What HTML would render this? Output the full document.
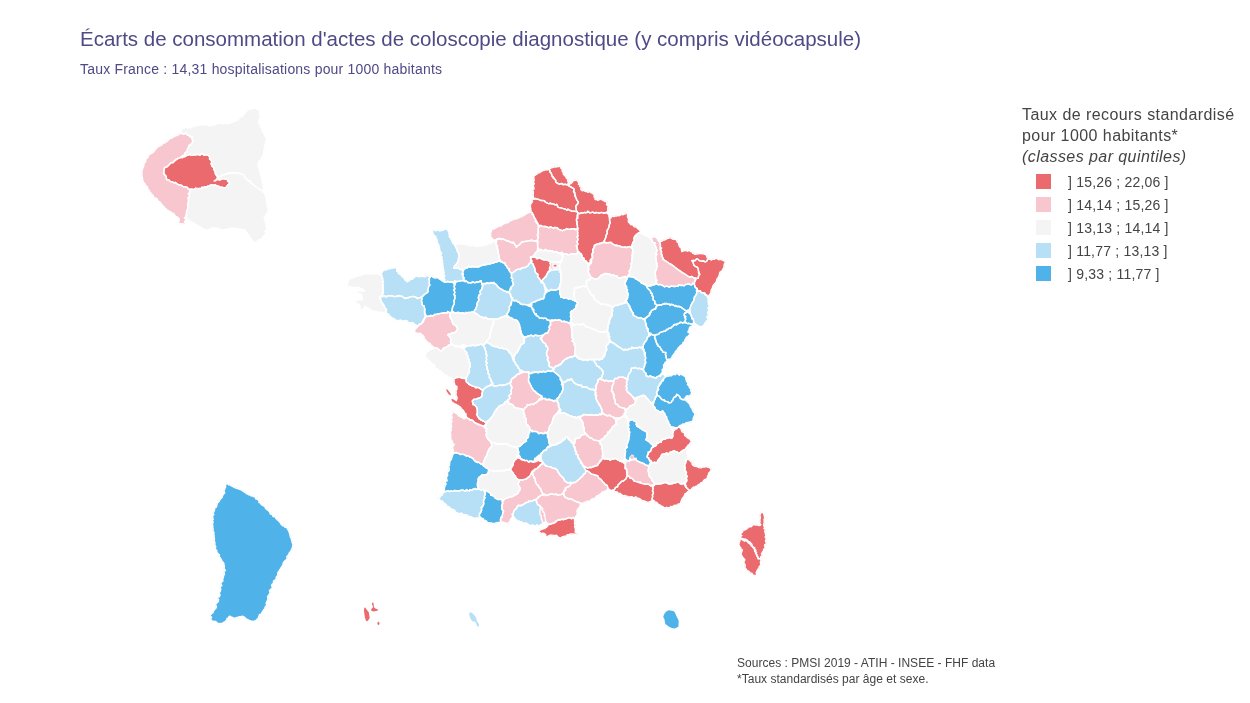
<!DOCTYPE html>
<html lang="fr">
<head>
<meta charset="utf-8">
<title>Écarts de consommation d'actes de coloscopie diagnostique</title>
<style>
html,body{margin:0;padding:0;background:#fff;}
body{width:1250px;height:703px;position:relative;overflow:hidden;font-family:"Liberation Sans",Arial,sans-serif;}
.t{position:absolute;white-space:nowrap;will-change:transform;}
#title{left:79.6px;top:29.4px;font-size:20.5px;line-height:1;color:#4f4986;}
#sub{left:79.5px;top:61.7px;font-size:14px;letter-spacing:0.2px;line-height:1;color:#4f4986;}
#lt{left:1022px;top:103.9px;font-size:16px;letter-spacing:0.43px;line-height:21px;color:#444;}
#lt i{font-style:italic;}
.li{position:absolute;left:1036px;width:15px;height:15px;}
.ll{position:absolute;will-change:transform;left:1068px;font-size:14px;letter-spacing:0.2px;line-height:1;color:#444;white-space:nowrap;}
#src{left:737px;top:655.3px;font-size:12px;letter-spacing:0.02px;line-height:16.4px;color:#444;}
svg{position:absolute;left:0;top:0;}
</style>
</head>
<body>
<svg width="1250" height="703" viewBox="0 0 1250 703">
<g stroke-width="0.6" stroke-linejoin="round">
<polygon fill="#f4f4f4" stroke="#f4f4f4" points="549.9,259.8 562.7,257.7 563.2,271.3 558.9,270.5 547.8,272.2 549.1,262.8"/>
<polygon fill="#ea6a6d" stroke="#ea6a6d" points="534.4,175.8 536.0,174.6 536.5,174.4 537.9,173.1 539.5,172.9 540.5,171.7 541.6,171.5 542.9,170.5 544.2,170.4 545.6,169.9 546.2,169.7 548.4,169.7 548.8,168.2 548.8,168.2 550.1,170.7 550.0,172.3 550.9,172.8 551.9,174.9 552.0,176.5 553.1,176.7 554.3,178.4 555.3,179.9 555.7,181.9 556.9,183.0 558.3,183.5 559.0,184.4 561.3,183.4 561.9,184.2 564.0,184.6 565.4,184.3 567.1,184.7 567.7,184.4 568.5,185.7 570.7,186.9 572.0,187.7 573.8,188.6 574.2,189.5 573.5,191.8 574.8,192.3 574.4,193.1 575.5,195.3 574.7,195.9 575.8,197.3 576.5,199.3 576.8,199.9 578.4,202.1 577.9,203.5 576.3,205.5 575.7,206.1 576.2,208.9 576.2,209.1 576.2,210.4 577.3,211.7 574.9,211.4 574.0,211.2 572.2,211.4 570.8,210.6 569.6,210.3 567.9,209.1 566.9,210.3 565.1,209.0 562.5,208.4 561.2,207.8 560.4,207.8 558.2,207.4 557.4,205.9 556.7,204.3 555.3,204.8 554.8,204.7 552.5,203.7 551.2,203.7 550.4,203.2 548.6,203.6 547.8,203.3 545.3,202.0 544.6,201.0 544.2,200.6 541.8,200.4 541.2,200.6 539.5,199.9 537.9,199.2 537.1,199.3 535.1,198.3 534.4,199.4 532.6,198.6 533.5,197.1 533.1,196.0 533.3,193.1 533.3,191.9 532.7,189.8 534.1,189.0 533.8,187.2 533.3,185.8 533.7,184.2 534.4,183.8 533.1,181.2 534.3,180.7 533.9,179.1 534.0,178.3 533.9,176.0"/>
<polygon fill="#ea6a6d" stroke="#ea6a6d" points="548.8,168.2 550.4,168.3 552.5,167.1 552.9,167.6 554.9,166.6 556.0,167.2 557.7,166.3 558.9,166.7 561.4,165.5 560.6,167.9 561.8,168.6 562.2,170.7 562.4,171.8 563.2,172.4 563.5,174.6 564.8,175.4 565.4,176.5 566.3,177.6 566.4,178.3 568.2,179.4 567.5,181.0 569.2,182.2 567.9,183.0 569.3,184.6 568.6,185.7 569.6,184.1 570.9,183.7 572.0,182.5 572.6,181.8 573.4,180.5 576.0,180.3 575.8,179.8 578.1,179.8 577.3,180.9 579.0,182.8 578.3,184.2 580.3,185.1 579.6,186.3 581.5,187.7 580.7,189.2 582.1,190.7 582.5,190.4 584.1,190.6 585.0,191.3 586.5,191.5 587.9,192.3 588.8,192.0 589.5,191.4 591.1,192.8 592.9,193.2 593.3,194.3 594.4,194.8 594.0,196.9 595.1,197.6 595.0,199.6 597.0,199.4 597.6,200.4 600.1,199.3 600.3,199.2 602.1,199.9 603.6,200.5 604.8,201.6 606.9,201.4 606.8,203.4 606.4,204.4 608.5,206.8 607.7,207.7 607.8,209.4 608.1,209.7 607.2,211.8 606.5,212.4 605.9,212.7 603.6,213.3 602.8,212.6 600.9,212.5 599.6,213.2 598.3,212.9 596.3,212.4 595.6,213.0 593.8,212.7 592.8,212.1 591.2,212.6 589.8,212.9 587.8,211.3 588.0,212.2 585.1,212.7 584.7,212.4 582.4,213.2 581.2,212.7 579.8,213.7 577.8,213.0 577.3,211.7 576.2,210.4 576.2,209.1 576.2,208.9 575.7,206.1 576.3,205.5 577.9,203.5 578.4,202.1 576.8,199.9 576.5,199.3 575.8,197.3 574.7,195.9 575.5,195.3 574.4,193.1 574.8,192.3 573.5,191.8 574.2,189.5 573.8,188.6 572.0,187.7 570.7,186.9 568.5,185.7 567.7,184.4 566.9,184.8 564.8,184.2 563.2,184.8 562.4,183.4 560.0,184.0 558.7,183.8 557.1,183.1 555.7,182.0 556.0,180.5 554.7,179.2 552.9,177.9 553.3,177.1 551.6,175.2 551.5,173.7 550.9,172.5 549.9,171.9 549.9,170.7"/>
<polygon fill="#ea6a6d" stroke="#ea6a6d" points="577.8,213.0 579.8,213.7 581.2,212.7 582.4,213.2 584.7,212.4 585.1,212.7 588.0,212.2 587.8,211.3 589.8,212.9 591.2,212.6 592.8,212.1 593.8,212.7 595.6,213.0 596.3,212.4 598.3,212.9 599.6,213.2 600.9,212.5 602.8,212.6 603.6,213.3 605.9,212.7 606.5,212.4 607.8,213.6 609.3,215.2 609.2,217.0 611.0,217.7 609.5,218.4 609.6,220.5 610.2,223.0 609.5,224.2 609.2,225.5 608.9,227.0 608.2,229.0 607.0,230.6 607.1,231.4 607.4,233.2 605.8,235.8 606.1,237.0 605.5,238.0 604.9,239.7 604.2,240.9 603.4,242.6 601.7,242.6 599.7,243.9 599.7,243.3 597.0,244.2 596.7,244.4 594.9,245.2 594.6,245.5 594.5,247.7 593.9,247.8 592.6,249.9 593.0,250.9 592.9,253.3 591.7,254.2 592.4,256.0 592.8,258.0 591.4,258.4 590.1,260.1 590.1,261.2 590.7,262.9 587.6,264.3 587.4,263.4 586.4,261.3 584.2,260.1 583.9,258.6 584.1,258.4 582.0,257.3 582.0,255.7 581.2,253.8 579.2,253.0 579.5,252.4 578.0,251.2 577.0,249.0 577.2,248.3 577.1,246.7 576.2,245.7 577.9,244.5 577.4,242.3 577.0,242.0 577.8,239.9 577.9,238.7 577.1,236.7 577.9,236.4 577.5,233.9 577.8,232.8 577.4,231.1 577.6,230.5 577.9,228.2 577.3,227.0 577.4,226.6 577.4,224.9 576.7,223.8 577.3,221.7 576.5,221.1 576.6,219.1 577.8,218.0 576.9,217.7 577.7,215.4 578.0,215.4"/>
<polygon fill="#ea6a6d" stroke="#ea6a6d" points="532.6,198.6 534.4,199.4 535.1,198.3 537.1,199.3 537.9,199.2 539.5,199.9 541.2,200.6 541.8,200.4 544.2,200.6 544.6,201.0 545.3,202.0 547.8,203.3 548.6,203.6 550.4,203.2 551.2,203.7 552.5,203.7 554.8,204.7 555.3,204.8 556.7,204.3 557.4,205.9 558.2,207.4 560.4,207.8 561.2,207.8 562.5,208.4 565.1,209.0 566.9,210.3 567.9,209.1 569.6,210.3 570.8,210.6 572.2,211.4 574.0,211.2 574.9,211.4 577.3,211.7 577.7,213.4 577.0,215.9 577.8,216.5 578.0,217.8 576.5,219.1 576.5,221.1 577.3,221.7 576.7,223.8 577.4,224.9 577.4,226.6 577.3,227.0 577.9,228.2 575.3,229.6 574.6,228.7 572.2,228.7 571.2,229.0 569.5,229.4 567.8,229.2 566.8,228.5 565.1,229.7 563.9,229.8 562.6,230.8 560.5,229.8 559.3,229.6 558.1,228.7 557.0,227.6 554.4,227.4 553.9,228.1 551.5,227.3 550.0,227.0 549.1,227.8 546.2,226.6 545.6,226.5 544.2,226.5 541.5,226.4 541.1,225.4 539.4,225.6 537.9,224.2 537.7,223.0 536.3,222.8 536.5,221.1 535.3,218.8 534.2,217.7 534.0,216.8 533.4,214.3 532.0,214.2 532.4,212.7 530.8,212.1 531.1,210.4 530.6,209.1 530.9,208.3 530.1,206.7 530.6,206.2 530.3,204.0 530.9,203.8 532.5,201.6 532.3,201.2 531.7,199.3 532.6,198.6"/>
<polygon fill="#f7c6ce" stroke="#f7c6ce" points="539.4,225.6 541.1,225.4 541.5,226.4 544.2,226.5 545.6,226.5 546.2,226.6 549.1,227.8 550.0,227.0 551.5,227.3 553.9,228.1 554.4,227.4 557.0,227.6 558.1,228.7 559.3,229.6 560.5,229.8 562.6,230.8 563.9,229.8 565.1,229.7 566.8,228.5 567.8,229.2 569.5,229.4 571.2,229.0 572.2,228.7 574.6,228.7 575.3,229.6 577.9,228.2 577.6,230.5 577.4,231.1 577.8,232.8 577.5,233.9 577.9,236.4 577.1,236.7 577.9,238.7 577.8,239.9 577.0,242.0 577.4,242.3 577.9,244.5 576.2,245.7 577.1,246.7 577.2,248.3 577.7,249.4 577.4,251.8 577.3,252.3 576.6,253.9 574.7,253.8 573.6,253.8 572.3,253.6 570.4,254.1 569.6,254.6 567.3,254.5 566.6,253.6 564.8,254.3 562.5,253.1 561.8,252.3 560.2,252.8 557.9,253.0 557.3,251.7 555.5,251.8 553.3,252.1 552.6,251.0 550.5,251.0 548.9,250.5 548.5,251.1 547.2,250.9 545.4,249.4 544.1,250.6 543.1,250.6 541.5,249.9 541.0,249.3 539.5,250.8 538.8,248.2 538.1,247.7 537.6,247.1 537.7,244.9 537.3,243.3 537.6,243.3 537.9,241.1 537.4,241.0 537.7,239.3 538.0,237.8 538.5,237.0 537.2,235.1 538.6,233.6 538.1,232.1 538.2,231.5 538.2,229.1 538.4,228.2 539.1,227.0"/>
<polygon fill="#ea6a6d" stroke="#ea6a6d" points="606.5,212.4 607.8,213.5 609.2,215.2 609.2,216.6 610.8,217.6 611.8,216.3 612.2,216.4 614.5,216.5 614.4,215.8 616.8,216.1 617.4,215.4 618.9,215.9 620.3,215.1 621.6,214.2 622.8,214.8 624.8,213.9 625.8,213.7 626.4,210.9 626.8,209.1 627.1,208.5 627.5,209.3 626.6,211.5 627.3,212.5 627.5,215.1 627.5,216.0 627.5,217.0 628.2,218.0 628.4,219.3 628.4,221.9 628.7,222.5 629.8,223.2 630.5,224.5 632.7,224.9 633.3,225.7 634.5,226.9 636.2,227.1 637.2,228.1 638.1,229.1 639.6,230.0 639.6,230.6 641.1,232.6 639.0,232.9 637.9,233.5 637.0,233.9 636.1,236.5 634.8,236.5 633.7,238.4 634.1,239.0 634.5,240.6 633.5,241.6 632.9,242.9 632.3,244.7 632.0,245.5 631.9,247.9 629.6,246.4 628.1,246.9 626.8,247.5 624.9,247.0 624.2,247.5 621.7,246.9 621.8,247.2 620.2,246.1 618.2,245.8 617.0,245.2 615.5,245.6 614.7,244.6 613.5,244.6 611.8,243.3 611.0,242.3 608.4,242.6 607.7,242.6 605.7,242.7 604.2,242.3 603.4,242.6 604.2,240.9 604.9,239.7 605.5,238.0 606.1,237.0 605.8,235.8 607.4,233.2 607.1,231.4 607.0,230.6 608.2,229.0 608.9,227.0 609.2,225.5 609.5,224.2 610.2,223.0 609.6,220.5 609.5,218.4 611.0,217.7 609.2,217.0 609.3,215.2 607.8,213.6"/>
<polygon fill="#f7c6ce" stroke="#f7c6ce" points="490.6,236.7 490.5,235.4 491.0,234.2 490.0,233.0 491.5,231.5 491.3,230.2 490.7,228.9 493.2,229.4 493.9,228.4 494.6,228.6 496.6,227.3 497.4,227.0 498.5,226.3 499.5,225.9 501.1,226.0 501.9,224.9 502.5,224.8 504.8,223.2 505.2,223.5 506.0,222.5 508.3,222.7 508.8,221.7 510.0,221.1 511.6,220.4 512.8,219.7 513.9,219.2 516.8,218.8 517.5,217.7 518.8,218.0 520.9,216.6 521.6,216.9 522.0,215.7 523.7,215.8 525.0,214.4 525.9,214.2 526.9,213.4 527.6,212.7 529.6,212.5 529.7,211.7 530.8,212.1 532.3,212.6 532.5,214.4 533.4,215.7 534.2,217.3 534.4,217.9 535.5,218.7 535.2,221.2 537.0,221.6 536.3,222.4 538.1,223.8 538.0,225.9 539.0,226.9 538.2,228.0 538.2,229.3 538.4,231.3 538.0,232.0 538.4,233.5 537.5,235.4 538.4,236.7 538.0,237.8 537.3,239.3 537.5,240.9 535.8,241.2 535.7,240.7 533.9,241.1 532.8,240.9 531.2,239.8 531.0,240.6 528.4,240.8 527.1,241.2 525.4,241.4 524.4,241.4 522.0,241.9 521.0,243.0 520.4,243.5 519.2,244.9 517.6,245.8 516.3,247.4 516.1,245.7 515.0,245.1 514.8,244.3 513.2,242.0 512.3,243.1 510.9,242.2 509.2,241.7 508.4,240.6 506.1,240.7 505.3,239.6 504.4,239.7 502.4,238.8 502.0,239.5 499.2,238.5 498.8,239.2 496.9,239.2 496.0,239.9 495.8,240.1 493.3,239.6 492.4,238.9 491.5,237.7"/>
<polygon fill="#f7c6ce" stroke="#f7c6ce" points="496.9,238.8 498.6,239.2 499.2,238.2 502.1,239.5 502.4,238.8 504.4,239.7 505.3,239.6 506.1,240.7 508.4,240.6 509.2,241.7 510.9,242.2 512.3,243.1 513.2,242.0 514.8,244.3 515.0,245.1 516.1,245.7 516.3,247.4 517.6,245.8 519.2,244.9 520.4,243.5 521.0,243.0 521.8,241.9 524.5,241.7 525.4,241.4 527.0,241.3 528.4,240.8 531.0,240.6 531.2,239.8 532.8,240.9 533.9,241.1 535.7,240.7 535.8,241.2 537.5,240.9 537.9,242.8 537.4,243.3 537.7,244.9 537.6,247.2 537.5,247.8 537.5,249.4 537.2,250.8 536.3,252.0 535.8,252.4 534.8,253.6 534.0,255.7 533.8,255.8 532.0,256.7 530.5,257.4 530.7,259.2 530.7,260.4 530.7,262.4 529.6,263.3 528.6,264.6 527.9,266.0 527.4,266.1 525.4,267.3 524.5,267.6 524.0,267.4 521.8,268.2 521.6,268.1 520.3,269.5 519.0,269.1 517.6,269.4 516.0,270.2 513.5,272.1 513.1,272.6 511.5,273.1 510.5,272.3 509.3,270.7 507.8,268.4 507.4,267.5 507.0,266.2 505.3,264.9 505.1,263.0 503.2,262.9 501.8,261.7 501.0,261.2 500.0,260.7 499.1,258.6 499.5,257.3 498.5,254.8 498.6,253.9 497.8,252.1 498.1,251.9 497.7,250.6 497.6,248.0 496.7,247.3 497.6,245.8 496.1,244.9 496.3,243.6 496.7,241.0"/>
<polygon fill="#f4f4f4" stroke="#f4f4f4" points="454.8,244.7 455.0,244.7 456.9,244.1 457.8,243.4 459.3,244.1 461.0,243.5 461.1,243.6 462.8,244.0 464.7,244.6 465.5,244.0 467.6,244.4 468.5,245.7 470.2,245.2 471.0,246.0 472.3,245.4 474.9,246.2 475.2,246.0 477.4,246.2 477.9,245.8 479.2,246.1 480.7,245.6 482.3,246.1 483.8,244.9 486.1,245.2 487.4,243.9 487.8,244.2 490.3,243.1 491.1,243.5 491.6,242.4 493.7,241.8 495.8,240.1 495.1,241.0 496.3,243.6 496.1,244.8 497.6,246.0 497.1,247.9 497.1,248.7 498.4,250.7 497.8,251.4 498.6,253.9 499.0,255.3 498.6,256.5 499.4,257.5 499.0,258.6 500.6,260.2 499.3,261.4 498.4,260.9 496.6,262.2 495.6,261.9 493.3,263.1 492.7,262.9 489.7,264.0 488.6,263.7 487.3,264.5 485.9,264.4 484.6,265.2 483.1,264.5 481.9,265.6 480.3,265.9 479.1,266.8 477.6,267.0 476.2,266.5 474.9,267.1 473.0,266.5 471.9,266.8 470.5,267.3 469.1,266.5 468.4,266.5 467.4,267.9 465.4,268.3 463.7,269.9 463.0,270.5 461.5,269.5 460.6,269.6 458.8,268.5 457.6,268.1 455.7,267.9 453.6,268.4 454.6,265.8 455.7,265.0 456.8,263.4 457.8,261.9 458.3,260.6 458.4,258.9 458.9,256.8 459.1,256.7 459.1,254.4 458.3,253.0 458.6,253.4 457.3,251.1 457.0,249.3 456.4,248.6 455.7,246.8 455.0,245.6"/>
<polygon fill="#b7e0f6" stroke="#b7e0f6" points="431.8,229.0 433.1,229.5 435.3,229.4 434.9,230.7 436.8,230.5 437.9,229.6 439.7,231.0 439.7,231.0 442.1,230.0 442.7,230.5 444.2,229.5 445.8,228.7 446.7,229.3 448.3,230.4 448.2,231.5 449.5,232.6 448.8,234.1 450.0,235.3 449.0,236.5 450.5,238.1 450.8,239.0 451.8,240.6 452.3,242.1 453.1,243.7 454.8,244.7 454.8,244.7 455.0,245.6 455.7,246.8 456.4,248.6 457.0,249.3 457.3,251.1 458.6,253.4 458.3,253.0 459.1,254.4 459.1,256.7 458.9,256.8 458.4,258.9 458.3,260.6 457.8,261.9 456.8,263.4 455.7,265.0 454.6,265.8 453.6,268.4 455.7,267.9 457.6,268.1 458.8,268.5 460.6,269.6 461.5,269.5 463.0,270.5 463.0,271.5 462.5,272.3 463.4,274.2 461.9,274.0 463.2,276.3 463.1,277.9 464.1,277.6 463.7,279.5 463.1,280.1 461.4,280.6 459.7,281.3 458.2,281.3 456.8,281.5 454.7,280.8 454.2,282.0 451.1,282.0 450.9,282.0 448.8,282.1 447.8,281.2 446.1,282.3 444.4,282.3 444.4,282.3 444.6,280.7 445.0,279.4 443.5,277.5 445.0,276.1 443.8,275.3 444.1,273.2 443.9,271.9 443.4,269.5 443.6,269.1 443.0,267.7 443.2,266.2 442.5,265.0 443.0,263.1 441.8,262.8 442.6,260.4 441.6,259.4 442.1,257.0 440.5,255.7 441.7,253.5 440.8,252.2 440.6,251.5 439.4,250.1 439.8,248.3 438.7,247.8 439.6,246.8 438.1,244.6 438.6,244.0 436.8,243.4 437.5,241.1 436.3,240.3 437.0,239.8 435.9,237.7 435.8,236.7 434.3,235.3 433.5,235.0 432.8,233.1 432.6,231.6 432.4,230.7"/>
<polygon fill="#4fb2e8" stroke="#4fb2e8" points="463.0,270.5 463.7,269.9 465.4,268.3 467.4,267.9 468.4,266.5 469.1,266.5 470.5,267.3 471.9,266.8 473.0,266.5 474.9,267.1 476.2,266.5 477.6,267.0 479.1,266.8 480.3,265.9 481.9,265.6 483.1,264.5 484.6,265.2 485.9,264.4 487.3,264.5 488.6,263.7 489.7,264.0 492.7,262.9 493.3,263.1 495.6,261.9 496.6,262.2 498.4,260.9 499.3,261.4 501.2,262.2 502.2,261.8 503.1,262.9 505.1,263.0 505.2,264.8 507.0,266.4 507.1,267.5 507.5,268.1 509.6,268.9 509.1,270.7 510.6,272.6 511.5,273.1 511.4,274.9 511.7,275.9 511.2,277.6 512.7,278.9 512.2,280.9 513.1,282.5 512.7,282.8 513.6,284.2 512.5,286.0 511.6,286.6 511.3,287.6 511.0,289.0 510.3,289.2 509.3,291.8 508.2,291.8 506.8,291.5 504.7,291.4 503.0,290.4 501.9,289.2 500.7,288.9 499.4,288.1 497.4,286.4 496.8,284.9 495.7,284.0 494.0,283.6 494.1,282.4 491.9,283.1 491.1,282.5 488.9,283.5 486.9,282.9 486.0,283.7 485.1,283.4 483.6,283.5 482.0,284.9 481.6,282.5 481.1,280.7 479.6,281.6 477.4,282.2 475.7,282.5 474.4,282.7 472.3,281.8 471.3,282.8 469.4,282.9 467.9,282.7 467.9,282.1 465.4,280.7 465.3,280.5 463.7,279.5 464.1,277.6 463.1,277.9 463.2,276.3 461.9,274.0 463.4,274.2 462.5,272.3 463.0,271.5"/>
<polygon fill="#ea6a6d" stroke="#ea6a6d" points="530.4,257.2 532.9,257.1 532.7,257.0 534.9,257.3 535.6,257.3 537.0,258.8 539.4,257.7 540.9,258.6 542.3,259.0 542.8,259.6 544.1,259.9 546.5,259.8 546.9,260.2 548.9,260.1 549.3,261.4 550.7,261.6 550.6,261.8 549.8,263.1 550.7,265.0 550.4,265.9 549.7,267.1 549.4,268.9 550.5,270.2 549.5,271.1 548.0,271.8 547.5,273.0 547.0,273.9 546.7,274.3 546.0,276.9 545.2,276.8 544.0,278.5 542.8,279.3 541.8,281.4 541.1,282.5 541.0,281.5 540.0,279.5 539.1,278.3 537.6,276.8 538.0,274.3 536.4,273.4 535.6,272.3 534.7,269.8 534.9,268.6 534.1,266.9 533.3,265.2 533.4,264.5 531.5,262.3 532.1,260.9 530.8,259.9 531.2,258.9"/>
<polygon fill="#f4f4f4" stroke="#f4f4f4" points="536.3,252.1 538.0,250.7 539.6,250.7 540.5,249.4 542.7,250.3 543.9,250.8 545.6,249.4 546.4,250.4 548.2,251.3 548.4,250.5 550.6,250.8 551.2,251.0 553.0,251.2 553.4,252.2 555.4,251.9 556.0,251.3 558.0,252.6 558.5,252.8 559.5,253.6 560.7,254.2 561.8,255.4 562.8,255.7 562.7,257.1 562.3,258.9 561.7,261.3 560.9,261.8 559.5,262.5 557.8,261.7 556.5,261.8 555.1,261.8 553.3,262.0 552.0,262.4 550.7,261.7 548.6,260.8 546.9,260.2 546.5,259.8 544.1,259.9 542.8,259.6 542.3,259.0 540.9,258.6 539.4,257.7 537.0,258.8 535.6,257.3 534.9,257.3 532.7,257.0 532.9,257.1 530.4,257.2 532.0,256.7 533.8,255.8 534.0,255.8 534.8,253.5 535.8,252.4"/>
<polygon fill="#b7e0f6" stroke="#b7e0f6" points="549.3,270.3 550.1,271.2 551.7,270.0 553.4,270.1 554.3,270.0 556.5,269.0 556.9,270.0 559.4,269.8 559.6,269.0 559.6,268.9 560.7,270.9 559.8,272.1 561.1,273.0 560.6,275.4 560.7,276.2 560.9,277.7 560.8,278.2 560.7,280.4 561.0,281.1 560.7,282.2 560.3,284.2 559.9,284.6 560.2,286.5 559.4,287.1 558.4,288.5 557.5,289.6 555.8,290.0 554.8,290.0 553.0,290.1 551.7,289.3 549.9,290.7 548.5,290.8 546.8,289.2 546.1,288.3 545.9,287.9 544.0,286.0 544.8,284.6 543.0,283.6 543.4,282.6 541.8,281.4 542.8,279.3 544.0,278.5 545.2,276.8 546.0,276.9 546.7,274.3 547.3,274.7 547.8,272.1 548.7,272.3"/>
<polygon fill="#f7c6ce" stroke="#f7c6ce" points="594.9,245.3 596.5,244.2 596.7,244.4 599.7,243.3 600.3,243.6 602.7,242.4 604.1,242.7 605.6,242.1 606.4,242.9 608.2,242.6 608.4,242.4 611.3,242.6 612.0,243.2 613.5,244.6 614.6,244.6 615.4,245.5 616.8,245.2 617.8,245.8 619.8,245.7 620.4,246.9 622.2,246.9 623.3,247.3 625.1,247.0 626.7,247.6 628.1,246.9 629.7,246.6 630.9,247.3 631.9,248.2 632.5,249.1 632.9,250.7 632.4,252.2 633.0,253.4 632.2,254.3 632.1,256.2 632.5,257.3 631.8,258.1 631.8,260.3 631.7,261.1 632.0,262.5 630.8,263.8 631.7,265.7 631.4,266.0 630.5,268.5 630.6,268.5 629.8,270.9 629.0,271.1 629.8,273.1 629.5,273.8 628.1,275.4 627.6,276.3 627.6,277.4 624.9,276.5 624.8,276.7 622.6,277.5 621.6,277.4 620.4,278.3 618.4,277.8 617.4,277.3 617.0,275.9 614.3,275.5 613.1,274.6 612.2,275.3 610.3,274.9 609.8,273.9 607.4,274.0 606.9,273.4 605.5,274.0 604.2,273.4 602.9,274.8 601.6,274.7 600.5,276.0 599.3,277.1 598.6,278.3 597.5,278.6 595.7,279.1 595.4,279.4 593.3,278.4 593.2,278.3 590.7,278.0 590.8,277.1 589.9,275.2 588.6,274.4 588.8,273.1 587.9,271.1 588.5,270.6 588.8,268.7 587.9,266.6 588.9,266.2 590.0,263.5 591.0,263.6 591.6,261.5 591.6,260.4 591.7,258.4 592.4,258.0 591.9,255.6 592.4,255.7 592.3,253.1 593.2,252.2 593.0,250.8 593.0,249.6 593.7,247.8 594.4,245.3"/>
<polygon fill="#f4f4f4" stroke="#f4f4f4" points="634.6,236.3 636.1,234.8 637.3,233.9 638.8,232.7 639.7,232.7 640.9,232.8 642.7,234.1 642.7,234.2 644.9,235.3 645.0,235.5 647.0,236.1 647.8,236.5 648.7,236.8 648.7,236.8 650.2,238.3 650.5,238.5 651.8,239.6 652.2,241.5 652.8,242.3 655.2,243.0 654.3,244.2 655.5,246.4 656.3,248.1 656.5,249.0 657.2,250.9 656.7,251.0 655.5,253.6 657.0,254.1 656.2,255.7 655.5,256.7 656.4,258.9 656.3,259.7 656.1,261.1 657.0,263.4 656.2,263.7 657.1,265.1 657.0,266.4 656.4,269.2 656.3,270.2 655.4,271.1 655.1,273.1 655.4,274.6 655.6,277.0 655.7,277.6 655.6,279.0 657.1,280.2 655.7,281.5 657.3,284.1 655.4,284.0 654.3,285.0 653.3,284.5 651.0,285.2 650.9,285.9 648.7,286.1 647.8,286.0 645.7,285.2 644.1,284.2 643.5,283.9 641.4,283.2 640.3,281.7 640.1,281.1 638.0,280.4 638.0,279.4 636.0,279.2 635.7,277.9 634.2,277.8 632.8,276.8 631.7,276.5 630.0,276.8 628.2,275.2 629.5,273.9 629.6,273.0 629.0,271.1 629.8,270.9 630.6,268.5 630.5,268.5 631.4,266.0 631.7,265.7 630.8,263.8 632.0,262.5 631.7,261.1 631.8,260.3 631.8,258.1 632.5,257.3 632.1,256.2 632.2,254.3 633.0,253.4 632.4,252.2 632.9,250.7 632.5,249.1 631.9,248.2 630.9,247.3 631.9,244.9 632.4,244.5 632.7,242.7 633.5,241.6 634.3,240.8 634.3,238.7 634.1,238.8"/>
<polygon fill="#f7c6ce" stroke="#f7c6ce" points="648.7,236.8 650.1,238.3 650.7,238.2 652.9,237.1 654.0,237.1 654.3,236.3 656.4,238.0 657.8,238.6 657.6,239.6 658.9,241.3 659.9,241.6 660.1,242.8 660.4,244.8 660.4,246.2 660.1,248.1 661.5,247.9 660.3,249.7 661.5,251.5 661.5,252.7 661.3,254.4 662.0,254.9 662.2,256.7 663.4,258.6 662.9,259.5 663.9,259.7 665.2,260.9 665.9,261.0 667.3,262.3 668.2,262.4 669.2,263.6 670.7,264.0 671.1,264.4 673.2,265.8 673.8,266.2 675.0,267.3 676.8,268.5 676.8,268.8 678.9,270.1 679.1,270.5 680.1,270.9 681.7,272.1 681.5,272.3 683.8,273.3 686.3,275.0 687.8,276.1 688.7,276.7 689.9,277.1 691.9,276.4 693.7,278.0 695.2,277.9 695.2,278.7 695.0,281.3 694.4,282.1 694.4,283.6 692.7,283.2 691.9,284.8 689.7,284.5 689.3,284.0 686.6,284.4 685.6,284.5 683.8,285.9 682.1,285.1 681.3,285.5 678.9,284.8 678.4,286.0 675.6,286.4 674.8,286.5 672.3,286.3 671.1,285.9 669.3,287.2 667.7,286.4 666.3,286.1 664.4,286.8 662.9,285.7 661.6,285.0 660.0,284.4 658.7,284.9 657.3,284.1 655.7,281.5 657.1,280.2 655.6,279.0 655.7,277.6 655.6,277.0 655.4,274.6 655.1,273.1 655.4,271.1 656.3,270.2 656.4,269.2 657.0,266.4 657.1,265.1 656.2,263.7 657.0,263.4 656.1,261.1 656.3,259.7 656.4,258.9 655.5,256.7 656.2,255.7 657.0,254.1 655.5,253.6 656.7,251.0 657.2,250.9 656.5,249.0 656.3,248.1 655.5,246.4 654.3,244.2 655.2,243.0 652.8,242.3 652.2,241.5 651.8,239.6 650.5,238.5 650.2,238.3"/>
<polygon fill="#ea6a6d" stroke="#ea6a6d" points="659.6,241.4 662.2,241.3 662.6,240.4 664.3,240.0 665.8,239.3 666.5,238.9 668.1,238.3 669.6,237.9 671.1,237.9 672.4,239.0 674.6,239.4 676.6,239.8 676.9,240.8 677.2,242.1 678.6,243.0 678.7,244.5 679.7,246.9 681.0,247.6 681.3,248.9 681.8,251.5 684.4,250.7 684.7,250.5 687.1,250.7 687.6,251.2 689.0,250.4 690.2,251.1 692.6,252.5 692.7,253.2 693.7,253.4 695.0,254.3 696.3,254.0 698.8,253.8 699.6,253.6 702.2,253.6 702.1,253.9 703.8,253.9 705.4,254.7 706.4,254.4 706.6,255.9 707.3,257.9 708.2,258.2 708.1,258.9 708.1,258.9 707.2,260.1 706.5,261.3 705.1,261.8 703.5,260.9 701.4,261.1 699.3,260.6 698.2,259.4 696.6,259.0 694.9,260.7 693.5,260.4 691.8,260.8 692.9,261.2 693.2,262.6 693.8,265.1 694.6,265.8 695.4,266.3 697.5,267.4 697.3,267.5 698.3,268.6 698.4,270.7 699.0,272.5 698.5,272.7 699.8,274.2 698.7,275.4 698.4,276.6 698.4,278.1 697.0,278.2 695.2,277.9 693.7,278.0 691.9,276.4 689.9,277.1 688.7,276.7 687.8,276.1 686.3,275.0 683.8,273.3 681.5,272.3 681.7,272.1 680.1,270.9 679.1,270.5 678.9,270.1 676.8,268.8 676.8,268.5 675.0,267.3 673.8,266.2 673.2,265.8 671.1,264.4 670.7,264.0 669.2,263.6 668.2,262.4 667.3,262.3 665.9,261.0 665.2,260.9 663.9,259.7 662.9,259.5 663.4,258.6 662.2,256.7 662.0,254.9 661.3,254.4 661.5,252.7 661.5,251.4 660.3,249.8 661.6,248.1 660.1,248.3 660.4,246.2 660.5,244.6 659.8,243.0"/>
<polygon fill="#ea6a6d" stroke="#ea6a6d" points="691.8,260.8 693.5,260.4 694.9,260.7 696.6,259.0 698.2,259.4 699.3,260.6 701.4,261.1 703.5,260.9 705.1,261.8 706.5,261.3 707.2,260.1 708.1,258.9 710.1,259.2 711.5,260.1 712.2,259.0 714.4,259.3 713.9,259.0 716.2,258.3 717.3,258.5 718.6,259.7 719.0,259.4 721.2,259.6 722.2,259.8 723.6,260.9 724.6,260.9 725.5,262.2 724.5,263.7 724.1,264.9 724.0,266.8 723.5,268.7 722.8,268.9 722.3,270.6 721.3,271.3 719.9,272.4 719.5,273.7 719.5,274.3 718.5,277.0 717.7,278.1 717.0,278.9 716.3,281.7 715.4,283.1 714.3,284.1 713.1,285.5 712.2,288.4 711.6,289.1 711.2,290.0 710.7,293.0 709.9,294.1 708.8,295.4 707.6,296.9 707.0,296.2 706.6,294.7 704.8,294.6 704.9,293.2 702.9,292.8 700.9,292.2 700.2,290.6 698.8,291.0 697.1,289.4 696.6,288.0 695.4,287.6 695.1,286.7 694.4,284.5 694.4,283.6 694.5,281.4 695.4,281.2 695.7,279.5 696.8,278.7 698.4,278.1 698.4,276.6 698.7,275.4 699.8,274.2 698.5,272.7 699.0,272.5 698.4,270.7 698.3,268.6 697.3,267.5 697.5,267.4 695.4,266.3 694.6,265.8 693.8,265.1 693.2,262.6 692.9,261.2"/>
<polygon fill="#b7e0f6" stroke="#b7e0f6" points="698.8,291.0 700.3,290.6 701.0,292.3 702.7,293.1 705.0,293.2 705.2,294.8 706.6,295.3 707.2,296.2 707.6,296.9 707.6,296.9 708.1,298.9 708.7,299.9 707.7,301.1 709.2,303.3 708.3,303.3 708.7,304.9 709.5,306.2 707.7,308.0 708.4,308.5 708.9,310.6 707.8,311.9 707.6,312.7 708.4,314.6 708.0,316.0 706.7,317.1 708.2,318.4 707.4,320.6 706.7,320.8 705.5,322.4 704.3,324.4 703.3,325.4 702.5,326.2 702.2,326.4 700.9,326.8 699.9,326.4 697.6,325.8 697.5,325.4 696.0,324.2 694.5,324.9 693.5,323.3 693.9,322.3 693.3,319.7 692.9,318.6 692.1,318.8 691.5,316.5 690.9,314.5 690.2,314.0 690.3,312.6 690.0,310.9 689.7,310.2 690.1,307.6 690.3,307.2 690.9,305.7 692.0,302.9 692.9,302.0 693.6,300.8 694.1,299.0 694.5,296.5 695.2,296.5 696.3,294.0 696.5,294.2 697.0,291.6"/>
<polygon fill="#4fb2e8" stroke="#4fb2e8" points="647.0,287.3 647.5,287.1 649.2,285.2 651.1,286.1 651.1,285.2 653.3,284.6 654.2,284.7 655.3,284.0 657.3,284.1 658.7,284.9 660.0,284.4 661.6,285.0 662.9,285.7 664.4,286.8 666.3,286.1 667.7,286.4 669.3,287.2 671.1,285.9 672.3,286.3 674.8,286.5 675.6,286.4 678.4,286.0 678.9,284.8 681.3,285.5 682.1,285.1 683.8,285.9 685.6,284.5 686.6,284.4 689.3,284.0 689.7,284.5 691.9,284.8 692.7,283.2 694.4,283.6 694.4,284.5 695.1,286.7 695.4,287.6 697.4,288.7 696.3,290.7 697.0,291.6 696.5,294.2 696.3,294.0 695.2,296.5 694.5,296.5 694.1,299.0 693.6,300.8 692.9,302.0 692.0,302.9 690.9,305.7 690.3,307.2 690.1,307.6 689.7,310.2 688.2,309.7 686.7,311.1 686.5,311.2 684.4,309.6 682.6,308.5 682.2,308.1 680.8,307.0 680.3,307.1 679.0,306.3 677.1,306.6 676.4,306.2 674.7,306.1 674.0,305.3 671.6,304.4 670.0,305.4 669.6,304.3 667.9,304.1 666.4,303.3 664.9,304.3 663.1,303.8 661.7,305.0 660.2,304.6 657.9,305.3 656.9,305.1 655.7,304.1 654.7,303.7 654.9,301.2 653.3,300.0 653.0,299.0 653.3,296.6 651.9,295.6 652.4,293.7 650.6,292.9 650.7,291.5 650.2,290.7 648.4,289.0 647.9,288.7"/>
<polygon fill="#4fb2e8" stroke="#4fb2e8" points="630.4,276.3 632.0,277.1 633.0,276.8 634.2,277.8 635.7,277.9 636.0,279.2 638.0,279.4 638.0,280.4 640.1,281.1 640.3,281.7 641.4,283.2 643.5,283.9 644.1,284.2 645.7,285.2 647.1,287.2 647.7,288.5 648.4,289.0 650.2,290.7 650.7,291.5 650.6,292.9 652.4,293.7 651.9,295.6 653.3,296.6 653.0,299.0 653.3,300.0 654.9,301.2 654.7,303.7 655.7,304.1 656.9,305.1 656.3,307.1 655.7,307.0 655.2,309.3 654.4,309.0 652.4,310.4 651.2,310.4 651.1,312.1 649.7,312.5 649.1,315.0 649.5,315.5 646.5,316.9 645.9,318.6 645.5,318.3 644.8,319.6 642.5,318.8 640.2,317.5 638.7,318.0 638.0,317.7 636.1,316.8 635.2,316.4 633.9,315.4 633.1,315.0 632.3,311.9 631.7,311.1 631.0,310.7 631.1,308.8 629.6,308.1 630.1,306.4 628.5,305.9 628.7,304.4 627.4,303.2 627.1,302.2 626.0,300.7 627.4,298.6 627.7,297.0 627.7,296.0 628.4,293.8 627.2,292.6 627.5,290.0 626.5,289.0 626.6,286.8 626.3,286.5 625.7,285.8 624.9,283.5 624.6,282.5 625.5,282.1 626.5,279.9 627.1,278.9 627.3,277.5 628.9,276.5 630.5,276.5"/>
<polygon fill="#4fb2e8" stroke="#4fb2e8" points="642.8,318.7 643.1,318.8 645.7,317.8 646.8,317.5 647.8,316.5 649.7,314.9 650.0,314.6 650.5,312.5 651.2,311.7 652.0,310.1 654.1,309.1 655.6,309.2 656.2,307.3 656.9,306.4 658.0,305.2 658.9,305.3 660.6,304.7 661.6,305.1 662.6,304.2 664.7,304.2 664.8,303.2 667.5,304.1 669.6,304.3 669.6,304.8 672.0,304.3 673.0,304.7 674.5,305.8 676.0,305.5 676.7,306.6 679.2,306.3 679.8,307.1 680.8,307.0 682.3,308.2 682.8,308.5 684.6,309.9 685.0,310.2 686.9,311.3 685.7,313.2 684.5,313.2 684.2,315.7 685.9,316.6 684.5,317.1 685.8,319.1 685.4,319.7 685.0,321.3 686.2,322.9 683.6,322.4 682.8,323.0 681.4,322.4 680.1,322.3 679.6,323.4 678.0,323.5 676.5,324.9 676.4,324.3 673.8,324.8 673.7,325.5 672.8,326.2 671.4,327.4 670.4,328.4 669.0,328.3 667.7,329.6 666.6,329.5 665.5,331.0 663.6,331.1 663.2,331.6 661.9,331.9 659.7,332.6 659.3,333.4 658.5,334.2 655.9,334.8 655.9,334.8 653.7,335.4 651.8,334.4 650.8,333.1 648.7,332.6 648.7,332.5 647.9,331.1 648.2,328.9 646.7,328.6 647.1,327.8 645.8,325.1 646.5,324.2 645.8,324.2 645.4,321.8 644.9,320.1 644.5,319.3"/>
<polygon fill="#4fb2e8" stroke="#4fb2e8" points="686.9,311.3 687.7,312.4 688.5,312.6 690.3,314.0 690.3,314.1 690.9,314.5 691.4,316.5 692.1,318.8 692.8,318.5 693.5,319.7 693.5,322.4 694.0,322.6 695.7,324.4 693.1,325.2 692.8,323.9 691.2,324.2 689.0,323.3 687.9,323.6 686.3,323.1 686.2,322.9 685.0,321.3 685.4,319.7 685.8,319.1 684.5,317.1 685.9,316.6 684.2,315.7 684.5,313.2 685.7,313.2"/>
<polygon fill="#f4f4f4" stroke="#f4f4f4" points="590.7,278.0 593.2,278.3 593.3,278.4 595.4,279.4 595.7,279.1 597.5,278.6 598.6,278.3 599.3,277.1 600.5,276.0 601.6,274.7 602.9,274.8 604.2,273.4 605.5,274.0 606.9,273.4 607.4,274.0 609.8,273.9 610.3,274.9 612.2,275.3 613.1,274.6 614.3,275.5 617.0,275.9 617.4,277.3 618.4,277.8 620.4,278.3 621.6,277.4 622.6,277.5 624.8,276.7 624.9,276.5 627.6,277.4 627.6,276.3 627.5,277.7 626.7,278.6 626.4,280.1 625.5,281.2 624.6,282.5 624.9,283.5 625.7,285.8 626.3,286.5 626.6,286.8 626.5,289.0 627.5,290.0 627.2,292.6 628.4,293.8 627.7,296.0 627.7,297.0 627.4,298.6 626.0,300.7 625.0,300.5 624.9,302.5 624.2,302.9 622.2,304.2 621.6,303.9 620.4,304.0 619.2,305.1 617.3,304.9 617.1,305.6 614.7,305.3 613.8,306.0 612.8,306.6 610.6,306.1 610.9,306.0 608.6,304.8 608.4,305.7 606.9,305.1 605.7,304.3 603.6,304.3 602.4,304.0 602.3,304.5 599.9,303.5 598.8,302.5 597.9,301.7 597.4,301.8 596.3,300.3 594.1,298.9 594.3,298.2 593.9,296.6 591.8,295.6 591.1,294.1 590.5,293.1 589.2,290.9 588.0,289.0 587.5,288.4 587.2,286.6 586.9,285.2 586.7,285.0 586.7,282.5 586.0,281.2 587.5,279.8 589.5,280.1 590.5,278.5"/>
<polygon fill="#f4f4f4" stroke="#f4f4f4" points="347.9,280.4 348.9,279.8 349.8,278.8 351.9,278.4 353.6,277.0 354.9,276.7 357.3,276.4 357.8,275.5 359.5,275.3 360.7,275.8 361.6,274.5 362.9,274.4 364.3,274.1 364.9,273.5 367.2,273.7 367.4,273.4 370.1,273.8 370.7,273.9 372.1,273.4 372.6,274.2 374.8,273.9 375.3,273.8 377.8,273.1 378.1,274.4 379.3,274.2 380.3,275.1 382.1,275.4 381.9,276.7 382.8,278.9 382.2,279.9 383.6,282.0 382.3,282.8 383.1,284.4 382.3,286.0 383.3,287.7 383.1,288.9 382.8,289.6 383.6,292.4 383.1,293.3 381.7,294.6 381.0,296.0 380.5,296.4 379.7,297.8 381.1,299.7 380.8,300.7 381.9,302.6 382.4,303.3 382.7,304.5 383.9,305.1 384.6,306.7 385.0,308.3 386.6,309.4 386.4,311.7 385.4,311.9 384.4,312.3 382.3,312.9 381.8,312.6 379.8,311.8 378.5,313.0 377.4,311.7 376.1,311.5 374.8,311.5 372.7,311.0 372.4,310.6 370.2,309.8 370.1,309.4 368.5,308.3 367.5,307.7 366.6,307.4 365.0,306.3 364.2,307.8 363.3,308.6 362.2,310.6 361.0,312.1 361.9,310.6 360.3,309.2 360.2,308.0 359.6,306.1 358.7,304.4 358.1,303.4 356.1,303.4 355.4,302.3 354.9,302.1 352.4,301.0 350.9,302.0 349.6,300.9 351.1,300.9 352.6,300.7 355.0,301.0 355.7,299.8 358.0,300.1 359.1,299.2 360.2,299.9 362.4,299.5 362.4,297.8 361.8,294.9 361.4,294.8 359.9,293.8 358.9,293.5 357.5,293.8 356.1,294.0 355.5,292.4 353.2,292.9 353.8,291.7 354.0,290.7 356.8,291.3 356.9,292.0 359.8,290.4 359.9,290.8 362.6,291.0 362.9,290.8 364.5,291.0 363.5,289.8 361.9,288.8 360.7,288.5 359.0,287.1 357.0,288.2 356.1,287.6 353.9,287.0 352.6,287.5 351.7,287.6 349.9,286.2 349.7,286.8 347.2,286.9 347.6,285.0 347.2,284.2 348.1,281.9"/>
<polygon fill="#b7e0f6" stroke="#b7e0f6" points="382.6,271.1 383.0,270.9 385.0,269.7 387.0,269.7 387.7,268.5 390.2,268.9 391.1,267.9 392.7,268.4 394.0,267.3 394.9,267.6 396.1,268.2 396.9,269.3 396.7,271.4 398.3,271.7 398.2,273.3 399.0,273.8 399.2,274.0 401.5,275.4 402.2,276.9 402.8,277.2 404.8,278.3 404.4,279.5 405.6,280.3 407.2,281.8 409.1,280.7 409.3,280.8 410.4,279.3 412.7,279.3 413.2,277.7 413.9,277.7 416.0,276.2 417.0,276.4 417.9,276.5 419.2,276.2 420.1,276.9 422.1,275.8 422.7,276.5 425.4,276.8 425.5,276.3 427.4,275.7 428.1,275.6 429.0,275.3 430.3,277.3 428.7,279.1 429.4,280.7 429.3,282.5 429.0,283.0 429.9,285.1 428.7,286.3 428.0,289.1 427.8,289.6 428.1,291.2 427.7,292.1 426.4,293.1 425.1,294.0 424.3,294.5 422.8,296.3 421.2,296.6 421.0,297.6 419.6,297.6 417.3,298.5 416.5,297.8 415.4,296.9 412.8,296.5 411.6,296.6 409.9,296.7 408.6,297.8 406.9,297.6 405.5,298.5 404.0,297.8 402.0,296.3 400.3,296.3 399.2,295.5 397.4,296.4 397.6,295.9 395.0,296.6 394.4,296.7 392.8,296.1 391.7,295.7 390.8,295.7 389.4,295.9 387.6,295.8 386.1,297.2 384.6,295.9 383.7,295.7 381.1,296.1 382.3,294.3 383.1,293.7 382.9,291.6 383.3,291.4 382.9,289.5 383.4,288.5 382.3,286.1 383.6,285.5 382.6,283.2 383.2,282.3 382.3,279.9 382.8,279.0 382.5,277.9 381.8,276.9 381.5,275.5 381.3,273.0 382.1,272.7"/>
<polygon fill="#b7e0f6" stroke="#b7e0f6" points="379.7,297.7 380.0,296.6 382.3,297.0 383.6,295.7 384.6,296.0 386.2,296.8 387.6,295.8 389.4,295.9 390.8,295.7 391.7,295.7 392.8,296.1 394.4,296.7 395.0,296.6 397.6,295.9 397.4,296.4 399.2,295.5 400.3,296.3 402.0,296.3 404.0,297.8 405.5,298.5 406.9,297.6 408.6,297.8 409.9,296.7 411.6,296.6 412.8,296.5 415.4,296.9 416.5,297.8 417.3,298.5 419.6,297.6 421.0,297.6 421.2,296.6 422.2,298.6 422.0,298.9 421.3,301.0 422.2,302.6 422.0,304.5 423.2,305.8 424.4,306.1 424.2,306.9 425.0,309.4 424.6,309.9 424.3,311.3 425.0,312.6 425.6,314.9 424.9,316.1 424.7,318.0 424.6,318.3 423.7,321.0 422.5,321.0 421.7,323.6 421.4,323.6 420.0,324.6 418.9,325.1 417.5,326.0 416.5,325.5 414.6,324.0 413.7,323.6 412.7,322.5 411.3,323.0 410.4,322.8 408.2,322.6 407.6,320.9 405.4,321.0 405.3,320.5 404.2,320.7 402.3,320.9 400.8,320.0 399.9,320.1 397.9,320.8 397.7,320.6 395.7,319.9 394.0,319.6 394.0,318.3 391.7,317.9 391.2,317.5 390.3,316.2 389.1,316.0 389.1,314.5 386.7,313.5 386.5,312.9 385.1,311.6 386.0,311.7 385.8,309.6 385.2,308.6 384.4,306.3 383.8,305.0 383.1,304.0 382.8,303.2 380.9,302.1 381.0,300.3 379.9,298.6"/>
<polygon fill="#4fb2e8" stroke="#4fb2e8" points="429.0,275.3 428.8,276.4 431.4,276.4 431.8,275.7 432.7,277.1 434.0,277.7 435.5,278.0 436.7,277.9 438.1,277.8 439.2,278.9 439.7,279.1 441.6,280.3 441.8,280.7 443.6,281.6 444.4,282.2 446.8,281.9 448.5,281.7 451.1,282.1 451.5,281.9 454.1,282.1 453.3,283.2 454.8,285.1 454.0,286.3 454.2,286.8 454.9,288.8 453.6,289.6 454.4,291.3 454.9,292.3 453.9,294.7 455.3,295.6 454.6,296.1 454.9,298.2 454.3,300.0 453.9,301.2 454.4,302.6 454.2,303.8 452.9,306.6 452.3,308.1 452.5,308.3 451.9,310.9 450.9,312.8 448.3,312.3 447.7,311.5 447.1,313.1 445.2,312.7 444.5,312.7 442.0,313.3 440.3,313.4 438.7,313.9 437.7,313.9 435.8,314.6 434.9,314.3 433.3,315.8 432.0,315.8 430.9,315.4 429.6,316.4 428.8,316.1 428.2,316.2 426.0,316.6 426.2,315.4 424.8,314.1 424.3,313.3 425.0,310.9 424.9,309.6 424.2,306.9 424.4,306.1 423.2,305.8 422.0,304.5 422.2,302.6 421.3,301.0 422.0,298.9 422.2,298.6 421.2,296.6 422.8,296.3 424.3,294.5 425.1,294.0 426.4,293.1 427.7,292.1 428.1,291.2 427.8,289.6 428.0,289.1 428.7,286.3 429.9,285.1 429.0,283.0 429.3,282.5 429.5,280.1 429.5,279.6 428.8,278.5 430.0,277.2"/>
<polygon fill="#4fb2e8" stroke="#4fb2e8" points="455.6,281.2 456.7,281.8 458.3,281.3 459.6,281.2 460.7,280.8 463.0,280.8 463.1,280.8 465.3,281.8 465.4,280.6 467.7,282.1 467.8,282.6 469.6,282.6 470.5,282.8 472.2,282.9 472.6,281.6 474.5,282.6 475.5,282.6 476.6,281.6 478.5,282.3 479.3,281.5 481.0,280.7 481.3,282.6 482.5,283.7 481.9,284.7 482.4,286.0 482.3,288.0 482.1,288.7 480.9,290.2 479.7,291.6 480.2,292.4 480.7,294.1 479.4,294.6 478.6,296.6 478.3,297.8 478.9,299.9 478.4,300.8 477.2,302.8 476.9,305.1 477.1,305.5 476.3,307.3 475.5,309.6 474.6,309.9 474.0,312.6 473.1,311.7 471.4,312.2 470.1,312.4 468.8,312.4 467.3,312.8 465.9,312.4 464.3,313.8 462.9,312.7 461.2,312.6 459.4,313.4 458.3,312.3 456.3,312.6 454.9,313.0 453.6,312.1 451.9,310.9 452.5,308.3 452.3,308.1 452.9,306.6 454.2,303.8 454.4,302.6 453.9,301.2 454.3,300.0 454.9,298.2 454.6,296.1 455.3,295.6 453.9,294.7 454.9,292.3 454.4,291.3 453.6,289.6 454.9,288.8 454.2,286.7 454.0,286.2 454.9,285.0 455.5,283.0"/>
<polygon fill="#b7e0f6" stroke="#b7e0f6" points="482.5,284.1 484.1,283.6 485.6,284.0 486.4,282.7 488.7,283.3 488.9,283.6 491.8,282.5 491.9,283.0 494.0,282.4 494.0,283.6 495.4,283.8 496.0,284.8 497.2,285.7 497.7,286.5 499.5,288.1 500.1,288.4 501.3,289.4 503.0,290.0 503.3,290.3 504.9,291.3 506.0,291.2 506.4,292.2 508.6,291.8 508.9,292.9 510.7,294.4 510.8,296.4 511.2,296.8 511.8,298.4 511.7,300.1 511.6,302.0 511.6,302.7 511.0,305.0 509.7,306.1 509.2,307.2 509.5,308.3 509.2,309.9 509.0,310.6 508.4,312.3 507.7,312.9 506.6,314.5 505.6,316.2 504.5,315.7 503.8,316.4 501.4,317.2 500.9,317.6 499.6,318.4 497.5,318.7 497.0,319.4 495.1,319.0 493.5,319.4 492.2,318.8 490.3,318.8 488.8,319.2 487.4,318.6 485.3,317.2 483.5,318.1 482.1,317.0 480.4,316.6 479.0,316.0 477.7,314.6 476.2,313.6 474.7,312.7 474.0,312.6 474.6,309.9 475.5,309.6 476.3,307.3 477.1,305.5 476.9,305.1 477.2,302.8 478.4,300.8 478.9,299.9 478.3,297.8 478.6,296.6 479.4,294.6 480.7,294.1 480.2,292.4 479.7,291.6 481.0,290.2 481.8,289.2 481.8,287.9 482.7,286.8 483.1,285.7"/>
<polygon fill="#f7c6ce" stroke="#f7c6ce" points="426.0,316.6 428.6,316.1 429.5,316.3 430.9,315.4 432.0,315.8 433.3,315.8 434.9,314.3 435.8,314.6 437.7,313.9 438.7,313.9 440.3,313.4 442.0,313.3 444.5,312.7 445.2,312.7 447.1,313.1 447.7,311.5 448.3,312.3 450.9,312.8 449.7,312.9 450.1,315.4 450.8,316.3 449.5,316.6 451.3,318.7 451.4,320.0 452.3,321.8 452.8,323.8 455.0,325.4 456.4,326.1 456.5,327.3 457.9,328.4 456.8,329.6 455.9,332.3 455.2,332.1 454.2,333.1 451.7,332.8 451.2,333.8 450.1,333.6 447.7,334.7 449.7,336.8 449.4,337.1 450.7,338.3 450.9,340.2 450.4,341.4 450.6,343.1 451.0,344.8 448.6,345.2 448.2,346.1 447.4,346.3 445.5,347.4 443.8,347.8 442.7,350.0 441.2,350.8 440.3,350.8 439.3,349.6 437.8,349.4 437.5,348.2 435.8,348.0 433.6,348.3 433.2,346.7 431.7,345.5 430.3,344.5 430.2,343.4 428.1,343.0 427.9,342.5 426.8,341.1 425.4,340.7 425.5,339.5 423.8,338.7 424.1,336.9 422.8,336.0 423.1,335.2 421.3,334.8 420.6,333.2 418.6,333.7 418.1,333.1 416.7,333.1 414.3,332.4 415.0,331.9 413.4,329.4 415.2,329.7 416.5,327.8 417.4,327.4 418.2,325.7 419.6,324.0 420.8,323.9 422.2,322.8 423.1,322.3 423.3,320.5 423.1,320.1 424.5,318.3 425.4,317.8"/>
<polygon fill="#f4f4f4" stroke="#f4f4f4" points="450.9,312.8 451.3,312.5 453.6,312.2 454.9,313.0 456.3,312.6 458.2,312.4 459.6,313.3 461.1,312.6 462.9,312.8 464.3,313.8 465.9,312.4 467.3,312.8 468.8,312.4 470.1,312.4 471.4,312.2 473.1,311.7 474.0,312.6 474.7,312.7 476.2,313.6 477.7,314.6 479.0,316.0 480.4,316.6 482.1,317.0 483.5,318.1 485.3,317.2 487.4,318.6 488.8,319.2 490.4,318.8 492.1,318.8 493.6,319.4 495.1,318.9 493.6,320.1 493.6,321.1 493.6,322.6 493.4,324.7 492.6,325.5 491.6,326.8 491.6,328.4 491.7,329.7 491.0,330.5 490.5,332.9 490.3,332.8 490.0,335.2 489.8,335.7 489.7,337.4 489.0,338.2 488.0,339.7 486.8,340.5 485.8,341.8 485.0,342.9 484.8,343.8 483.7,344.9 481.3,344.0 479.9,344.3 478.2,345.2 477.3,345.0 475.1,345.8 474.4,345.5 472.3,344.9 471.1,345.7 469.5,345.7 468.3,346.1 466.3,345.6 465.1,345.2 464.9,344.6 462.7,344.7 461.5,345.5 460.8,345.8 459.7,346.7 457.7,345.8 455.9,347.0 456.1,346.0 454.1,345.8 453.2,344.4 451.9,344.4 451.7,343.8 450.4,341.4 451.1,340.4 450.7,339.7 450.4,337.9 449.2,336.4 449.6,336.8 447.7,334.7 450.1,333.6 451.2,333.8 451.7,332.8 454.2,333.1 455.2,332.1 455.9,332.3 456.8,329.6 457.9,328.4 456.5,327.3 456.4,326.1 455.0,325.4 452.8,323.8 452.3,321.8 451.4,320.0 451.3,318.7 449.5,316.6 450.8,316.3 450.1,315.4 449.7,312.9"/>
<polygon fill="#b7e0f6" stroke="#b7e0f6" points="511.5,273.1 513.1,272.6 513.5,272.1 516.0,270.2 517.6,269.4 519.0,269.1 520.3,269.5 521.6,268.1 521.8,268.2 524.0,267.4 524.5,267.6 525.4,267.3 527.4,266.1 527.9,266.0 528.6,264.6 529.6,263.3 530.7,262.4 531.4,263.1 533.4,264.5 533.3,265.2 534.1,266.9 534.9,268.6 534.7,269.8 535.6,272.3 536.4,273.4 538.0,274.3 537.6,276.8 539.1,278.3 540.0,279.5 541.0,281.5 541.1,282.5 542.9,283.0 544.7,284.5 544.2,285.9 545.5,287.1 544.8,287.9 545.1,289.3 545.5,290.8 545.1,291.7 545.3,293.9 544.5,293.9 544.4,295.8 544.4,296.2 543.5,298.9 541.3,298.7 539.4,299.7 539.1,299.9 536.8,300.3 535.6,301.2 534.9,301.7 532.8,302.4 531.7,302.7 531.6,303.0 530.3,304.1 529.0,304.5 528.0,305.8 527.2,304.9 525.2,304.6 524.3,304.4 522.8,304.3 522.7,304.7 520.0,303.5 519.4,302.7 518.1,301.5 516.4,301.3 516.2,300.1 514.4,301.0 512.5,299.3 512.8,297.9 511.5,297.1 511.1,297.0 510.3,295.0 510.5,293.6 508.8,292.4 509.1,292.4 509.7,289.8 510.1,289.5 510.6,287.4 511.4,286.6 512.5,285.9 513.6,284.2 512.7,282.8 513.1,282.5 512.2,280.9 512.7,278.9 511.2,277.6 511.7,275.9 511.4,274.9"/>
<polygon fill="#f4f4f4" stroke="#f4f4f4" points="587.6,264.3 587.4,263.4 586.4,261.3 584.2,260.1 583.9,258.6 584.1,258.4 582.0,257.3 582.0,255.7 581.2,253.8 579.2,253.0 579.5,252.4 577.6,253.2 576.6,253.9 574.7,253.8 573.6,253.8 572.3,253.6 570.4,254.1 569.6,254.6 567.3,254.5 566.6,253.6 564.8,254.3 562.5,253.1 561.8,252.3 562.5,252.9 562.3,254.9 563.1,255.7 562.7,257.1 562.3,259.0 561.4,260.1 560.6,261.2 560.5,263.2 560.3,263.8 559.4,265.8 559.0,266.2 560.1,267.8 559.6,268.9 560.7,270.9 559.8,272.1 561.1,273.0 560.6,275.4 560.7,276.2 560.9,277.7 560.8,278.2 560.7,280.4 561.0,281.1 560.7,282.2 560.3,284.2 559.9,284.6 560.2,286.5 559.4,287.1 559.0,289.0 559.9,290.2 559.5,292.8 560.1,293.1 560.0,294.2 560.9,295.8 560.7,297.1 562.4,297.3 563.8,298.3 565.3,297.7 567.0,297.9 568.5,299.1 570.1,298.5 572.4,299.2 572.3,299.8 574.2,300.2 575.1,301.3 575.2,300.3 574.8,298.3 574.0,297.6 574.1,297.0 574.3,294.6 573.3,293.8 574.5,292.5 574.4,291.0 574.5,288.8 575.5,287.8 575.7,287.5 578.3,287.7 578.6,286.7 581.1,286.7 581.5,286.7 583.7,285.6 584.6,286.7 586.3,286.4 586.3,284.6 586.4,283.7 586.7,282.0 586.0,281.2 586.0,281.2 587.5,279.8 589.5,280.1 590.5,278.5 590.7,278.0 590.8,277.1 589.9,275.2 588.6,274.4 588.8,273.1 587.9,271.1 588.5,270.6 588.8,268.7 587.9,266.6 588.9,266.2 590.0,263.5 591.0,263.6 591.6,261.5 591.2,262.6 589.2,262.8"/>
<polygon fill="#4fb2e8" stroke="#4fb2e8" points="535.3,301.9 535.8,301.0 536.6,301.0 539.1,299.8 540.0,300.0 541.8,298.7 543.5,298.9 544.4,296.3 544.6,296.0 544.4,293.8 545.4,293.5 547.0,291.9 548.0,291.3 548.3,290.7 549.3,290.7 550.4,289.5 551.8,290.1 553.1,290.2 554.7,289.9 555.7,290.0 557.7,289.2 559.0,289.0 559.7,290.2 559.8,292.7 559.9,293.4 560.1,294.5 560.9,295.8 560.7,297.1 562.4,297.3 563.8,298.3 565.3,297.7 567.0,297.9 568.5,299.1 570.1,298.5 572.4,299.2 572.3,299.8 574.2,300.2 575.1,301.3 576.2,301.4 577.6,303.5 577.0,305.1 576.4,304.8 575.8,307.4 575.4,308.7 574.1,309.3 572.8,310.9 571.9,310.7 571.0,311.8 570.4,312.9 571.1,315.5 570.3,316.4 571.7,318.7 571.2,318.7 570.4,321.2 570.5,321.5 571.0,322.9 569.2,323.0 567.0,322.1 566.0,322.1 564.4,321.2 561.7,321.6 560.2,320.2 559.5,319.7 557.6,320.2 556.3,320.3 554.4,320.0 553.6,320.7 552.3,319.7 551.1,320.2 548.8,320.2 549.1,320.2 547.3,320.0 546.1,318.4 544.6,318.1 543.1,318.5 542.3,318.0 539.5,318.1 538.6,316.9 537.9,316.2 536.2,315.6 536.4,314.0 534.9,314.1 534.7,313.3 533.4,311.4 533.5,309.3 532.6,309.1 532.0,308.1 531.4,306.8 531.9,304.9 531.9,303.1 532.3,302.4"/>
<polygon fill="#4fb2e8" stroke="#4fb2e8" points="511.7,300.1 513.8,300.8 513.9,300.9 516.2,300.1 517.3,301.5 517.8,302.0 520.0,302.6 520.3,303.8 522.6,304.6 524.5,304.4 525.2,304.6 527.4,305.0 528.7,305.8 529.1,306.2 531.3,306.5 531.3,307.1 532.8,308.3 532.2,309.7 534.0,309.9 533.4,311.4 534.7,313.3 534.9,314.1 536.4,314.0 536.2,315.6 537.9,316.2 538.6,316.9 539.5,318.1 541.4,318.1 542.2,318.2 543.8,318.5 544.7,318.1 546.2,318.5 547.3,320.0 548.8,320.2 549.9,321.3 550.4,322.3 550.3,322.3 550.4,324.8 551.0,324.8 549.3,326.6 549.1,327.5 549.7,328.7 549.0,330.0 548.4,331.0 548.2,332.3 547.7,333.3 545.5,333.2 543.3,334.8 542.2,335.7 541.2,335.5 540.0,335.6 538.6,335.6 537.9,335.8 535.9,335.3 534.8,335.2 533.2,336.5 531.5,335.2 530.3,335.3 529.0,336.3 527.2,336.6 526.1,337.5 524.3,337.6 522.8,335.5 521.6,334.6 521.6,333.4 520.6,331.8 520.6,331.1 520.5,330.1 520.1,327.4 519.5,326.6 519.7,326.1 519.3,324.1 518.8,322.6 517.9,322.5 517.2,321.3 515.9,319.7 514.2,319.5 512.8,319.2 511.7,317.8 509.3,317.4 508.4,316.3 507.7,315.5 506.6,315.0 507.3,313.4 508.0,312.4 508.7,310.5 509.4,310.0 509.5,308.3 509.1,307.3 509.7,306.1 511.2,304.6 511.0,303.6 510.7,302.3 511.6,301.1"/>
<polygon fill="#f7c6ce" stroke="#f7c6ce" points="550.3,322.2 551.2,321.0 553.6,320.7 554.4,319.6 556.1,320.2 557.6,320.2 559.6,319.7 560.4,320.3 561.8,321.6 564.3,321.2 566.0,322.1 566.8,322.1 569.0,323.0 571.3,323.4 570.1,324.5 571.6,326.1 571.6,328.1 571.4,329.1 571.7,330.2 571.9,331.4 572.0,333.3 571.8,334.0 572.2,335.3 571.9,337.7 573.5,338.9 572.0,341.2 573.4,341.9 574.7,343.9 574.1,345.1 575.7,346.7 575.2,348.1 575.3,349.4 574.7,351.1 575.1,353.3 574.6,355.0 573.5,356.2 572.4,357.1 570.8,356.6 568.8,357.6 567.1,357.6 566.4,359.0 564.6,359.7 563.4,361.3 562.2,362.5 560.4,364.0 559.1,364.6 558.6,365.5 557.5,365.4 555.3,366.2 554.4,367.1 554.1,369.1 553.4,368.9 551.8,367.2 550.0,366.9 549.7,366.7 548.6,365.0 549.5,362.9 548.3,361.5 547.3,359.0 548.4,357.9 546.8,355.5 546.7,354.5 546.5,352.7 546.7,352.1 547.5,350.1 547.9,349.8 547.6,347.8 547.5,346.8 545.8,346.0 546.1,345.6 545.3,343.6 543.0,342.1 542.4,341.6 542.4,340.4 540.3,338.6 541.4,337.6 542.2,337.2 542.9,335.5 543.9,334.7 545.5,333.2 547.7,333.3 548.2,332.3 548.4,331.0 549.0,330.0 549.7,328.7 549.1,327.5 549.4,326.0 550.3,324.7 550.9,322.6"/>
<polygon fill="#f4f4f4" stroke="#f4f4f4" points="575.5,287.8 575.7,287.5 578.3,287.7 578.6,286.7 581.1,286.7 581.5,286.7 583.7,285.6 584.6,286.7 586.3,286.4 587.0,286.9 587.4,288.4 587.8,289.4 589.5,290.8 589.8,292.7 590.8,293.9 591.8,294.7 593.6,295.5 593.8,297.4 594.1,298.9 596.3,300.3 597.3,301.7 598.0,301.7 598.6,302.5 599.9,303.3 602.2,304.5 602.1,304.4 603.6,304.3 605.7,304.2 607.1,304.8 607.7,305.8 608.5,304.8 610.5,306.1 610.5,306.1 612.7,307.2 612.0,309.7 612.9,310.4 611.9,312.1 611.3,313.3 612.3,315.3 611.6,316.3 610.5,317.8 610.2,320.0 608.8,320.1 608.7,322.4 609.5,322.5 608.7,324.5 607.7,326.1 608.1,327.0 607.7,328.4 607.1,329.6 607.7,332.1 605.7,331.8 605.4,331.9 602.9,332.0 602.4,332.0 600.5,331.7 599.1,331.8 597.9,331.6 596.2,330.2 594.5,329.5 593.0,329.4 591.5,328.6 589.8,327.6 587.6,327.1 585.6,326.5 584.4,325.0 583.5,323.9 582.0,324.0 580.8,325.2 579.3,324.5 577.9,324.4 576.1,324.4 575.3,325.0 573.7,323.8 572.9,323.2 570.9,323.8 571.3,323.4 570.3,321.9 570.4,321.2 571.2,318.7 571.7,318.7 570.3,316.4 571.1,315.5 570.4,312.9 571.0,311.8 571.9,310.7 572.8,310.9 574.1,309.3 575.4,308.7 575.8,307.4 576.4,304.8 577.0,305.1 577.6,303.5 576.2,301.4 575.1,301.3 575.2,300.3 574.8,298.3 574.0,297.6 574.1,297.0 574.3,294.6 573.3,293.8 574.5,292.5 574.4,291.0 574.5,288.8"/>
<polygon fill="#b7e0f6" stroke="#b7e0f6" points="612.5,307.4 613.5,307.3 614.9,305.4 617.5,305.0 618.8,304.8 620.5,303.9 621.3,303.9 623.4,303.2 624.2,303.2 625.6,303.0 627.1,302.1 627.3,303.2 628.7,304.3 628.6,305.9 629.9,306.4 630.1,308.6 631.0,310.2 631.5,310.2 631.8,311.7 633.4,313.0 633.5,315.3 634.1,316.1 636.4,316.4 637.0,317.7 637.8,317.7 640.1,318.2 640.5,317.5 642.8,318.7 644.5,319.3 644.9,320.1 645.4,321.8 645.8,324.2 646.5,324.2 645.8,325.1 647.1,327.8 646.7,328.6 648.2,328.9 647.9,331.1 648.7,332.5 648.7,332.6 648.8,334.5 648.7,336.4 647.5,337.2 646.9,338.8 646.8,339.7 645.9,341.2 644.8,342.1 644.0,343.9 643.6,344.0 643.2,345.9 642.6,348.5 640.2,347.5 639.9,347.1 637.3,348.0 637.1,347.6 634.3,348.1 633.9,348.2 631.6,347.2 632.0,348.5 630.0,348.9 629.2,348.4 627.9,349.9 626.2,349.5 624.9,349.1 623.8,350.1 623.1,349.6 621.4,348.5 619.9,347.5 619.2,347.4 617.8,346.0 617.0,345.9 615.7,344.6 614.2,343.9 614.0,343.1 612.2,342.7 611.9,341.9 609.7,340.7 610.0,340.2 609.3,338.6 609.7,336.8 608.1,336.3 609.2,334.9 608.0,333.2 608.5,332.4 606.5,330.6 607.8,330.2 607.9,328.3 608.0,327.1 607.7,325.9 608.6,324.6 609.6,322.2 609.3,321.8 609.1,319.3 609.6,318.1 610.7,317.6 611.9,315.5 612.4,314.9 612.2,312.9 612.1,311.9 612.7,310.3 611.9,309.7"/>
<polygon fill="#f4f4f4" stroke="#f4f4f4" points="571.2,325.0 572.1,325.4 573.1,325.2 575.1,324.8 576.1,324.6 577.9,324.4 579.2,324.3 580.8,325.3 581.9,324.0 583.5,323.9 584.4,325.0 585.6,326.5 587.6,327.1 589.8,327.6 591.5,328.6 593.0,329.4 594.5,329.5 596.2,330.2 597.9,331.6 599.1,331.8 600.5,331.7 602.4,332.0 602.9,332.0 605.4,331.9 605.7,331.8 607.7,332.1 607.8,332.9 609.1,333.4 608.0,335.7 609.7,336.8 609.3,338.6 610.0,340.2 609.6,340.7 609.0,342.7 608.0,343.7 607.0,345.2 605.7,346.7 606.4,347.7 606.6,349.6 605.8,349.4 605.9,351.8 605.4,351.9 605.0,354.4 604.6,355.2 603.2,356.7 602.5,359.1 600.4,359.3 599.6,360.2 597.6,359.1 596.4,359.5 594.2,359.7 593.7,359.7 591.0,359.7 591.0,359.2 588.4,359.5 587.7,360.7 586.1,359.4 584.6,359.6 582.8,360.4 581.9,359.6 580.5,358.5 579.7,358.9 578.1,358.3 576.6,356.5 576.5,356.1 575.3,354.9 575.1,353.3 574.7,351.1 575.3,349.4 575.2,348.1 575.7,346.7 574.1,345.1 574.7,343.9 573.4,341.9 572.0,341.2 573.5,338.9 571.9,337.7 572.2,335.3 571.8,334.0 572.3,332.5 571.5,331.6 571.5,330.2 572.1,328.1 570.9,326.9"/>
<polygon fill="#b7e0f6" stroke="#b7e0f6" points="524.3,337.6 525.3,337.4 526.2,336.8 528.3,335.7 528.6,336.4 530.8,335.4 531.5,335.2 533.2,336.5 534.8,335.2 535.9,335.3 537.9,335.8 538.6,335.6 540.0,335.6 541.8,335.4 542.9,335.5 542.2,337.2 541.4,337.6 540.3,338.6 542.4,340.4 542.4,341.6 543.0,342.1 545.3,343.6 546.1,345.6 545.8,346.0 547.5,346.8 547.6,347.8 547.9,349.8 547.5,350.1 546.7,352.1 546.5,352.7 546.7,354.5 546.8,355.5 548.4,357.9 547.3,359.0 548.3,361.5 549.5,362.9 548.6,365.0 549.7,366.7 550.0,366.9 551.8,367.2 553.4,368.9 551.9,370.4 550.0,371.2 547.6,370.9 546.5,371.7 544.4,372.1 543.8,371.3 541.4,371.8 540.7,371.7 538.1,372.8 537.2,371.8 535.0,371.9 533.5,372.8 531.9,372.5 530.9,373.3 529.7,373.4 528.9,371.8 526.7,372.2 525.1,372.2 523.9,371.8 523.2,371.5 522.0,370.6 520.7,369.9 519.8,369.6 518.5,367.7 517.9,367.8 517.8,366.4 516.3,365.4 515.4,363.1 515.5,362.1 513.7,361.0 514.5,358.8 512.4,358.4 513.6,356.6 514.8,356.2 515.1,354.3 515.1,354.0 516.5,352.5 517.7,351.7 518.6,349.4 519.3,349.2 519.9,347.0 520.5,345.6 521.2,344.8 522.7,343.7 523.7,343.4 523.8,341.3 523.8,341.3 523.7,339.1 523.9,338.5"/>
<polygon fill="#f4f4f4" stroke="#f4f4f4" points="426.2,352.8 426.9,351.7 428.5,351.3 430.2,349.5 432.0,349.1 432.6,347.7 433.0,347.7 435.8,348.0 437.2,348.3 439.4,349.7 439.7,350.5 441.1,350.8 442.0,350.3 443.5,348.0 445.7,347.3 447.5,346.8 448.1,346.1 448.3,345.1 451.0,344.9 452.0,344.2 453.7,344.5 454.4,345.9 456.2,347.1 459.0,346.1 460.7,347.7 461.4,347.6 462.8,348.3 463.8,347.9 464.6,350.4 465.3,351.0 466.9,352.5 466.7,354.8 467.9,355.8 467.9,357.3 468.3,358.8 469.2,359.7 468.6,361.8 470.1,362.6 469.9,365.1 470.2,366.3 469.1,368.9 469.3,370.0 469.5,371.5 468.7,373.1 468.0,374.1 467.3,375.5 466.4,378.0 465.3,378.2 464.3,378.4 462.1,378.0 460.4,377.5 459.4,377.2 457.1,377.4 456.6,377.0 455.7,377.9 453.6,378.7 453.8,378.6 452.6,378.8 451.9,377.9 450.1,378.2 449.8,377.1 447.5,377.2 447.5,375.9 445.6,375.5 444.6,374.9 443.7,373.5 442.5,373.1 441.1,372.0 440.6,370.7 438.6,370.4 438.0,369.1 436.6,368.6 434.7,367.9 434.8,366.1 434.0,364.5 431.6,363.4 430.3,361.8 429.5,360.7 428.9,360.4 427.7,359.3 426.0,358.1 425.9,356.5 424.5,354.9 425.5,354.6"/>
<polygon fill="#b7e0f6" stroke="#b7e0f6" points="463.8,347.9 465.4,347.6 466.4,346.7 466.7,345.9 469.2,345.4 470.8,345.6 472.1,345.8 472.5,344.5 474.6,345.7 475.1,345.9 477.4,344.9 478.1,345.3 479.9,344.4 481.3,344.4 481.9,345.0 483.4,345.0 483.3,346.3 484.7,347.6 485.2,350.0 485.6,350.8 486.4,352.8 485.6,354.0 487.0,355.3 486.3,357.2 486.1,357.6 486.7,359.2 486.5,360.2 485.8,362.3 487.2,362.7 486.2,364.9 486.9,366.7 487.2,367.2 486.7,368.7 487.5,369.5 488.4,371.8 488.0,373.5 489.5,375.0 489.2,377.4 490.0,377.2 490.1,378.2 491.4,380.9 490.6,381.2 492.1,382.0 492.7,383.9 490.4,384.3 489.8,385.8 488.4,385.9 486.6,387.3 485.8,387.1 484.7,388.6 483.7,388.7 482.8,390.5 480.9,389.3 480.4,388.6 478.8,387.6 477.3,387.3 476.1,387.9 474.6,386.5 472.6,386.1 470.7,385.2 470.7,385.2 468.8,384.4 468.6,383.4 466.7,382.4 466.2,381.2 466.0,380.6 466.5,379.0 464.8,378.2 466.2,377.2 467.4,376.2 467.9,374.4 468.7,373.1 469.5,371.5 469.3,370.0 469.1,368.9 470.2,366.3 469.9,365.1 470.1,362.6 468.6,361.8 469.2,359.7 468.3,358.8 467.9,357.3 467.9,355.8 466.7,354.8 466.9,352.5 465.3,351.0 464.6,350.4"/>
<polygon fill="#ea6a6d" stroke="#ea6a6d" points="453.2,378.4 455.3,378.3 456.3,377.4 457.7,377.8 459.1,377.0 460.4,377.5 462.2,377.7 462.1,378.2 464.4,378.5 466.4,379.0 466.0,380.6 466.1,381.2 466.7,382.4 468.7,383.4 468.8,384.4 470.7,385.2 470.7,385.2 472.6,386.1 474.5,386.5 476.1,387.9 477.1,387.2 478.4,387.7 478.8,387.6 480.7,389.1 482.0,389.7 482.5,391.1 482.1,393.3 481.9,393.9 482.0,395.5 481.5,397.0 480.9,397.2 479.4,398.0 477.6,398.5 476.3,399.4 474.0,399.2 472.4,400.8 472.3,401.4 473.2,403.6 472.9,404.6 474.7,404.9 475.6,406.1 476.6,407.3 477.3,409.7 477.3,410.6 477.4,413.1 476.6,414.1 477.5,416.1 477.9,416.7 478.4,417.4 478.9,418.5 480.5,419.3 480.6,419.9 482.8,420.8 482.9,420.6 484.5,421.8 485.4,422.1 486.1,423.8 485.0,424.8 484.0,426.7 481.5,425.5 480.3,425.4 479.5,424.4 477.7,424.5 477.0,423.5 475.6,422.8 474.4,422.3 473.3,421.0 471.9,420.0 470.0,419.9 468.7,418.9 467.3,418.5 466.4,417.4 466.4,416.1 465.3,414.5 466.3,414.0 464.6,413.1 463.6,410.8 462.8,409.9 461.9,409.5 461.1,408.0 460.1,406.9 459.1,406.4 457.8,405.3 456.4,405.2 456.5,404.2 455.1,403.0 454.9,401.8 456.3,400.5 457.1,398.6 457.0,397.3 456.5,396.0 455.8,394.7 456.3,392.6 456.0,391.7 456.2,389.8 457.0,389.1 456.9,386.5 455.8,386.0 455.2,385.7 454.9,384.8 454.5,383.5 453.8,381.6 454.2,381.1 454.2,380.1"/>
<polygon fill="#b7e0f6" stroke="#b7e0f6" points="485.8,341.9 487.8,343.1 490.1,343.9 490.0,344.2 492.0,345.5 492.5,345.6 494.0,346.5 496.7,346.7 498.2,347.0 498.7,347.8 501.5,348.0 503.1,347.6 503.3,348.9 505.5,348.6 507.0,349.7 507.3,350.2 508.9,351.5 509.4,352.8 510.8,353.7 511.6,355.2 512.6,357.6 512.4,358.3 513.5,361.1 515.1,362.0 514.9,363.0 516.3,364.6 517.8,366.0 517.7,367.6 519.2,368.3 519.5,369.8 520.1,372.1 520.7,372.3 520.2,373.6 518.5,373.5 516.8,374.7 516.1,375.3 514.1,377.3 512.0,378.4 511.3,380.7 510.8,381.5 510.5,382.7 510.0,382.5 507.6,383.9 507.4,383.8 505.8,384.7 504.0,384.7 503.1,385.0 501.9,385.5 500.4,385.1 499.3,385.2 497.4,385.8 495.5,385.6 494.7,386.4 493.1,385.5 492.9,383.5 491.9,382.0 490.7,380.9 491.4,379.9 489.6,378.1 489.2,377.4 489.5,375.0 488.0,373.5 488.4,371.8 487.5,369.5 486.7,368.7 487.2,367.2 486.9,366.7 486.2,364.9 487.2,362.7 485.8,362.3 486.5,360.2 486.7,359.2 486.1,357.6 486.3,357.2 487.0,355.3 485.6,354.0 486.4,352.8 485.6,350.8 485.2,350.0 484.7,347.6 483.4,346.2 484.0,344.1 484.8,344.4"/>
<polygon fill="#b7e0f6" stroke="#b7e0f6" points="489.8,385.7 490.7,385.5 492.1,385.1 493.0,385.7 494.7,386.4 495.5,385.6 497.4,385.8 499.3,385.2 500.4,385.1 501.9,385.5 503.1,385.0 504.0,384.7 505.8,384.7 507.4,383.8 507.6,383.9 510.0,382.5 510.5,382.7 510.5,383.7 510.8,385.7 511.3,386.4 512.2,387.3 511.1,389.7 510.8,390.7 511.4,392.2 511.1,394.2 509.5,394.8 509.1,396.4 510.1,397.6 509.4,398.8 508.0,399.4 506.6,401.2 505.3,401.8 504.6,402.8 503.9,404.3 502.4,404.6 500.4,405.8 499.3,405.8 498.3,407.7 497.4,408.1 496.4,409.3 495.3,411.2 494.5,412.0 494.0,413.6 493.6,414.3 493.0,415.2 492.1,416.8 491.1,417.8 489.7,419.3 488.4,420.8 487.3,420.6 486.7,422.9 486.1,423.8 485.3,422.1 484.5,421.8 482.8,420.6 482.8,420.8 480.6,419.9 480.5,419.3 478.9,418.5 478.5,417.4 477.9,416.7 477.5,416.1 476.7,414.1 477.4,413.1 477.3,410.6 477.3,409.7 476.7,407.3 475.6,406.1 474.7,404.8 472.9,404.5 473.2,403.6 472.3,401.4 472.4,400.8 474.0,399.2 476.3,399.4 477.5,398.5 479.4,398.0 480.9,397.1 481.5,397.0 482.0,395.5 482.0,393.8 482.1,393.3 482.8,391.0 482.8,390.5 483.7,388.7 484.7,388.6 485.8,387.1 486.7,387.2 488.3,385.8"/>
<polygon fill="#f7c6ce" stroke="#f7c6ce" points="510.0,382.9 511.0,382.3 511.4,380.6 511.0,379.8 513.2,378.2 514.1,377.2 515.4,376.9 516.3,375.6 517.9,374.1 519.5,374.1 520.8,372.0 521.7,373.3 522.6,372.1 523.9,371.8 525.1,372.3 526.7,372.2 527.6,372.3 528.6,373.2 528.7,375.4 529.2,377.0 528.5,377.8 528.5,380.0 528.7,381.5 529.3,383.1 530.7,385.0 531.2,386.1 531.7,387.8 533.0,389.3 533.1,390.2 534.7,391.3 534.9,391.1 536.0,392.2 536.4,393.2 538.0,393.7 539.4,394.9 540.9,395.8 541.9,395.7 540.7,398.5 539.2,398.6 538.2,401.0 537.8,401.3 537.3,401.8 535.5,403.1 533.7,403.7 533.5,404.6 531.3,404.1 529.5,405.0 527.6,404.5 526.4,406.9 525.8,407.6 524.8,408.0 523.6,410.6 522.1,409.1 520.7,408.6 519.0,408.5 518.9,408.7 516.8,408.0 514.9,407.5 513.8,406.4 512.7,404.6 511.4,404.3 509.0,403.8 508.7,402.4 508.3,399.7 509.6,398.8 509.9,397.5 508.9,396.4 509.7,394.9 511.1,394.2 511.4,392.2 510.8,390.7 511.1,389.7 512.2,387.3 511.3,386.4 510.8,385.7 510.1,383.9"/>
<polygon fill="#4fb2e8" stroke="#4fb2e8" points="528.7,373.2 530.2,373.7 531.9,373.3 532.3,372.0 535.0,372.5 535.3,371.9 537.9,372.8 538.7,371.8 540.6,371.5 541.8,372.3 543.5,371.3 544.5,372.0 546.5,371.6 547.6,370.8 549.3,370.8 550.8,371.6 552.0,370.8 554.6,372.1 554.8,372.3 556.2,373.5 557.5,374.7 558.3,375.2 559.0,375.9 560.7,377.9 560.1,379.4 562.0,380.4 561.0,380.6 562.3,383.0 561.5,384.6 563.3,384.6 562.4,386.5 562.9,387.9 563.2,388.4 562.5,390.8 562.2,391.0 561.5,393.1 560.8,393.6 560.1,394.8 559.5,396.0 558.8,397.0 557.9,398.7 556.7,400.3 555.1,400.1 553.6,401.5 551.9,400.1 550.6,400.3 549.8,399.2 547.0,399.5 545.9,399.9 545.2,398.2 542.4,399.0 542.3,397.4 541.7,396.2 540.9,395.8 539.5,394.8 538.1,394.4 537.6,393.7 535.7,392.1 535.3,391.5 534.7,391.3 533.1,390.2 532.9,389.1 531.7,387.7 531.2,386.1 530.5,385.1 529.9,383.6 529.3,382.3 528.5,381.7 528.6,380.1 528.6,377.8 529.3,376.9 528.7,375.3"/>
<polygon fill="#f7c6ce" stroke="#f7c6ce" points="524.8,407.7 525.6,407.6 526.5,406.9 527.6,404.5 529.5,405.0 531.3,404.1 533.5,404.6 533.7,403.7 535.5,403.1 537.3,401.8 537.8,401.3 538.2,401.0 540.0,400.0 541.9,399.6 542.4,398.2 544.2,398.7 545.6,398.8 547.4,400.1 549.1,399.0 550.4,400.3 552.1,400.1 554.0,401.5 554.8,400.3 556.4,401.0 557.2,402.1 558.7,403.3 558.7,405.7 558.4,406.7 560.1,409.1 559.5,408.9 558.0,411.3 557.9,411.7 558.2,413.5 556.4,413.1 555.2,415.9 554.2,416.0 553.5,417.4 552.7,419.4 552.5,420.7 552.0,422.6 551.1,424.4 550.1,425.4 549.5,426.6 549.2,428.5 548.9,429.8 548.4,431.3 546.3,432.5 544.6,432.3 544.5,433.5 542.3,433.5 541.9,432.9 541.1,432.7 539.2,433.7 537.1,431.7 536.0,431.7 534.4,431.2 532.8,431.4 532.0,430.3 530.3,430.3 529.9,429.1 529.5,426.7 528.2,426.4 528.4,425.5 526.5,424.7 526.3,422.2 525.7,420.5 526.0,419.3 525.4,417.4 524.0,416.8 524.8,415.5 523.9,413.4 524.3,412.8 523.1,411.8 523.5,410.2"/>
<polygon fill="#f4f4f4" stroke="#f4f4f4" points="488.0,420.9 488.8,420.7 489.8,419.3 491.1,417.8 492.1,416.8 493.0,415.2 493.6,414.3 494.0,413.6 494.5,412.0 495.3,411.2 496.4,409.3 497.4,408.1 498.3,407.7 499.3,405.8 500.4,405.8 502.4,404.6 503.9,404.3 504.6,402.8 505.3,401.8 507.9,402.0 508.7,402.4 509.0,403.8 511.4,404.3 512.7,404.6 513.8,406.4 514.9,407.5 516.8,408.0 518.9,408.7 519.0,408.5 520.7,408.6 522.1,409.1 523.6,410.6 523.3,412.0 523.7,414.0 525.0,414.8 524.0,416.8 525.4,417.4 526.0,419.3 525.7,420.5 526.3,422.2 526.5,424.7 528.4,425.5 528.2,426.4 529.5,426.7 529.7,429.1 529.4,430.4 529.6,432.7 529.0,432.9 528.3,435.1 528.6,435.5 528.3,437.4 526.8,438.3 526.1,439.6 526.5,441.1 524.8,442.0 523.7,442.8 523.0,443.3 521.3,444.9 519.7,446.5 518.2,446.5 516.9,448.1 516.7,446.7 514.8,447.2 514.5,446.8 513.1,446.7 510.5,445.6 509.0,445.6 508.2,444.4 506.8,443.6 504.5,444.3 503.8,443.8 501.0,444.1 500.3,444.2 497.9,443.5 496.6,444.6 495.9,443.5 494.0,442.6 491.7,442.4 490.1,441.0 489.8,440.3 488.0,439.5 487.8,438.2 486.8,437.5 486.6,436.5 486.0,434.9 486.5,433.3 486.9,431.5 485.6,431.3 486.9,428.9 485.2,428.3 485.1,426.2 485.7,425.5 486.1,423.8 487.1,422.7"/>
<polygon fill="#f4f4f4" stroke="#f4f4f4" points="490.1,441.0 491.7,442.4 494.0,442.6 495.9,443.5 496.6,444.6 497.9,443.5 500.3,444.2 501.0,444.1 503.8,443.8 504.5,444.3 506.8,443.6 508.2,444.4 509.0,445.6 510.5,445.6 513.1,446.7 514.5,446.8 514.8,447.2 516.7,446.7 516.9,448.1 518.2,449.1 517.8,451.0 518.8,451.8 518.3,454.3 517.8,455.4 516.8,456.6 516.3,457.2 516.3,459.1 515.5,459.1 514.5,460.7 513.7,462.0 513.2,463.0 512.9,465.6 512.4,465.8 511.5,467.6 510.4,468.3 509.3,469.1 509.3,469.8 506.5,470.0 506.2,469.4 504.4,470.7 503.2,470.9 501.0,470.3 500.5,470.9 497.9,470.6 497.6,471.7 495.0,470.9 494.3,470.5 492.3,470.7 489.7,470.1 488.7,469.7 488.3,469.0 485.9,467.6 485.4,467.3 484.0,466.3 482.5,464.8 483.1,464.4 483.5,462.4 483.8,460.7 484.5,459.9 485.2,458.1 485.7,456.5 486.7,455.7 487.3,453.6 487.8,451.3 488.4,450.9 489.1,449.0 490.2,447.8 491.3,446.7 492.2,445.3 491.7,444.4 491.3,443.6"/>
<polygon fill="#4fb2e8" stroke="#4fb2e8" points="529.4,430.4 531.5,430.9 531.9,431.7 534.0,431.4 535.6,431.5 537.3,431.5 537.8,432.7 538.9,433.7 541.7,432.6 542.1,433.5 544.5,433.5 545.8,432.8 547.0,433.7 548.2,435.0 547.2,436.3 548.5,436.9 548.6,439.4 548.6,440.4 548.9,442.5 549.7,443.7 549.4,444.5 549.6,446.8 547.8,446.5 547.0,448.2 546.8,448.9 546.0,450.3 544.3,450.5 542.9,451.4 542.0,453.1 541.5,452.8 540.8,455.4 538.7,455.2 538.0,456.3 537.7,456.2 536.1,457.8 534.8,458.2 534.5,459.7 534.1,460.6 533.3,461.8 531.9,461.9 529.6,461.3 529.0,462.2 526.9,460.2 524.8,460.8 524.3,459.8 522.2,460.1 520.6,459.1 520.5,457.4 519.7,456.0 519.2,455.3 518.4,454.5 518.8,451.8 517.8,451.0 518.2,449.1 516.9,448.1 518.2,446.5 519.7,446.5 521.3,444.9 523.0,443.3 523.7,442.8 524.8,442.0 526.5,441.1 526.1,439.6 526.8,438.3 528.3,437.4 528.6,435.5 528.3,435.1 529.0,432.9 529.6,432.7"/>
<polygon fill="#f7c6ce" stroke="#f7c6ce" points="452.2,410.1 453.1,411.1 454.1,412.2 455.8,412.2 455.7,413.3 457.5,413.7 457.7,414.4 458.5,415.9 460.2,416.3 460.9,417.1 462.5,417.6 464.2,419.0 465.2,417.6 467.3,417.8 468.3,418.5 469.2,418.9 469.9,419.8 471.2,420.0 472.3,420.3 473.4,421.0 474.2,422.3 476.2,423.6 477.7,424.0 478.8,424.3 479.4,424.9 481.5,425.4 482.4,425.7 484.0,426.7 484.7,427.5 484.8,427.9 487.0,429.0 485.6,431.4 486.8,431.6 486.6,433.4 486.0,434.8 486.6,436.5 486.8,437.5 487.8,438.2 488.0,439.5 489.8,440.3 490.1,441.0 491.3,443.6 491.7,444.4 492.2,445.3 491.3,446.7 490.2,447.8 489.1,449.0 488.4,450.9 487.8,451.3 487.3,453.6 486.7,455.7 485.7,456.5 485.2,458.1 484.5,459.9 483.8,460.7 483.5,462.4 483.1,464.4 480.9,464.0 478.3,462.0 477.1,462.5 476.6,462.2 474.5,460.6 473.5,459.3 473.1,458.7 471.3,457.4 469.9,457.3 469.5,456.4 467.1,455.7 466.2,456.1 465.5,455.2 463.1,454.3 461.4,454.4 460.8,454.6 458.5,453.4 457.4,453.2 456.0,452.5 453.6,453.3 453.2,450.9 453.5,449.3 452.2,448.5 452.4,447.5 453.3,446.4 453.7,444.9 454.5,444.5 452.4,443.3 452.6,442.0 451.9,440.6 450.6,439.3 450.8,437.7 450.5,436.4 450.8,434.9 450.6,433.1 450.2,431.9 451.1,430.8 451.4,429.5 450.2,427.5 451.6,427.2 451.4,424.9 451.0,423.9 451.3,422.3 452.2,421.5 450.6,418.9 452.0,418.6 452.0,416.8 451.3,415.3 451.6,414.1 452.7,413.2 451.1,411.6"/>
<polygon fill="#4fb2e8" stroke="#4fb2e8" points="456.0,452.5 457.4,453.2 458.5,453.4 460.8,454.6 461.4,454.4 463.1,454.3 465.5,455.2 466.2,456.1 467.1,455.7 469.5,456.4 469.9,457.3 471.3,457.4 473.1,458.7 473.5,459.3 474.5,460.6 476.6,462.2 477.1,462.5 478.3,462.0 480.9,464.0 483.1,464.4 482.5,464.8 484.0,466.3 485.4,467.3 485.9,467.6 488.3,469.0 488.7,469.7 488.4,471.1 488.6,472.3 487.7,473.3 486.6,474.8 486.7,474.5 484.6,475.2 484.0,474.7 482.4,474.6 481.2,475.7 480.1,476.9 478.7,477.3 478.1,479.9 478.4,480.6 477.9,482.1 477.3,484.0 478.4,485.6 477.3,486.0 478.5,488.0 478.6,488.8 477.6,488.9 475.7,489.5 475.2,488.5 472.6,489.5 472.5,490.4 469.8,489.7 469.5,490.8 467.5,490.6 466.6,489.5 465.6,491.0 463.9,490.6 463.4,490.2 461.0,490.2 460.2,490.7 458.1,490.6 457.4,490.9 455.4,490.8 454.8,490.4 453.1,491.1 452.2,491.4 451.0,491.0 449.5,491.5 448.0,490.8 446.8,491.1 444.7,491.9 444.3,490.7 444.5,490.2 444.4,488.0 444.5,487.8 445.1,485.9 445.3,485.4 446.2,483.9 445.4,482.9 445.5,481.4 447.2,480.8 446.5,478.5 446.2,478.5 447.1,476.0 447.7,475.6 447.6,473.9 447.0,472.7 448.4,471.4 449.3,470.3 449.0,467.3 448.8,466.0 449.5,465.5 449.7,463.1 449.9,461.5 450.8,459.9 451.4,459.3 451.9,457.3 452.1,457.1 452.6,455.0 453.1,454.4 453.6,453.3"/>
<polygon fill="#f4f4f4" stroke="#f4f4f4" points="488.7,469.7 489.7,470.1 492.3,470.7 494.3,470.5 495.0,470.9 497.6,471.7 497.9,470.6 500.5,470.9 501.0,470.3 503.2,470.9 504.4,470.7 506.2,469.4 506.5,470.0 509.3,469.8 509.3,469.1 511.0,469.9 511.7,471.5 512.9,472.8 513.9,474.6 514.5,475.2 515.3,476.0 515.8,477.3 516.6,478.5 518.8,479.8 519.6,480.8 518.9,481.9 518.0,484.4 518.2,484.4 519.0,486.3 520.1,487.7 520.1,489.7 519.3,489.8 518.9,491.4 518.5,492.2 518.0,493.2 515.9,494.8 514.5,494.6 514.1,495.8 513.1,496.5 510.6,496.9 509.9,497.0 508.2,497.5 506.8,498.1 504.6,498.9 503.0,501.2 502.3,499.4 500.8,499.3 498.7,499.4 498.3,499.5 496.4,498.5 495.4,498.4 494.7,497.0 492.4,495.5 490.7,495.0 490.9,494.0 489.9,492.9 487.8,491.7 487.2,490.2 486.3,490.8 483.6,490.1 483.1,489.4 481.0,490.2 479.7,489.4 478.6,488.8 478.5,488.0 477.3,486.0 478.4,485.6 477.3,484.0 477.9,482.1 478.4,480.6 478.1,479.9 478.7,477.3 480.1,476.9 481.2,475.7 482.4,474.6 484.0,474.7 484.6,475.2 486.7,474.5 486.6,474.8 487.7,473.3 488.6,472.3 488.4,471.1"/>
<polygon fill="#b7e0f6" stroke="#b7e0f6" points="444.3,490.7 444.7,491.9 446.8,491.1 448.0,490.8 449.5,491.5 451.0,491.0 452.2,491.4 453.1,491.1 454.8,490.4 455.4,490.8 457.4,490.9 458.1,490.6 460.2,490.7 461.0,490.2 463.4,490.2 463.9,490.6 465.6,491.0 466.6,489.5 467.5,490.6 469.5,490.8 469.8,489.7 472.5,490.4 472.6,489.5 475.2,488.5 475.7,489.5 477.6,488.9 478.6,488.8 479.7,489.4 481.0,490.2 483.1,489.4 483.6,490.1 484.9,492.5 485.5,493.9 485.0,495.2 484.3,496.2 484.3,498.8 483.8,500.1 483.4,501.5 483.8,503.1 483.6,504.4 482.3,507.1 481.3,507.3 481.6,509.5 481.7,509.7 481.0,511.8 480.4,512.2 479.7,513.9 479.5,514.7 479.5,516.1 479.1,517.9 477.8,518.2 475.8,517.8 475.7,519.1 473.8,518.0 473.0,517.8 470.8,516.6 470.5,517.0 469.5,516.1 467.9,516.0 467.0,515.0 465.5,514.6 462.8,514.2 461.5,512.9 460.6,513.5 457.9,513.1 456.0,512.4 455.0,510.9 453.8,509.5 452.0,509.1 450.5,508.4 449.3,507.0 448.6,506.7 446.3,505.9 446.3,504.8 445.5,504.0 443.7,503.2 443.4,502.0 441.9,500.9 440.4,500.7 439.3,499.5 438.5,498.6 436.3,498.4 438.4,498.0 440.2,497.1 440.8,495.6 442.1,495.4 442.7,493.5 443.5,492.6"/>
<polygon fill="#4fb2e8" stroke="#4fb2e8" points="484.7,493.0 485.7,491.5 487.2,490.2 487.8,491.7 489.9,492.9 490.9,494.0 490.7,495.0 492.4,495.5 494.7,497.0 495.4,498.4 496.3,498.7 498.0,499.6 500.5,499.3 501.8,499.5 502.1,501.5 502.9,503.5 502.7,503.6 501.6,506.1 501.7,506.0 502.2,508.3 501.7,509.0 503.6,511.3 503.0,512.4 502.6,514.3 502.4,514.9 502.1,517.1 501.1,517.3 500.4,520.0 500.8,520.9 500.7,522.8 500.0,522.2 497.8,522.8 497.4,522.4 494.6,523.4 493.5,523.5 492.1,523.1 491.3,522.8 489.3,523.6 489.7,522.6 487.3,522.4 486.7,521.4 485.4,520.4 483.9,520.1 483.2,518.6 481.6,518.1 480.1,516.9 479.1,517.5 479.1,517.9 479.4,516.0 479.5,513.5 480.1,513.3 481.0,511.8 481.7,509.7 481.6,509.5 481.3,507.3 482.3,507.1 483.6,504.4 483.8,503.1 483.4,501.5 483.8,500.1 484.4,499.1 485.3,497.5 484.4,497.0 484.9,495.0 485.3,493.8"/>
<polygon fill="#ea6a6d" stroke="#ea6a6d" points="516.3,459.1 516.1,459.0 517.5,457.7 519.4,458.2 520.6,458.9 521.8,458.8 523.6,460.0 525.3,460.6 526.9,460.6 528.7,462.2 530.2,460.9 532.0,460.9 532.5,461.9 533.9,462.3 535.2,461.7 536.9,461.3 537.8,460.0 540.0,461.4 540.6,461.2 542.4,461.2 543.1,462.8 542.2,464.3 541.2,464.4 539.5,466.1 538.3,466.8 537.4,468.3 535.9,468.9 534.4,469.2 533.5,470.8 532.4,471.0 531.6,472.4 531.2,473.6 530.6,474.9 529.9,475.9 529.0,477.0 528.4,477.0 527.3,478.2 525.7,479.3 524.2,479.4 522.6,480.0 519.9,480.0 519.6,480.8 518.8,479.8 516.6,478.5 515.8,477.3 515.3,476.0 514.5,475.2 513.9,474.6 512.9,472.8 511.7,471.5 511.0,469.9 509.3,469.1 510.4,468.3 511.5,467.6 512.4,465.8 512.9,465.6 513.2,463.0 513.7,462.0 514.5,460.7 515.5,459.1"/>
<polygon fill="#f7c6ce" stroke="#f7c6ce" points="519.6,480.8 519.9,480.0 522.6,480.0 524.2,479.4 525.7,479.3 527.3,478.2 528.4,477.0 529.0,477.0 529.9,475.9 530.6,474.9 531.2,473.6 531.6,472.4 532.4,471.0 532.4,473.5 533.0,474.4 533.2,476.1 534.1,477.3 535.1,478.3 535.3,480.6 535.7,481.7 536.3,483.9 538.3,485.2 539.0,487.1 539.2,487.7 541.1,489.5 540.9,490.3 541.7,491.8 542.4,492.7 542.9,493.8 542.5,495.2 541.5,495.0 539.4,496.4 538.1,497.0 537.7,498.2 537.2,498.8 535.9,499.3 533.7,500.1 533.1,500.6 531.6,501.0 530.3,501.6 528.6,501.0 528.3,502.4 526.2,502.5 525.2,503.1 524.4,503.6 522.6,505.1 521.2,505.0 520.6,505.9 518.4,505.3 517.5,506.1 517.0,507.2 516.3,508.6 515.1,509.3 513.8,511.2 513.5,511.9 513.4,513.4 512.2,514.4 512.7,516.9 512.7,516.3 511.6,518.4 510.7,518.9 510.3,520.2 510.0,521.2 509.0,522.5 507.8,522.9 506.4,523.3 505.3,522.9 502.6,521.9 502.5,522.8 500.7,522.8 500.8,520.9 500.4,520.0 501.1,517.3 502.1,517.1 502.4,514.9 502.6,514.3 503.0,512.4 503.6,511.3 501.7,509.0 502.2,508.3 501.7,506.0 501.9,505.8 502.3,503.1 502.8,502.8 502.2,501.4 503.1,500.9 504.8,498.6 506.8,498.1 508.2,497.5 509.9,497.0 510.6,496.9 513.1,496.5 514.1,495.8 514.5,494.6 515.9,494.8 518.0,493.2 518.5,492.2 518.9,491.4 519.3,489.8 520.1,489.7 520.1,487.7 519.0,486.3 518.2,484.4 518.0,484.4 518.9,481.9"/>
<polygon fill="#b7e0f6" stroke="#b7e0f6" points="515.1,509.3 516.3,508.6 517.0,507.2 517.5,506.1 518.4,505.3 520.6,505.9 521.2,505.0 522.6,505.1 524.4,503.6 525.2,503.1 526.2,502.5 528.3,502.4 528.6,501.0 530.3,501.6 531.6,501.0 533.1,500.6 533.7,500.1 535.9,499.3 536.0,500.8 536.6,502.3 537.5,504.4 537.9,504.7 539.2,505.6 540.2,506.4 541.4,507.8 542.9,508.3 541.9,510.0 543.7,511.8 543.2,511.9 544.7,513.4 544.2,515.4 544.9,515.7 544.9,516.9 545.3,518.9 545.7,520.1 545.2,522.2 546.6,522.6 543.4,523.3 542.3,523.8 540.8,524.4 539.8,525.5 538.6,525.7 536.9,524.8 535.4,526.4 534.1,525.5 531.9,525.0 530.6,525.8 529.2,525.2 529.3,524.8 526.9,523.5 526.4,523.0 524.4,523.3 523.3,523.0 522.3,523.0 521.6,521.7 520.1,521.8 518.9,520.9 517.6,520.7 516.4,519.7 515.8,519.4 514.7,517.9 514.3,517.4 512.7,516.3 513.2,515.7 512.2,514.4 513.4,513.4 513.5,511.9 513.8,511.2"/>
<polygon fill="#b7e0f6" stroke="#b7e0f6" points="549.3,446.8 551.1,445.8 551.8,445.7 554.6,444.4 555.5,444.8 557.3,443.3 558.9,443.4 559.0,442.4 560.5,442.5 562.0,441.3 563.2,439.2 564.5,438.8 565.9,437.5 567.3,436.9 568.0,438.0 569.2,439.9 570.3,440.6 571.1,442.2 572.4,442.9 573.3,444.5 573.6,445.4 574.2,447.2 574.7,448.2 575.8,450.0 574.8,450.3 576.6,452.2 575.9,454.3 577.9,454.8 577.8,456.8 578.7,459.0 579.4,459.7 581.1,461.3 580.4,462.8 582.3,463.3 582.3,464.9 583.0,465.3 583.8,467.0 584.4,468.2 585.4,469.6 586.0,471.3 585.5,472.5 584.6,474.0 583.5,474.0 582.5,476.4 581.2,477.0 580.1,478.5 578.7,479.5 577.3,481.0 576.7,481.3 574.9,482.6 573.6,482.5 571.1,483.7 570.8,482.2 569.5,482.8 567.6,482.8 566.6,482.2 565.6,481.5 564.7,480.9 564.0,479.2 562.9,477.5 561.4,476.4 561.5,476.1 559.9,474.9 558.9,473.2 558.1,471.9 557.2,470.1 555.8,468.8 553.7,468.3 551.9,467.8 551.0,466.9 550.2,466.7 547.6,466.4 546.6,466.0 545.3,465.5 545.3,465.3 543.4,463.3 542.9,462.7 541.8,461.0 541.5,459.4 541.0,459.3 541.0,457.4 541.2,455.5 540.1,454.9 541.3,453.1 542.3,452.8 543.1,451.4 544.1,450.2 545.6,450.0 546.9,447.8 548.1,447.0"/>
<polygon fill="#f7c6ce" stroke="#f7c6ce" points="542.9,462.7 543.4,463.3 545.3,465.3 545.3,465.5 546.6,466.0 547.6,466.4 550.2,466.7 551.0,466.9 551.9,467.8 553.7,468.3 555.8,468.8 557.2,470.1 558.1,471.9 558.9,473.2 559.9,474.9 561.5,476.1 561.4,476.4 562.9,477.5 564.0,479.2 564.7,480.9 565.6,481.5 566.6,482.2 567.6,482.8 569.5,482.8 570.8,482.2 571.1,483.7 570.6,484.3 570.3,485.2 568.7,486.7 567.1,486.9 566.2,488.0 565.3,487.9 565.6,490.5 564.3,490.3 563.2,492.7 563.7,492.8 562.3,494.1 562.0,494.2 560.0,494.8 558.8,494.9 556.7,495.0 556.1,493.8 554.1,494.7 551.4,493.6 551.3,493.8 549.1,494.5 547.9,495.0 545.8,495.6 545.0,494.2 542.9,493.8 542.1,492.6 541.5,491.6 541.1,489.3 539.4,487.6 539.7,487.2 538.7,486.9 537.3,485.1 536.4,483.8 536.0,482.1 535.6,482.3 535.1,480.5 535.1,478.7 534.1,478.4 534.3,477.1 532.9,475.3 533.0,474.5 532.4,473.3 532.8,471.4 533.7,471.5 535.1,469.7 536.1,468.7 537.2,468.3 538.0,467.4 539.3,466.8 540.2,464.9 540.9,465.0 541.6,463.2"/>
<polygon fill="#f7c6ce" stroke="#f7c6ce" points="573.9,443.9 574.6,443.3 574.9,441.3 574.7,441.0 575.1,438.7 576.3,438.7 577.0,437.9 579.0,438.1 580.3,437.0 580.4,436.5 581.7,434.7 584.2,434.5 585.5,433.1 586.9,434.8 586.4,435.6 588.0,435.8 589.5,437.6 589.7,437.8 591.7,438.1 592.8,439.3 593.9,440.0 595.9,440.4 596.8,440.6 598.5,440.7 599.1,441.4 600.2,442.8 600.2,444.2 601.2,444.7 601.7,446.0 602.3,448.1 601.5,448.4 602.6,449.6 602.4,451.5 602.6,451.8 602.7,454.3 602.4,455.2 602.3,456.7 602.5,457.6 601.7,459.8 600.2,460.1 599.4,462.1 599.2,462.8 598.6,463.6 597.5,465.6 595.7,465.7 593.9,466.9 593.4,466.7 591.0,467.9 590.4,467.3 588.4,467.7 587.4,467.8 585.3,467.1 584.9,466.1 582.9,466.5 582.9,464.5 582.3,463.8 581.0,463.5 581.1,461.8 579.6,460.1 579.4,458.4 578.8,458.2 577.6,456.6 577.9,454.9 576.2,454.3 576.6,452.5 575.1,451.0 575.8,450.8 574.7,448.9 575.2,446.9 573.4,446.1"/>
<polygon fill="#ea6a6d" stroke="#ea6a6d" points="584.4,468.2 585.6,467.0 587.3,468.0 588.9,467.8 590.5,467.4 592.5,466.9 593.5,466.2 595.4,465.7 597.2,465.5 597.7,464.1 598.7,463.3 599.8,462.1 600.5,461.6 601.5,460.2 602.4,457.8 602.9,458.5 604.5,459.1 605.8,458.7 607.2,459.2 608.7,458.9 610.1,460.2 611.8,459.1 613.3,459.1 613.9,459.1 615.2,458.2 617.3,459.7 618.3,460.0 620.0,461.3 620.2,460.9 621.8,461.8 622.8,462.0 623.8,463.2 625.4,464.2 625.1,466.2 625.1,468.2 626.3,468.3 626.4,469.5 627.0,472.1 626.8,472.9 626.9,474.8 627.0,475.1 626.4,477.7 625.8,478.9 624.8,479.8 623.4,481.0 621.7,481.3 620.1,482.9 618.9,484.2 618.1,484.6 617.5,486.8 616.5,487.0 615.2,487.7 614.5,489.4 614.2,489.4 613.6,491.2 611.7,490.8 611.1,490.6 609.7,489.5 608.4,488.8 607.7,487.7 607.2,485.3 605.1,484.5 604.3,483.2 603.3,482.4 602.2,481.2 601.0,479.4 599.1,478.4 598.4,477.3 597.7,475.7 595.5,475.2 593.2,474.4 591.8,474.1 591.0,473.7 589.5,472.3 587.3,470.7 586.3,470.6 585.5,469.6"/>
<polygon fill="#f7c6ce" stroke="#f7c6ce" points="563.7,492.8 563.2,492.7 564.3,490.3 565.6,490.5 565.3,487.9 566.2,488.0 567.1,486.9 568.7,486.7 570.3,485.2 570.6,484.3 571.1,483.7 573.6,482.5 574.9,482.6 576.7,481.3 577.3,481.0 578.7,479.5 580.1,478.5 581.2,477.0 582.5,476.4 583.5,474.0 584.6,474.0 585.5,472.5 586.0,471.3 587.3,470.7 589.5,472.3 591.0,473.7 591.8,474.1 593.2,474.4 595.5,475.2 597.7,475.7 598.4,477.3 599.1,478.4 601.0,479.4 602.2,481.2 603.3,482.4 604.3,483.2 605.1,484.5 607.2,485.3 607.7,487.7 608.4,488.8 606.7,490.3 606.1,490.5 604.1,491.9 602.4,491.6 601.8,492.7 601.1,493.4 599.6,494.6 598.2,495.4 597.3,495.6 596.2,496.7 595.1,497.5 594.7,499.0 592.3,498.8 590.9,500.1 590.0,500.9 587.1,501.1 585.8,502.4 584.3,502.2 583.4,503.5 580.9,503.2 580.1,502.7 578.4,502.6 578.6,502.2 576.1,501.6 574.4,500.7 573.4,500.3 571.7,499.0 570.4,499.1 570.0,498.5 568.5,499.1 567.4,498.2 565.6,497.7 564.3,496.0 563.8,495.1"/>
<polygon fill="#f7c6ce" stroke="#f7c6ce" points="539.7,496.3 541.4,495.1 542.4,495.0 543.4,495.1 544.9,494.7 545.8,495.6 547.9,495.0 549.1,494.5 551.3,493.8 551.4,493.6 554.1,494.7 556.1,493.8 556.7,495.0 558.8,494.9 560.0,494.8 562.0,494.2 562.3,494.1 563.7,492.8 563.8,495.1 564.3,496.0 565.6,497.7 567.4,498.2 568.5,499.1 570.0,498.5 570.4,499.1 571.7,499.0 573.4,500.3 574.4,500.7 576.1,501.6 578.6,502.2 578.4,502.6 580.1,502.7 580.9,503.2 580.3,504.9 579.7,506.3 578.7,508.2 577.6,509.2 576.9,511.4 577.3,512.7 577.2,514.4 576.1,516.4 575.3,517.1 574.5,518.9 573.1,517.5 571.7,517.9 571.5,518.6 569.5,517.5 566.6,518.7 566.0,518.6 563.2,519.7 562.7,519.1 560.1,519.8 558.7,519.5 556.8,520.7 555.9,522.1 555.0,522.6 553.4,523.5 551.5,523.5 550.9,524.3 549.2,524.3 548.2,523.4 546.1,522.9 546.4,521.9 544.7,522.4 543.4,523.3 542.3,521.4 541.7,519.0 541.3,519.1 541.4,518.2 541.2,515.8 540.0,514.7 539.9,512.1 539.9,511.0 539.8,509.1 540.2,509.1 540.9,506.6 539.8,506.0 539.6,505.3 537.6,504.4 536.6,501.3 536.4,500.7 536.7,498.7 537.7,498.4"/>
<polygon fill="#f7c6ce" stroke="#f7c6ce" points="626.0,460.0 629.3,461.5 630.4,460.3 631.5,460.4 631.8,460.0 634.2,459.7 634.1,459.4 636.1,458.2 636.2,460.3 638.4,461.4 638.9,461.4 640.1,462.6 641.5,462.4 642.7,463.6 644.4,463.7 645.4,465.0 646.8,465.1 648.0,466.2 648.9,466.6 648.8,467.6 648.2,469.8 648.3,471.7 648.7,473.0 648.9,474.8 649.5,476.7 650.9,477.4 651.7,479.3 651.7,480.7 653.5,481.6 653.6,482.5 654.3,483.9 653.2,484.9 651.3,485.5 650.7,485.9 648.7,484.3 646.1,484.1 645.1,484.3 643.8,483.7 641.4,483.4 640.1,482.1 639.3,482.7 637.6,481.8 635.5,481.4 633.9,480.8 632.9,479.2 631.5,478.2 629.9,478.0 629.5,476.7 627.8,475.9 627.4,475.4 627.1,473.2 626.6,471.9 626.6,471.6 626.9,469.5 625.0,468.6 625.5,466.2 625.3,464.7 625.8,462.8 626.0,462.7"/>
<polygon fill="#ea6a6d" stroke="#ea6a6d" points="611.7,491.0 612.4,490.0 614.0,490.2 615.0,488.7 615.3,487.8 616.5,486.9 617.7,486.7 618.3,484.4 618.9,484.2 620.1,482.9 621.7,481.3 623.4,481.0 624.8,479.8 625.8,478.9 626.4,477.7 627.8,475.9 629.5,476.7 629.9,478.0 631.5,478.2 632.9,479.2 633.9,480.8 635.5,481.4 637.6,481.8 639.3,482.7 640.1,482.1 641.4,483.4 643.8,483.7 645.1,484.3 646.1,484.1 648.7,484.3 650.7,485.9 651.3,485.5 652.9,487.5 652.7,488.0 653.3,488.5 652.4,491.0 653.3,491.8 653.3,493.5 652.5,495.1 652.7,496.6 652.0,499.1 652.1,500.1 653.0,500.2 653.1,501.6 651.0,501.3 649.8,501.6 649.1,501.9 647.1,502.1 644.8,501.2 643.3,500.8 642.0,500.4 640.4,499.2 638.4,498.2 637.4,498.2 635.8,496.8 633.2,498.0 632.1,496.7 630.8,496.7 628.6,497.2 627.6,496.4 625.9,495.9 625.2,495.5 623.8,495.8 623.2,495.9 622.1,495.0 620.0,493.4 617.8,492.9 617.2,492.0 615.3,491.7 613.6,491.5 613.6,490.8"/>
<polygon fill="#ea6a6d" stroke="#ea6a6d" points="652.6,486.9 653.4,486.2 654.3,485.5 655.2,484.1 657.7,484.1 660.5,483.9 660.7,483.7 663.1,483.4 664.0,482.7 666.0,482.2 667.4,483.4 669.0,484.0 671.3,483.9 672.3,483.7 673.5,482.9 675.5,482.8 677.7,482.0 679.3,482.5 679.6,483.4 681.6,484.1 684.0,483.4 684.5,484.6 685.5,486.7 686.7,487.9 688.3,489.5 689.4,490.3 688.7,491.5 687.6,491.7 686.2,493.9 685.2,493.5 684.3,495.9 683.4,497.3 682.4,498.2 681.7,499.8 681.0,501.6 680.3,503.7 678.1,504.0 677.6,505.1 676.0,505.2 673.8,505.5 672.8,506.6 670.5,506.4 670.0,507.8 667.0,507.7 666.6,507.3 664.6,508.1 662.3,506.3 661.8,506.5 660.1,505.1 658.8,504.5 657.6,503.9 656.8,502.4 654.7,502.0 654.5,501.0 652.9,500.1 652.1,500.1 652.0,499.1 652.6,496.6 652.3,494.6 653.4,493.3 653.3,491.7 652.4,491.0 653.2,488.4"/>
<polygon fill="#f4f4f4" stroke="#f4f4f4" points="654.5,462.1 656.2,462.8 657.7,461.8 658.8,460.4 659.5,458.6 660.4,457.5 661.2,455.7 661.5,454.9 662.4,454.1 664.3,454.0 666.8,452.7 667.6,454.9 668.5,454.0 670.1,452.2 672.3,451.7 673.3,450.9 674.8,451.0 675.3,451.6 677.1,451.7 677.8,452.7 680.2,452.8 681.3,451.3 682.3,451.7 683.3,450.0 685.1,449.6 686.2,447.9 686.9,448.2 687.4,446.9 688.1,445.2 689.1,445.2 690.5,442.7 691.9,442.1 690.7,443.0 689.6,445.6 688.4,445.7 687.0,446.8 686.6,448.5 687.3,449.2 687.3,451.8 686.4,452.4 687.3,454.0 687.8,455.2 687.3,457.1 687.9,459.4 687.8,459.2 686.8,459.3 686.3,460.8 685.6,462.5 685.1,463.7 684.1,466.0 684.8,466.9 685.4,468.4 684.4,469.2 685.8,471.6 686.6,472.6 685.6,474.7 687.1,476.0 686.7,476.5 686.2,478.5 686.4,480.1 686.5,481.3 685.2,483.6 684.0,483.4 681.6,484.1 679.6,483.4 679.3,482.5 677.7,482.0 675.5,482.8 673.5,482.9 672.3,483.7 671.3,483.9 669.0,484.0 667.4,483.4 666.0,482.2 664.0,482.7 663.1,483.4 660.7,483.7 660.5,483.9 657.7,484.1 656.7,483.8 654.3,483.9 653.6,482.5 653.5,481.6 651.7,480.7 651.7,479.3 650.9,477.4 649.5,476.7 648.9,474.8 648.7,473.0 648.3,471.6 648.2,469.8 648.8,467.6 648.9,466.6 649.7,464.6 650.1,464.7 650.8,462.4 653.9,462.8"/>
<polygon fill="#ea6a6d" stroke="#ea6a6d" points="647.0,456.6 648.1,454.4 648.4,454.3 648.0,451.9 648.9,452.1 650.7,450.9 651.3,449.7 651.2,448.2 651.9,447.5 652.9,446.7 655.5,446.1 656.4,445.3 656.8,443.3 658.0,443.2 659.6,442.1 661.2,442.0 661.6,440.1 662.2,440.0 664.1,438.9 665.5,439.2 665.9,438.1 668.5,438.1 668.8,437.1 671.1,438.1 671.8,438.1 672.8,436.4 672.6,433.6 673.2,432.4 673.6,430.5 672.7,430.5 671.5,428.8 671.5,428.0 672.4,429.5 673.7,430.5 674.6,430.1 675.5,428.7 676.7,429.0 677.3,427.6 678.2,427.1 680.1,425.5 679.7,427.4 681.4,429.7 681.4,430.5 682.1,431.8 684.2,432.5 684.6,434.2 684.6,435.5 686.7,436.8 687.3,437.7 688.4,438.3 689.5,439.0 690.3,439.5 690.5,440.2 690.9,440.8 691.9,442.1 690.5,442.7 689.2,445.2 688.1,445.3 687.4,446.9 686.9,448.2 686.2,447.9 685.1,449.6 683.3,450.0 682.2,451.6 681.4,451.3 680.1,452.8 677.8,452.7 677.1,451.7 675.3,451.6 674.8,451.0 673.3,451.0 672.3,451.7 670.1,452.2 668.4,454.0 667.6,454.9 666.8,452.7 665.4,454.2 664.2,454.0 662.4,454.1 661.5,454.9 661.3,455.5 660.4,457.5 659.5,458.6 658.2,459.7 657.4,461.0 657.6,461.8 656.2,462.8 654.5,462.1 653.5,462.7 652.0,462.4 651.2,460.9 650.1,460.1 649.0,459.3 648.2,458.1"/>
<polygon fill="#ea6a6d" stroke="#ea6a6d" points="685.4,460.7 687.7,459.2 687.7,459.2 688.3,459.3 689.6,460.1 690.7,461.6 692.3,462.4 691.9,463.6 692.7,465.1 694.9,466.3 696.6,466.6 697.5,466.7 698.8,467.6 701.2,467.9 702.9,466.7 704.9,467.1 705.4,466.1 707.5,467.1 707.7,466.9 710.4,468.2 710.8,468.2 711.1,469.3 710.4,471.6 708.9,472.7 708.5,474.1 707.9,476.1 707.6,475.9 707.2,478.3 706.5,478.9 704.5,479.7 703.4,480.8 703.1,481.8 702.2,482.5 700.9,482.7 700.0,483.9 698.5,484.6 696.9,486.3 695.9,486.2 695.0,487.5 693.6,487.0 692.0,488.3 692.1,488.2 690.9,489.8 689.2,490.3 688.1,489.4 687.0,487.9 685.9,486.9 686.1,485.1 684.7,484.6 684.5,483.0 685.4,481.9 686.7,481.2 687.1,479.7 686.1,478.7 687.0,477.1 687.2,476.1 685.8,474.4 686.2,472.6 686.0,471.4 684.4,469.1 685.4,468.3 684.7,466.0 684.9,465.8 685.0,463.6 685.9,463.0 685.7,461.5"/>
<polygon fill="#4fb2e8" stroke="#4fb2e8" points="653.7,335.4 655.9,334.8 655.9,334.8 658.5,334.2 659.3,333.4 659.7,332.6 661.9,331.9 663.2,331.6 663.6,331.1 665.5,331.0 666.6,329.5 667.7,329.6 669.0,328.3 670.4,328.4 671.4,327.4 672.8,326.2 673.7,325.5 673.8,324.8 676.4,324.3 676.5,324.9 678.0,323.5 679.6,323.4 680.1,322.3 681.4,322.4 682.8,323.0 683.6,322.4 686.2,322.9 686.3,323.1 687.9,323.6 689.0,323.3 691.2,324.2 692.8,323.9 693.1,325.2 695.7,324.4 693.1,325.2 692.8,323.9 691.6,326.8 690.3,326.6 689.2,328.3 689.4,329.2 688.5,330.7 687.9,332.1 689.9,333.2 690.7,335.0 689.4,334.7 687.7,336.7 686.5,337.2 686.0,337.9 685.5,339.5 685.0,339.7 684.5,342.3 683.3,342.1 682.6,344.1 681.7,344.8 680.3,345.8 679.0,347.4 678.1,348.1 677.4,349.4 676.0,351.3 675.4,351.3 675.0,353.6 674.2,353.4 673.2,355.8 672.6,355.5 672.0,357.1 670.6,359.1 668.7,359.1 667.4,359.8 666.9,359.8 666.3,358.1 665.9,356.1 666.4,356.3 665.4,354.7 665.8,352.5 664.8,352.4 663.0,352.2 662.3,350.5 661.0,349.6 661.0,349.0 659.8,346.9 657.6,345.6 657.7,344.3 656.9,344.1 656.3,342.3 656.1,340.9 655.3,339.8 655.6,339.0 654.6,337.7 654.9,335.7"/>
<polygon fill="#4fb2e8" stroke="#4fb2e8" points="648.7,336.4 649.7,335.9 651.2,334.4 652.6,334.9 653.7,335.4 654.9,335.7 654.6,337.7 655.6,339.0 655.3,339.8 656.1,340.9 656.3,342.3 656.9,344.1 657.7,344.3 657.6,345.6 659.8,346.9 661.0,349.0 661.0,349.6 662.3,350.5 663.0,352.2 664.8,352.4 665.8,352.5 665.4,354.7 666.4,356.3 665.9,356.1 666.3,358.1 666.9,359.8 667.4,359.8 667.4,359.8 666.4,361.9 665.2,362.2 664.2,365.0 663.5,364.8 663.8,367.2 663.9,367.2 662.7,369.6 662.0,369.8 662.5,371.8 661.9,372.9 661.9,374.4 661.6,374.8 660.1,376.4 657.9,376.4 656.8,377.2 656.3,377.9 654.8,377.9 653.6,377.2 651.6,376.8 652.0,376.6 649.9,375.7 648.2,376.9 646.0,375.7 646.1,373.4 644.3,371.7 643.7,370.8 643.5,368.6 643.6,367.9 644.7,366.4 644.7,365.6 644.7,363.8 645.6,362.2 645.1,359.6 645.8,358.7 645.4,356.5 645.2,355.7 644.1,353.6 645.4,352.8 643.6,350.6 643.0,349.6 642.6,348.5 643.2,345.9 643.6,344.0 644.0,343.9 644.8,342.1 645.9,341.2 646.8,339.7 646.9,338.8 647.5,337.2"/>
<polygon fill="#b7e0f6" stroke="#b7e0f6" points="555.5,366.8 557.4,365.7 558.5,365.9 559.6,364.5 560.6,364.8 561.6,363.2 562.6,361.0 563.7,360.5 565.2,359.2 566.6,358.8 567.8,358.1 569.0,357.6 570.6,356.7 570.9,357.6 573.0,356.5 573.3,356.1 574.7,356.4 576.5,355.7 576.1,356.0 578.0,358.3 579.9,359.3 580.6,358.4 582.6,360.2 584.5,360.1 584.9,359.6 587.8,360.0 588.0,359.8 590.9,359.3 591.0,359.6 593.6,359.3 594.4,361.3 594.2,361.7 596.1,363.4 595.9,364.0 596.9,365.9 599.3,367.0 599.3,367.4 600.6,368.6 601.5,368.9 602.0,370.5 602.8,370.8 603.1,371.6 603.0,374.3 602.5,374.7 602.1,376.2 601.7,377.3 599.8,378.3 597.9,379.8 598.0,380.9 597.9,382.2 597.2,383.3 596.0,384.9 595.4,387.1 596.1,387.9 595.8,389.6 593.7,389.8 593.4,389.2 590.8,389.5 590.1,388.7 588.5,388.6 587.0,387.4 586.7,386.8 585.4,387.2 584.1,387.0 582.2,387.0 581.7,385.4 579.6,385.3 580.0,385.2 577.9,384.8 577.0,384.5 575.9,383.9 574.6,383.1 574.0,382.6 572.3,380.6 571.8,379.0 570.3,379.0 569.9,380.2 567.5,379.5 567.5,380.5 566.7,381.1 565.5,381.6 564.6,382.3 562.8,383.0 561.5,384.5 562.2,383.0 561.1,380.5 562.0,380.3 560.1,379.4 560.6,377.9 559.0,375.9 558.2,375.1 557.5,374.5 556.2,373.5 554.6,372.2 554.4,371.9 553.1,370.5 553.7,368.7 554.2,368.8 554.4,367.2"/>
<polygon fill="#b7e0f6" stroke="#b7e0f6" points="608.4,343.0 608.6,342.8 610.5,342.4 611.8,342.1 613.2,343.1 613.7,343.3 615.8,344.7 617.1,346.0 618.8,346.8 619.7,347.4 621.3,348.5 622.6,349.3 624.4,350.3 626.0,349.5 627.8,349.9 628.7,348.6 631.5,348.5 631.6,347.2 634.6,348.0 634.5,348.1 637.2,347.6 637.2,348.0 640.0,347.0 640.2,347.2 642.8,347.2 642.4,349.1 644.3,349.4 643.5,351.2 645.4,352.9 644.3,353.5 645.3,354.7 645.0,356.5 645.5,356.5 645.5,358.5 645.1,359.9 645.7,362.0 645.9,362.8 644.9,364.4 644.2,366.0 643.8,368.0 643.1,368.8 643.1,369.9 641.1,368.8 639.4,368.2 638.3,368.9 636.5,368.1 634.8,367.5 633.6,367.9 631.3,368.1 631.3,369.0 631.2,370.1 630.8,371.5 629.8,372.6 628.8,373.9 628.5,375.1 628.0,376.4 627.5,377.5 627.8,379.3 627.8,379.6 626.1,379.1 625.7,378.3 624.1,377.4 623.3,377.3 622.1,377.2 621.5,377.4 619.2,377.1 618.7,377.2 617.1,378.6 615.2,378.4 614.3,379.4 613.3,381.8 613.2,381.3 611.1,381.1 609.7,380.9 608.5,381.6 607.7,380.8 605.9,380.4 605.1,381.1 603.4,380.5 602.8,379.6 600.8,378.8 600.8,378.4 601.7,377.3 602.1,376.2 602.5,374.7 603.0,374.3 603.1,371.6 602.8,370.8 602.0,370.5 601.5,368.9 600.6,368.6 599.3,367.4 599.3,367.0 596.9,365.9 595.9,364.0 596.1,363.4 594.2,361.7 594.4,361.3 593.6,359.3 595.2,359.6 596.4,359.7 598.3,359.3 599.1,359.5 601.2,358.5 602.0,359.1 603.3,356.8 604.4,356.8 604.8,354.9 605.1,354.5 605.2,351.8 605.6,350.9 606.9,350.0 606.6,347.6 605.8,346.4 606.8,345.2 608.2,344.4"/>
<polygon fill="#b7e0f6" stroke="#b7e0f6" points="631.3,368.1 633.6,367.9 634.8,367.5 636.5,368.1 638.3,368.9 639.4,368.2 641.1,368.8 643.1,369.9 643.8,370.3 644.5,372.2 646.0,373.4 646.0,375.7 647.2,375.9 648.5,376.8 650.2,375.8 651.3,376.9 653.6,377.1 654.6,377.9 656.4,378.0 656.4,376.9 657.5,376.6 659.4,375.7 660.1,375.1 661.3,373.4 662.8,373.1 662.8,374.4 664.4,374.9 665.3,376.5 665.3,377.3 664.7,377.5 664.0,378.4 663.0,379.3 662.0,380.6 661.6,381.0 661.2,382.7 660.4,384.2 659.4,385.5 657.9,387.0 658.0,387.7 658.8,389.6 657.6,389.8 656.5,392.6 656.8,393.4 657.4,394.3 656.5,396.1 655.5,396.9 655.2,398.2 655.0,399.6 654.0,400.8 653.0,401.8 651.9,403.8 651.1,402.5 649.5,401.2 648.5,400.6 647.8,399.8 646.6,397.6 645.1,395.9 643.2,395.3 642.9,395.0 641.4,396.1 640.5,396.3 639.0,397.3 637.8,397.1 636.4,397.9 635.9,397.6 633.8,398.9 632.9,397.3 631.5,395.3 630.8,394.7 630.5,394.2 628.5,392.6 627.3,391.8 627.7,391.7 626.3,389.6 627.0,387.8 626.7,387.8 626.0,386.2 626.9,384.9 626.5,383.0 626.4,382.5 627.8,379.6 627.8,379.3 627.5,377.5 628.0,376.4 628.5,375.1 628.8,373.9 629.8,372.6 630.8,371.5 631.2,370.1 631.3,369.0"/>
<polygon fill="#f7c6ce" stroke="#f7c6ce" points="595.9,389.7 595.7,388.2 596.0,387.6 596.5,385.5 596.5,384.8 597.1,383.4 597.7,382.2 598.0,380.8 598.0,379.8 600.1,379.0 601.0,379.7 603.2,379.6 604.4,381.0 604.9,381.0 606.1,380.1 608.0,381.0 608.9,381.5 609.6,380.9 611.2,381.0 613.2,381.3 613.4,381.8 613.7,383.0 613.3,384.4 612.4,385.2 612.2,387.1 611.9,387.9 611.9,389.3 611.4,391.0 613.1,392.1 612.4,393.1 614.4,394.5 613.3,395.6 614.5,396.6 613.7,398.0 615.0,399.6 615.0,400.2 615.0,401.1 615.5,403.8 616.5,404.2 617.8,404.8 618.8,406.6 619.7,406.9 621.0,407.4 623.1,408.0 624.9,408.4 624.5,410.6 626.4,411.3 624.9,413.4 623.9,413.5 624.0,415.6 623.5,415.7 622.2,416.4 622.1,416.8 620.2,417.7 618.8,419.1 617.7,419.4 616.6,420.5 616.5,419.9 616.5,419.9 614.7,418.6 613.8,418.4 614.0,417.4 611.4,416.3 611.4,416.5 609.3,414.9 607.2,416.1 606.4,415.0 604.4,414.5 602.9,413.1 602.8,412.9 601.6,412.6 601.9,410.4 601.8,409.2 601.1,407.8 600.1,405.8 599.1,405.3 599.3,404.0 597.5,402.0 597.1,400.6 596.3,399.4 595.7,396.8 596.7,395.8 594.8,394.5 596.2,393.1 595.5,391.4"/>
<polygon fill="#f7c6ce" stroke="#f7c6ce" points="613.4,381.8 614.3,379.4 615.2,378.4 617.1,378.6 618.7,377.2 619.2,377.1 621.5,377.4 622.1,377.2 623.3,377.3 625.0,378.0 625.4,378.4 627.8,379.6 626.4,382.4 626.5,382.9 627.0,384.9 626.0,386.1 626.7,387.8 627.1,387.8 626.3,389.6 627.7,391.7 627.4,391.9 628.5,392.6 630.5,394.3 630.9,394.9 631.5,395.5 633.5,397.1 634.3,398.8 634.9,400.6 635.9,400.8 635.1,402.6 634.2,404.6 632.5,404.8 631.3,405.8 630.2,405.8 629.1,407.2 628.5,407.9 627.9,409.1 626.5,409.1 624.9,408.4 623.1,408.0 621.0,407.4 619.7,406.9 618.8,406.6 617.8,404.8 616.5,404.2 615.5,403.8 615.0,401.1 615.0,400.2 615.0,399.6 613.7,398.0 614.5,396.6 613.3,395.6 614.4,394.5 612.4,393.1 613.1,392.1 611.4,391.0 611.9,389.3 611.9,387.9 612.2,387.1 612.4,385.2 613.3,384.4 613.7,383.0"/>
<polygon fill="#f4f4f4" stroke="#f4f4f4" points="634.2,404.6 635.1,402.6 635.9,400.8 636.8,399.8 636.8,398.5 636.5,397.6 638.2,396.7 639.8,396.6 640.0,395.9 642.1,396.4 643.3,395.0 643.2,395.2 645.3,396.0 645.9,397.3 646.7,398.3 648.8,399.7 648.8,400.9 649.4,401.5 650.9,402.4 651.6,403.9 653.2,404.0 652.9,405.1 654.6,407.1 655.1,408.0 655.6,409.6 657.0,410.5 658.4,410.7 658.6,411.8 660.4,411.7 661.1,412.0 662.6,410.7 663.5,412.3 664.9,414.0 664.9,415.5 666.6,416.8 666.4,417.3 667.0,419.2 667.2,420.4 668.4,421.2 668.5,422.0 669.1,424.6 670.1,425.1 669.8,425.8 671.5,428.0 671.3,428.8 672.7,430.5 673.6,430.5 673.2,432.5 672.6,433.6 672.8,436.4 671.8,438.1 671.1,438.1 668.8,437.1 668.4,438.1 665.9,438.0 665.5,439.2 664.1,438.9 662.2,440.0 661.6,440.2 661.2,442.0 659.6,442.1 658.0,443.2 656.8,443.3 656.4,445.3 655.4,445.9 653.1,446.8 652.6,445.3 651.3,444.3 651.3,444.2 649.7,442.3 648.4,441.3 647.9,441.0 645.7,439.6 646.8,438.0 647.2,436.7 646.7,436.0 647.1,433.8 646.4,432.0 646.4,431.4 644.9,430.9 642.7,429.9 641.7,428.9 640.5,428.1 639.4,427.6 638.5,427.1 636.7,426.1 637.6,425.6 636.2,424.7 636.6,422.5 635.4,421.4 633.5,420.5 633.5,419.4 631.8,419.3 630.4,420.1 629.3,419.7 629.0,419.6 628.9,419.8 627.0,418.3 627.5,417.1 625.9,415.5 625.4,415.0 624.5,413.3 626.4,411.3 626.5,409.1 627.9,409.1 628.5,407.9 629.1,407.2 630.2,405.8 631.3,405.8 632.5,404.8"/>
<polygon fill="#4fb2e8" stroke="#4fb2e8" points="653.2,404.0 654.0,402.9 654.1,401.5 654.4,400.3 655.0,399.4 655.4,398.1 656.2,397.1 656.5,395.8 657.2,394.7 657.4,395.6 659.2,396.1 659.7,396.8 660.8,398.2 661.9,399.6 664.1,399.8 664.3,400.9 666.3,401.4 668.1,401.8 668.4,402.7 670.9,402.6 671.3,402.1 672.0,401.0 673.1,399.8 673.3,399.1 673.5,398.1 675.0,396.7 675.8,396.6 676.8,394.3 678.6,395.6 678.8,395.7 679.7,396.5 680.3,398.4 681.9,399.3 684.3,399.5 685.0,399.8 686.4,400.8 686.2,401.0 687.2,401.6 688.7,403.2 689.4,403.8 690.3,405.7 690.4,406.6 691.9,408.2 692.2,409.0 693.1,411.4 693.5,412.3 694.7,412.5 694.7,414.5 694.2,416.2 693.7,417.0 693.2,418.2 693.2,419.8 692.4,420.9 691.5,421.8 689.1,422.0 689.1,422.2 686.9,422.6 686.0,422.7 685.1,424.0 683.2,424.0 681.8,424.7 681.6,425.2 680.1,425.5 678.1,427.3 676.8,427.8 676.2,427.6 674.3,427.8 674.5,427.5 672.3,426.8 671.1,426.8 669.8,425.7 669.9,424.8 669.1,424.2 668.2,421.9 667.2,420.4 667.0,419.2 666.4,417.3 666.6,416.8 664.9,415.5 664.9,414.0 663.5,412.3 662.6,410.7 661.1,412.0 660.4,411.7 658.6,411.8 658.4,410.7 657.0,410.5 655.6,409.6 655.1,408.0 654.6,407.1 652.9,405.1"/>
<polygon fill="#4fb2e8" stroke="#4fb2e8" points="658.4,389.9 657.6,387.8 658.4,387.3 659.2,385.6 659.2,384.5 659.9,383.3 661.1,382.7 662.4,380.8 663.3,380.8 663.8,378.3 664.3,377.5 664.9,377.2 665.4,377.1 667.2,375.9 668.6,376.2 669.1,375.6 671.6,375.8 671.8,375.3 673.8,374.1 675.2,374.8 676.0,373.9 678.1,373.9 679.3,375.2 681.1,373.6 682.0,374.8 682.6,375.0 684.8,376.4 685.7,377.4 685.7,378.9 687.1,380.1 686.2,380.8 688.0,383.0 687.4,384.5 689.3,386.1 689.1,386.9 690.1,388.4 691.1,389.0 690.7,390.7 691.7,392.3 691.5,392.8 690.9,395.0 690.4,395.0 689.5,396.1 687.0,395.8 685.6,397.2 685.2,397.7 684.4,399.7 682.8,399.9 681.9,399.3 680.3,398.4 679.7,396.5 678.8,395.7 678.6,395.6 676.8,394.3 675.8,396.6 675.0,396.7 673.5,398.1 673.3,399.1 673.1,399.8 672.0,401.0 671.3,402.1 670.9,402.6 668.4,402.7 668.1,401.8 666.3,401.4 664.3,400.9 664.1,399.8 661.9,399.6 660.8,398.2 659.7,396.8 659.2,396.1 657.4,395.6 657.2,394.7 657.0,393.1 656.4,392.4 658.2,390.3"/>
<polygon fill="#f7c6ce" stroke="#f7c6ce" points="579.5,417.8 581.6,416.4 582.4,415.7 583.3,414.4 584.9,414.8 586.4,414.7 587.8,414.8 589.4,415.4 591.2,414.5 592.8,415.3 593.9,415.3 596.0,414.8 596.3,415.1 598.3,415.1 599.5,413.9 600.4,415.0 602.3,414.1 603.1,413.1 604.3,414.5 606.4,415.1 607.8,416.0 609.6,415.0 609.9,416.1 611.4,416.4 612.9,416.6 613.6,417.5 615.5,417.9 615.7,418.5 616.5,419.7 615.6,421.3 615.8,422.1 616.6,424.2 615.2,424.4 613.8,426.4 612.8,426.5 612.0,427.9 611.1,429.6 610.1,430.3 609.2,432.4 607.7,432.1 607.5,434.1 607.1,434.6 606.1,435.8 604.8,436.1 604.0,437.9 603.3,438.4 601.9,439.1 599.6,440.8 598.7,441.0 596.8,440.4 596.2,440.4 594.1,440.1 592.8,439.3 591.7,438.1 589.7,437.8 589.5,437.6 588.0,435.8 586.4,435.6 586.9,434.8 585.5,433.1 585.2,433.0 584.4,431.5 584.2,429.7 584.0,428.6 584.1,427.3 583.0,426.6 583.0,424.8 583.1,423.2 582.7,423.2 582.5,421.4 581.3,419.9 580.3,418.1"/>
<polygon fill="#b7e0f6" stroke="#b7e0f6" points="561.5,384.6 562.7,382.3 564.8,381.8 566.4,381.0 566.6,381.3 567.2,379.9 569.7,380.4 570.5,379.2 571.9,379.1 572.4,380.6 573.8,382.1 574.1,382.7 575.9,383.9 576.3,384.1 578.0,384.9 579.4,384.9 579.6,385.5 581.7,385.2 581.9,386.9 584.0,387.1 585.1,387.2 586.5,386.9 586.7,387.0 588.6,388.5 589.9,388.7 590.8,389.6 593.3,389.2 594.0,389.8 595.3,390.9 595.0,392.5 596.0,393.2 595.4,395.5 596.1,396.4 596.0,397.1 596.4,399.3 596.9,400.6 597.6,401.6 598.9,403.7 598.8,404.4 600.0,404.9 600.6,407.1 600.9,408.6 602.0,409.2 601.8,410.4 601.8,412.3 602.8,412.9 600.4,414.0 600.0,413.8 598.5,415.1 596.4,415.2 596.0,414.5 594.2,415.5 592.7,415.2 591.5,415.0 591.0,414.6 588.8,415.5 588.2,414.6 586.4,414.7 584.9,414.5 584.9,414.6 582.6,415.5 582.3,415.9 581.0,415.9 578.2,416.7 577.5,417.1 575.5,418.2 575.5,417.0 573.3,416.8 571.2,415.9 570.1,416.0 568.7,415.0 567.8,415.2 566.7,413.8 564.2,412.8 562.1,413.3 562.0,413.6 560.1,411.8 561.1,410.1 559.5,409.2 560.1,409.1 558.7,406.7 559.0,405.3 558.1,405.4 558.4,403.4 557.7,401.7 557.7,400.4 556.6,398.5 557.9,397.8 559.1,397.0 560.0,394.5 560.8,393.6 561.5,393.1 562.2,391.0 562.5,390.8 563.2,388.4 562.9,387.9 562.4,386.5 563.3,384.6"/>
<polygon fill="#f4f4f4" stroke="#f4f4f4" points="552.4,421.8 552.6,420.3 552.9,418.6 553.6,417.5 554.4,415.7 556.8,414.4 557.5,413.7 559.4,412.5 559.8,412.9 562.1,413.7 562.2,412.9 564.2,412.9 566.2,413.8 567.0,414.6 568.5,415.1 569.5,415.6 570.7,415.7 572.5,416.8 573.8,416.6 575.7,417.3 576.6,418.2 578.0,416.8 579.5,417.8 580.9,419.1 581.1,420.3 582.5,421.4 582.7,423.2 583.1,423.2 583.0,424.8 583.0,426.6 584.1,427.3 584.0,428.6 584.2,429.7 584.4,431.5 585.2,433.0 585.5,433.1 584.2,434.5 581.7,434.7 580.4,436.5 580.3,437.0 579.0,438.1 577.0,437.9 576.3,438.7 575.1,438.7 574.7,441.0 574.9,441.3 574.6,443.3 573.9,443.9 572.1,443.1 571.4,441.8 571.3,440.7 569.3,439.9 567.8,438.6 568.0,437.1 565.6,437.4 564.7,439.7 563.6,439.9 562.2,441.1 560.7,442.5 559.9,442.5 558.6,443.5 557.8,443.8 556.6,444.7 554.7,444.8 554.1,444.8 552.0,445.5 551.1,445.8 550.3,444.0 549.8,444.4 549.0,442.7 549.0,441.1 548.6,440.2 548.5,438.6 547.5,437.3 547.8,435.8 547.7,434.2 547.0,433.7 548.0,432.0 548.6,430.6 548.8,428.8 549.6,426.6 550.1,425.4 551.1,424.5 552.0,423.1"/>
<polygon fill="#f4f4f4" stroke="#f4f4f4" points="615.7,418.5 617.5,417.5 618.7,418.4 620.2,417.7 621.6,417.4 623.2,415.7 624.5,416.9 625.8,417.0 627.1,418.4 628.3,419.5 627.4,421.4 628.9,422.6 627.9,424.0 628.8,425.2 627.9,427.4 629.0,428.7 628.8,430.5 628.7,431.6 630.1,432.1 628.8,434.0 629.5,434.6 628.9,436.7 628.9,438.1 628.7,439.7 627.8,440.3 627.9,442.6 627.7,442.7 626.5,445.3 626.6,445.3 627.2,447.4 626.2,448.1 625.1,449.4 625.5,450.4 625.5,451.5 625.2,453.0 624.2,454.6 625.3,455.2 624.6,457.0 625.1,459.0 623.8,459.3 622.8,460.2 621.8,461.8 620.2,460.9 620.0,461.3 618.3,460.0 617.3,459.7 615.2,458.2 613.8,459.1 613.3,459.1 611.8,459.2 610.1,460.2 608.7,458.9 607.1,459.2 605.8,458.7 604.5,459.1 603.8,457.5 603.4,455.2 602.4,455.2 602.7,454.3 602.6,451.8 602.4,451.5 602.6,449.6 601.5,448.4 602.3,448.1 601.7,446.0 601.2,444.7 600.2,444.2 600.2,442.8 599.1,441.4 600.4,441.3 601.9,439.1 603.3,438.4 604.0,437.9 604.8,436.1 606.1,435.8 607.1,434.6 607.5,434.1 607.7,432.1 609.2,432.4 610.1,430.3 611.1,429.6 612.0,427.9 612.8,426.5 613.8,426.4 615.2,424.4 616.6,424.2 615.8,422.1 615.6,421.3 616.5,419.7"/>
<polygon fill="#4fb2e8" stroke="#4fb2e8" points="629.2,419.6 630.6,420.4 631.2,420.3 632.8,419.6 633.5,420.5 635.3,421.2 636.9,422.5 636.0,424.4 637.4,425.5 636.7,426.2 638.9,426.9 640.3,428.5 640.9,428.2 642.3,429.9 643.2,430.1 644.8,431.1 646.5,432.0 646.5,432.0 647.1,433.8 646.7,436.0 647.2,436.8 646.9,438.0 645.7,439.6 647.9,441.0 648.5,441.4 649.7,442.3 651.2,443.6 652.2,443.9 653.3,445.3 654.9,445.9 653.4,446.8 652.3,447.5 651.7,448.2 651.3,449.8 650.8,450.9 649.4,452.2 648.0,453.7 647.6,454.3 647.1,456.6 647.1,457.3 648.8,457.7 649.1,459.5 649.7,461.4 651.4,462.5 650.9,462.5 650.7,462.4 649.5,464.4 649.1,464.9 648.1,466.2 646.8,465.1 645.3,464.9 643.8,463.5 642.0,462.8 640.5,462.5 639.6,462.0 638.4,461.6 636.2,460.3 636.2,460.2 634.3,459.4 634.4,458.6 633.7,457.7 633.2,455.6 631.8,455.1 631.1,457.1 630.2,456.9 629.6,459.1 629.3,461.5 626.4,460.0 625.9,459.5 625.4,459.0 624.5,457.0 625.2,455.5 624.7,453.9 625.5,453.4 625.4,450.9 625.2,449.3 626.0,447.7 627.3,447.3 626.6,445.2 626.5,445.2 627.7,442.8 627.5,443.1 628.2,440.7 628.8,440.1 628.7,438.0 628.9,436.6 629.7,435.1 629.1,435.0 629.4,432.5 629.4,432.1 628.6,430.8 629.0,428.5 628.2,427.4 629.0,425.0 627.7,424.4 628.3,422.7 629.0,421.7"/>
<polygon fill="#f4f4f4" stroke="#f4f4f4" points="493.0,322.1 493.7,320.0 495.6,319.0 497.2,319.3 497.6,318.8 499.6,318.1 500.8,317.7 501.9,316.7 503.1,317.0 504.6,316.0 505.9,316.5 507.6,317.0 507.4,316.5 509.5,317.1 510.1,317.4 511.6,318.5 513.0,319.2 514.3,319.6 515.9,319.7 518.0,321.4 518.2,323.2 519.2,324.0 519.7,325.6 519.4,326.8 520.6,328.2 520.2,329.8 521.1,331.2 520.4,332.0 521.3,333.3 521.9,334.8 522.6,335.4 523.2,336.5 526.1,337.2 524.7,337.0 524.2,339.5 524.5,339.4 524.4,341.9 523.7,343.5 522.8,343.5 521.3,344.9 520.3,345.6 519.9,347.0 519.2,347.7 518.3,349.3 518.0,350.2 517.7,351.7 516.7,353.0 515.2,354.1 514.2,355.7 513.8,356.4 513.7,358.0 512.9,357.4 511.6,355.5 510.9,354.2 511.0,353.4 509.3,352.6 508.9,351.3 507.4,349.8 506.3,348.9 504.8,348.7 503.0,348.5 501.6,347.1 501.1,348.3 498.6,347.7 498.4,346.9 496.5,346.9 494.7,346.3 493.8,346.3 491.7,345.5 491.0,344.4 490.0,344.2 487.9,343.0 487.9,342.9 485.8,341.8 487.5,340.2 488.1,339.7 489.1,337.7 490.0,336.7 490.1,335.2 489.5,334.8 490.4,332.9 490.9,332.6 490.9,330.5 491.9,330.0 490.9,328.1 491.5,327.2 493.0,325.8 493.2,324.9 493.0,323.1"/>
<polygon fill="#ea6a6d" stroke="#ea6a6d" points="761.2,512.1 763.4,512.8 764.0,515.2 764.6,516.1 764.4,516.3 764.6,518.7 764.0,519.5 764.2,521.1 764.2,522.1 763.8,524.7 763.7,525.5 764.9,527.3 763.9,528.4 765.4,529.7 764.6,531.8 765.7,532.3 765.3,534.0 766.1,535.1 765.1,537.0 766.6,538.6 765.9,539.2 765.5,541.1 766.1,542.4 766.2,544.2 764.7,544.7 764.8,546.9 765.5,547.0 764.4,549.3 763.5,549.3 763.6,551.7 762.6,551.7 761.4,554.0 762.0,554.0 762.1,556.4 760.9,556.4 760.4,558.7 760.5,558.7 758.5,558.6 758.1,557.6 756.7,556.0 757.3,555.3 755.8,553.4 756.6,552.5 755.0,551.1 756.0,550.5 754.2,548.4 754.8,547.8 753.5,547.0 752.4,546.2 751.6,543.8 750.4,542.8 750.4,542.5 748.4,541.5 747.1,540.0 746.4,539.6 745.0,539.0 743.8,539.4 742.5,538.4 740.8,538.6 740.7,536.3 741.9,535.5 740.2,534.4 741.2,533.1 742.5,532.0 742.8,530.8 743.1,529.9 744.9,530.0 746.7,528.9 747.2,528.5 748.1,527.5 749.2,526.8 751.0,526.8 751.8,526.1 752.3,525.5 753.8,524.3 755.3,525.1 758.0,525.0 759.3,525.6 759.6,525.6 760.9,524.7 759.1,522.6 760.2,522.0 759.7,519.7 760.3,518.6 760.4,516.6 759.7,516.4 760.2,514.4"/>
<polygon fill="#ea6a6d" stroke="#ea6a6d" points="739.7,539.0 741.6,539.0 742.3,539.9 743.9,540.6 744.4,541.2 746.0,540.5 747.6,541.8 747.9,542.6 749.3,543.3 750.8,544.9 751.3,546.1 752.7,546.6 752.7,547.5 754.0,548.5 754.8,550.5 754.5,551.2 755.6,552.1 755.5,553.7 756.5,554.4 756.9,556.0 758.2,557.2 757.9,558.8 760.4,558.4 760.4,559.2 761.1,560.5 760.4,561.9 760.7,564.1 760.7,564.8 759.5,566.7 759.1,566.8 758.8,569.2 758.1,568.9 757.0,570.9 756.3,572.5 756.3,573.8 756.4,575.4 756.0,576.0 753.4,575.1 752.6,574.6 752.0,573.3 750.0,573.1 749.7,572.1 748.3,571.0 747.1,570.8 746.3,569.3 745.0,567.9 745.2,565.7 745.1,564.7 743.5,562.2 744.5,560.8 744.8,559.4 744.3,559.0 742.6,557.3 741.6,555.4 740.8,554.4 741.2,554.2 741.3,552.1 741.7,552.0 742.4,549.9 740.6,548.8 740.8,547.6 739.8,547.1 739.3,545.4 738.5,544.4 739.1,543.5 739.4,541.5 740.0,541.2"/>
<polygon fill="#4fb2e8" stroke="#4fb2e8" points="225.6,484.2 227.9,483.6 228.4,484.7 229.9,484.5 231.3,485.9 231.7,485.9 233.9,487.2 233.9,487.1 236.4,488.3 236.3,488.1 238.8,489.1 238.9,488.8 240.8,489.9 241.4,489.8 242.7,491.0 243.8,491.0 244.4,492.4 245.9,492.4 246.3,493.8 248.0,493.7 248.4,494.9 250.0,494.8 250.8,495.8 252.2,495.6 253.4,496.6 254.5,496.4 255.7,498.0 255.5,498.7 257.5,499.2 259.0,501.2 259.0,502.5 260.3,502.7 260.7,503.8 262.1,505.2 263.1,505.5 264.0,506.1 265.6,507.1 265.2,507.9 266.4,509.2 268.1,510.3 268.7,510.9 270.0,512.6 270.2,514.0 271.5,514.0 272.3,514.9 273.0,516.5 275.3,516.7 275.2,517.1 275.9,518.4 276.5,519.1 278.0,520.5 279.2,521.3 279.4,521.8 281.1,523.8 281.1,524.6 282.2,524.8 282.6,525.9 284.4,526.0 284.9,527.3 286.2,527.3 287.4,528.5 287.8,529.7 288.3,529.7 289.0,531.8 289.7,533.7 289.8,534.5 290.1,535.7 290.3,536.9 291.2,538.4 291.6,540.4 292.4,541.0 291.8,542.0 293.1,544.3 292.7,545.3 292.5,547.4 292.3,547.6 291.7,549.5 291.3,549.9 290.7,551.5 289.7,552.2 289.0,553.6 288.7,554.4 287.8,555.7 286.8,556.6 287.0,557.8 287.1,558.8 285.9,560.2 284.6,561.1 283.6,562.5 283.1,563.0 283.1,564.7 282.5,565.2 281.8,567.0 281.2,567.4 280.3,569.3 279.6,569.6 279.1,571.6 278.3,571.8 277.7,573.8 277.8,574.1 277.7,575.9 276.6,576.3 276.1,578.0 276.2,578.6 275.1,580.1 273.6,580.9 273.5,582.2 273.4,583.2 272.2,584.2 271.5,585.4 272.3,586.8 272.2,588.0 270.6,589.5 269.4,590.7 269.7,591.5 270.3,593.5 269.6,593.5 268.1,596.2 267.5,596.5 267.8,598.5 267.9,599.7 267.2,600.7 266.5,602.2 266.1,603.4 266.6,604.4 266.1,606.3 265.2,606.6 264.9,608.7 264.1,609.3 263.1,610.7 262.4,612.1 261.9,612.6 260.9,614.8 259.5,614.5 258.8,617.0 258.6,616.6 258.3,618.8 257.3,619.0 256.3,620.5 256.0,620.5 253.9,621.4 252.2,621.2 250.8,621.5 250.0,620.4 248.4,620.6 248.0,619.4 246.0,619.2 245.8,618.4 244.2,617.1 243.3,616.7 242.8,616.2 240.3,616.6 239.3,616.7 237.8,617.3 235.4,617.9 235.1,618.2 233.8,618.3 232.6,617.4 231.6,617.3 229.9,616.2 229.2,616.4 227.8,618.6 227.0,618.4 226.9,619.8 226.1,620.5 225.0,622.1 224.2,621.9 223.2,622.9 221.4,623.7 220.9,623.5 218.2,623.6 216.3,622.2 216.0,621.5 214.4,621.4 213.0,621.2 211.9,621.4 210.7,618.7 211.6,617.3 209.7,615.5 210.4,615.0 211.7,613.4 212.9,612.9 213.4,611.4 213.7,610.8 214.5,609.5 215.7,608.6 216.4,606.7 216.1,606.2 215.7,603.8 216.7,603.1 218.3,601.4 218.6,599.6 217.9,599.2 217.9,596.7 219.4,596.8 220.1,594.6 219.3,593.6 219.6,592.1 220.3,591.3 220.8,588.9 220.1,588.9 220.4,586.5 221.9,585.7 221.0,584.2 220.9,583.1 222.1,581.3 222.8,581.2 222.8,578.6 223.0,578.5 223.5,576.4 223.9,575.2 224.5,574.0 224.1,572.8 224.1,570.9 225.4,570.6 224.1,568.3 224.3,567.1 224.4,565.5 223.5,564.5 224.0,563.5 222.5,561.6 221.9,561.0 221.3,559.6 220.9,559.0 220.1,557.7 219.2,557.1 219.5,554.7 217.7,554.3 218.3,553.7 216.9,552.5 216.7,550.1 216.0,550.3 215.4,549.3 215.7,546.5 215.4,545.8 214.8,545.0 214.9,543.3 214.9,542.4 214.2,540.6 214.4,539.5 214.5,538.2 213.6,536.9 214.2,536.6 213.9,534.1 213.1,532.7 214.0,532.6 212.9,530.5 213.2,529.6 213.0,528.5 212.7,526.4 212.9,525.7 212.2,524.5 212.7,523.7 213.1,521.8 211.8,520.6 213.2,519.6 212.7,517.2 211.9,517.4 213.3,515.1 213.9,514.5 213.0,513.0 213.7,511.8 214.5,510.5 214.4,509.6 215.1,507.6 216.3,507.2 216.9,505.4 216.9,504.7 217.3,503.3 218.3,502.3 219.2,501.3 219.7,500.1 220.4,499.3 221.4,498.1 222.2,497.3 222.4,496.1 222.7,495.2 224.1,493.5 224.8,493.0 223.8,490.5 224.2,490.2 225.0,488.3 225.6,487.1 225.5,484.9"/>
<polygon fill="#ea6a6d" stroke="#ea6a6d" points="538.4,531.9 540.0,530.0 541.3,529.6 543.5,528.5 544.8,528.6 545.3,527.6 546.5,527.3 547.6,525.8 548.6,524.6 549.4,524.5 551.5,523.5 553.2,523.4 554.1,522.2 554.9,522.5 556.1,520.7 557.0,520.9 558.9,519.8 560.0,520.1 560.8,519.6 562.9,519.0 563.2,519.8 566.0,518.7 566.3,518.8 568.5,517.3 569.5,517.6 571.6,518.8 572.7,517.3 574.5,518.9 574.5,520.1 574.6,521.6 574.8,522.5 574.4,523.8 575.2,524.4 574.6,526.6 575.0,528.0 575.3,528.5 575.4,531.0 575.1,532.0 577.2,533.2 576.8,535.4 574.9,533.9 574.0,534.2 572.2,533.9 570.8,533.9 570.0,534.2 568.3,534.8 567.1,534.6 566.6,536.1 564.1,536.1 564.1,536.7 562.3,536.8 560.4,538.2 558.2,537.0 557.3,536.1 556.0,535.2 554.0,536.0 553.2,535.1 551.9,535.1 550.3,535.0 548.2,536.2 546.4,537.2 545.6,536.7 545.8,534.7 544.1,533.4 542.6,533.1 541.1,533.7 539.3,531.9"/>
<polygon fill="#f7c6ce" stroke="#f7c6ce" points="181.5,132.9 181.9,133.6 183.9,134.0 184.9,133.5 186.1,133.3 187.2,134.9 188.1,135.2 190.0,135.7 189.9,136.8 192.3,137.0 191.9,138.0 192.7,140.7 192.6,142.0 191.9,142.9 191.3,143.7 190.2,145.3 189.0,145.3 188.4,147.2 187.9,148.7 187.4,149.6 186.9,151.8 185.9,152.1 184.8,153.5 183.6,155.5 182.3,155.5 181.3,157.7 180.4,157.3 179.5,157.9 178.9,158.0 177.2,159.3 175.8,159.3 175.7,160.3 174.9,160.8 173.2,162.6 171.4,162.5 170.0,163.6 169.0,165.0 168.1,165.6 166.7,167.2 164.9,167.3 164.4,169.1 163.9,170.8 163.7,171.3 164.0,173.7 164.5,175.0 166.2,176.3 166.2,177.4 166.6,179.5 169.0,179.9 169.7,181.2 170.8,181.7 172.5,182.0 174.2,182.8 175.6,182.5 177.3,184.1 179.3,185.0 181.1,185.1 182.0,185.7 182.9,186.5 185.0,186.7 187.4,187.5 188.3,189.1 189.5,189.7 189.9,190.7 189.7,192.8 188.3,193.7 189.4,194.8 189.5,196.6 187.9,198.1 188.5,199.2 188.6,200.4 188.1,202.7 187.9,203.5 187.6,205.1 187.7,206.5 187.6,209.3 187.5,209.7 186.6,211.2 186.5,212.7 186.3,214.6 186.0,216.7 186.6,217.0 186.4,218.3 185.9,219.9 185.1,220.5 184.4,222.2 185.4,222.8 185.3,225.3 184.1,224.3 182.4,223.6 180.1,223.9 180.3,223.9 177.7,223.3 177.8,223.9 178.6,222.2 179.1,220.9 179.4,219.5 178.4,217.8 176.7,216.7 175.5,216.4 174.9,215.4 173.9,213.8 172.8,213.2 171.9,212.9 170.6,211.7 169.6,211.6 168.5,210.4 167.1,210.1 166.5,209.3 164.8,207.8 163.8,206.7 163.6,206.3 162.2,205.0 160.5,202.8 159.8,201.8 158.8,201.5 157.7,200.2 157.1,198.7 155.5,198.2 153.9,197.8 153.6,196.5 152.9,195.0 151.2,193.9 150.5,192.4 149.3,191.8 149.6,190.4 147.7,190.0 147.9,189.2 147.4,186.8 146.5,186.2 145.8,185.4 145.3,184.8 144.6,183.1 142.8,182.3 143.3,180.9 142.2,179.9 142.7,178.0 142.3,177.3 142.0,175.9 141.9,173.6 141.9,172.4 142.0,171.0 142.1,170.2 142.7,168.3 143.5,167.0 143.8,166.0 143.6,163.2 144.5,163.5 145.6,161.0 145.8,161.3 145.7,159.1 146.6,158.8 147.9,157.2 148.4,156.5 148.6,155.2 149.9,154.1 151.5,153.4 153.0,152.4 154.1,151.5 155.0,150.0 155.8,149.0 156.8,147.8 157.9,146.9 158.5,146.7 159.8,145.8 161.7,145.1 162.8,143.5 163.0,143.5 164.0,142.5 165.5,142.7 166.4,141.4 167.8,141.0 168.6,139.7 168.6,139.4 170.3,138.6 171.9,138.1 172.4,137.4 173.7,136.9 176.3,135.5 177.8,135.5 178.0,134.1 179.7,134.1"/>
<polygon fill="#f4f4f4" stroke="#f4f4f4" points="181.8,129.6 182.9,128.2 184.4,128.1 185.6,127.1 187.8,128.1 188.3,127.4 190.8,127.9 191.5,126.7 193.3,126.6 195.2,125.8 195.7,125.6 198.7,125.3 198.9,124.9 201.3,125.0 202.2,124.4 204.2,125.2 205.2,124.5 207.2,125.3 208.8,124.8 209.0,126.0 211.5,125.4 211.7,125.4 214.4,125.1 215.3,124.5 216.6,124.1 219.0,123.0 219.2,123.3 221.9,123.6 221.9,123.5 224.3,123.6 224.9,123.1 226.6,123.7 227.9,124.1 229.9,123.0 230.3,122.9 232.8,121.9 234.5,121.6 234.8,120.8 237.1,120.4 238.5,119.7 239.0,118.2 239.3,117.8 240.5,116.8 242.2,116.7 243.5,114.6 244.3,113.8 245.4,112.3 246.7,111.2 248.0,108.9 248.5,109.3 250.9,109.2 251.7,108.9 253.1,108.6 255.1,107.6 255.3,107.8 257.0,109.4 258.8,109.8 258.9,110.2 260.1,111.7 258.9,113.9 260.3,115.2 260.1,117.5 259.7,118.1 259.2,119.9 258.5,121.9 258.4,122.7 259.2,123.4 260.4,125.7 260.3,127.0 261.4,127.9 262.3,130.3 262.4,132.1 263.5,132.4 264.5,134.1 264.4,136.0 266.1,136.2 266.3,137.8 266.4,139.9 266.4,140.7 265.4,142.0 265.4,143.8 265.6,144.6 264.7,146.0 264.7,147.7 264.5,148.7 263.9,150.1 263.6,152.6 263.7,153.0 263.3,155.3 262.4,156.3 261.8,157.7 261.7,158.7 260.9,159.4 259.4,160.9 258.6,161.4 258.4,162.9 258.0,163.7 258.1,165.6 258.7,167.7 259.4,168.0 259.2,169.6 259.9,170.7 259.7,172.3 261.3,174.7 260.4,175.3 261.2,176.9 261.8,178.0 261.9,179.2 262.4,181.7 262.2,182.3 263.1,183.7 263.3,185.3 262.7,186.1 264.0,188.2 263.3,188.9 262.4,191.2 263.8,192.5 262.5,191.2 262.2,190.6 260.3,189.9 258.4,188.4 258.1,187.9 256.5,187.3 254.8,186.0 253.4,184.8 252.7,184.0 251.5,183.5 250.6,182.5 250.0,181.0 248.2,180.5 246.9,179.7 246.4,178.5 244.8,177.7 244.3,176.5 243.8,174.8 241.8,174.2 241.2,173.9 239.3,173.2 237.7,173.7 236.7,172.7 235.4,172.7 234.1,173.0 232.3,172.8 231.3,172.7 230.0,173.0 228.2,172.9 227.1,174.1 225.3,174.0 224.0,175.1 221.8,175.0 221.2,176.2 218.9,176.4 217.5,177.1 217.0,175.6 216.5,175.5 215.0,173.4 215.7,172.0 214.5,170.9 213.7,168.5 213.5,167.2 211.8,166.1 212.6,164.7 211.0,164.0 211.8,162.0 210.7,159.8 209.5,158.9 209.8,156.6 208.5,155.6 207.4,154.9 206.4,154.8 203.9,155.2 202.9,154.0 201.4,153.8 200.0,155.3 198.5,154.5 197.1,154.6 196.0,154.7 195.1,154.5 193.6,154.9 192.9,155.4 190.6,155.1 190.0,154.2 188.0,155.2 186.7,155.3 185.3,156.5 183.3,156.7 184.3,155.4 184.8,153.0 186.0,151.9 186.9,151.8 187.4,149.6 187.9,148.7 188.4,147.2 189.0,145.3 190.2,145.3 191.3,143.7 191.9,142.9 192.6,142.0 192.7,140.7 191.9,138.0 192.3,137.0 189.9,136.8 190.0,135.7 188.1,135.2 187.2,134.9 186.2,133.1 184.1,133.9 182.4,133.9 181.4,132.8 181.7,132.2 180.4,130.4"/>
<polygon fill="#f4f4f4" stroke="#f4f4f4" points="189.5,189.7 192.1,189.2 193.6,189.7 195.5,188.3 196.7,188.4 198.4,188.8 199.4,188.4 201.3,188.3 202.1,187.2 203.8,187.6 205.1,186.6 206.6,187.1 207.9,185.9 209.3,186.1 210.9,184.7 212.1,184.9 213.6,185.2 215.0,184.9 216.7,185.6 219.0,186.4 220.5,187.7 221.5,187.1 223.8,187.6 224.2,187.8 226.3,187.2 226.9,186.6 227.7,184.8 228.8,184.5 229.7,182.0 227.6,181.4 228.5,180.4 227.2,179.7 225.1,179.0 224.3,178.8 221.9,178.9 220.8,179.5 219.8,180.1 219.4,178.6 218.4,177.6 217.5,177.1 218.9,176.4 221.2,176.2 221.8,175.0 224.0,175.1 225.3,174.0 227.1,174.1 228.2,172.9 230.0,173.0 231.3,172.7 232.3,172.8 234.1,173.0 235.4,172.7 236.7,172.7 237.7,173.7 239.3,173.2 241.2,173.9 241.8,174.2 243.8,174.8 244.3,176.5 244.8,177.7 246.4,178.5 246.9,179.7 248.2,180.5 250.0,181.0 250.6,182.5 251.5,183.5 252.7,184.0 253.4,184.8 254.8,186.0 256.5,187.3 258.1,187.9 258.4,188.4 260.3,189.9 262.2,190.6 262.5,191.2 263.8,192.5 263.8,192.5 265.5,192.7 264.8,194.4 265.4,195.8 265.9,197.3 266.6,199.7 266.2,200.2 267.0,201.2 266.8,202.8 268.0,204.3 266.8,206.5 268.4,206.6 268.1,207.6 268.2,210.0 268.8,211.1 267.5,212.4 267.1,212.9 266.9,214.7 266.0,214.6 264.8,216.9 264.1,216.7 265.2,219.4 264.6,220.3 265.2,221.2 265.5,222.4 265.9,223.6 266.0,226.2 265.9,226.8 267.4,227.4 266.0,229.8 264.9,231.4 265.5,232.0 266.1,234.3 264.8,234.9 263.7,236.4 262.7,236.7 262.7,238.6 261.6,238.7 260.0,240.0 259.2,239.7 258.0,241.2 256.6,241.3 254.7,242.8 253.6,243.2 253.2,241.7 252.0,240.2 252.0,240.3 251.5,239.1 249.9,237.7 250.0,235.9 248.7,235.6 248.0,234.4 246.7,233.4 247.0,233.0 245.4,230.8 245.0,229.7 243.4,229.8 242.9,230.2 241.8,229.6 239.6,229.0 238.8,229.0 237.5,228.8 236.7,229.2 234.5,228.3 234.1,227.5 232.1,228.6 231.2,228.4 228.9,228.5 228.2,229.0 226.4,229.1 224.8,230.1 224.2,229.6 222.3,230.3 220.9,229.3 219.9,229.6 218.1,228.2 217.2,228.1 214.9,228.4 214.2,227.9 211.6,228.3 211.5,228.6 209.2,229.2 208.2,230.2 207.1,230.2 205.8,229.4 204.2,229.4 202.4,228.5 201.1,227.4 199.8,227.0 197.8,225.5 196.2,224.6 195.6,224.3 193.9,223.2 192.6,222.8 192.0,222.0 190.2,221.0 189.7,220.7 188.2,219.5 187.1,219.5 186.4,218.4 184.4,218.0 186.2,216.3 186.3,214.5 186.5,212.7 186.6,211.2 187.5,209.7 187.6,209.3 187.7,206.5 187.6,205.1 187.9,203.5 188.1,202.7 188.6,200.4 188.5,199.2 187.9,198.1 189.5,196.6 189.4,194.8 188.3,193.7 189.7,192.8 189.9,190.7"/>
<polygon fill="#ea6a6d" stroke="#ea6a6d" points="164.1,171.3 164.0,169.7 164.0,168.7 165.1,167.1 166.2,167.3 168.3,165.6 169.1,164.7 170.0,163.6 171.0,162.8 172.7,162.8 173.6,161.6 174.2,160.8 175.4,159.7 176.3,159.8 178.3,158.1 180.1,157.7 180.8,156.9 182.4,157.8 183.3,156.7 185.3,156.5 186.7,155.3 188.0,155.2 190.0,154.2 190.6,155.1 192.9,155.4 193.6,154.9 195.1,154.5 196.0,154.7 197.1,154.6 198.5,154.5 200.0,155.3 201.4,153.8 202.9,154.0 203.9,155.2 206.4,154.8 207.4,154.9 208.5,155.6 209.8,156.6 209.5,158.9 210.7,159.8 211.8,162.0 211.0,164.0 212.6,164.7 211.8,166.1 213.5,167.2 213.7,168.5 214.5,170.9 215.2,171.9 215.2,172.8 216.1,174.6 216.6,175.5 217.7,177.1 217.4,177.6 216.6,179.2 215.3,180.2 214.1,181.0 215.4,180.9 216.8,179.6 218.3,179.9 219.2,179.2 219.8,180.1 220.8,179.5 221.9,178.9 224.3,178.8 225.1,179.0 227.2,179.7 228.5,180.4 227.6,181.4 229.7,182.0 228.8,184.5 227.7,184.8 226.9,186.6 226.3,187.2 224.2,187.8 223.8,187.6 221.5,187.1 220.5,187.7 219.0,186.4 216.7,185.6 215.0,184.9 213.6,185.2 212.1,184.9 210.9,184.7 209.3,186.1 207.9,185.9 206.6,187.1 205.1,186.6 203.8,187.6 202.1,187.2 201.3,188.3 199.4,188.4 198.4,188.8 196.7,188.4 195.5,188.3 193.6,189.7 192.1,189.2 189.7,188.9 188.5,189.2 187.4,187.5 185.0,186.7 182.9,186.5 182.0,185.7 181.1,185.1 179.3,185.0 177.3,184.1 175.6,182.5 174.2,182.8 172.5,182.0 170.8,181.7 169.7,181.2 169.0,179.9 166.6,179.5 166.5,178.0 166.3,176.3 164.6,174.9 164.9,174.4 163.3,172.8"/>
</g>
<g fill="none" stroke="#ffffff" stroke-width="1.4" stroke-linejoin="round">
<polygon points="534.4,175.8 536.0,174.6 536.5,174.4 537.9,173.1 539.5,172.9 540.5,171.7 541.6,171.5 542.9,170.5 544.2,170.4 545.6,169.9 546.2,169.7 548.4,169.7 548.8,168.2 548.8,168.2 550.1,170.7 550.0,172.3 550.9,172.8 551.9,174.9 552.0,176.5 553.1,176.7 554.3,178.4 555.3,179.9 555.7,181.9 556.9,183.0 558.3,183.5 559.0,184.4 561.3,183.4 561.9,184.2 564.0,184.6 565.4,184.3 567.1,184.7 567.7,184.4 568.5,185.7 570.7,186.9 572.0,187.7 573.8,188.6 574.2,189.5 573.5,191.8 574.8,192.3 574.4,193.1 575.5,195.3 574.7,195.9 575.8,197.3 576.5,199.3 576.8,199.9 578.4,202.1 577.9,203.5 576.3,205.5 575.7,206.1 576.2,208.9 576.2,209.1 576.2,210.4 577.3,211.7 574.9,211.4 574.0,211.2 572.2,211.4 570.8,210.6 569.6,210.3 567.9,209.1 566.9,210.3 565.1,209.0 562.5,208.4 561.2,207.8 560.4,207.8 558.2,207.4 557.4,205.9 556.7,204.3 555.3,204.8 554.8,204.7 552.5,203.7 551.2,203.7 550.4,203.2 548.6,203.6 547.8,203.3 545.3,202.0 544.6,201.0 544.2,200.6 541.8,200.4 541.2,200.6 539.5,199.9 537.9,199.2 537.1,199.3 535.1,198.3 534.4,199.4 532.6,198.6 533.5,197.1 533.1,196.0 533.3,193.1 533.3,191.9 532.7,189.8 534.1,189.0 533.8,187.2 533.3,185.8 533.7,184.2 534.4,183.8 533.1,181.2 534.3,180.7 533.9,179.1 534.0,178.3 533.9,176.0"/>
<polygon points="548.8,168.2 550.4,168.3 552.5,167.1 552.9,167.6 554.9,166.6 556.0,167.2 557.7,166.3 558.9,166.7 561.4,165.5 560.6,167.9 561.8,168.6 562.2,170.7 562.4,171.8 563.2,172.4 563.5,174.6 564.8,175.4 565.4,176.5 566.3,177.6 566.4,178.3 568.2,179.4 567.5,181.0 569.2,182.2 567.9,183.0 569.3,184.6 568.6,185.7 569.6,184.1 570.9,183.7 572.0,182.5 572.6,181.8 573.4,180.5 576.0,180.3 575.8,179.8 578.1,179.8 577.3,180.9 579.0,182.8 578.3,184.2 580.3,185.1 579.6,186.3 581.5,187.7 580.7,189.2 582.1,190.7 582.5,190.4 584.1,190.6 585.0,191.3 586.5,191.5 587.9,192.3 588.8,192.0 589.5,191.4 591.1,192.8 592.9,193.2 593.3,194.3 594.4,194.8 594.0,196.9 595.1,197.6 595.0,199.6 597.0,199.4 597.6,200.4 600.1,199.3 600.3,199.2 602.1,199.9 603.6,200.5 604.8,201.6 606.9,201.4 606.8,203.4 606.4,204.4 608.5,206.8 607.7,207.7 607.8,209.4 608.1,209.7 607.2,211.8 606.5,212.4 605.9,212.7 603.6,213.3 602.8,212.6 600.9,212.5 599.6,213.2 598.3,212.9 596.3,212.4 595.6,213.0 593.8,212.7 592.8,212.1 591.2,212.6 589.8,212.9 587.8,211.3 588.0,212.2 585.1,212.7 584.7,212.4 582.4,213.2 581.2,212.7 579.8,213.7 577.8,213.0 577.3,211.7 576.2,210.4 576.2,209.1 576.2,208.9 575.7,206.1 576.3,205.5 577.9,203.5 578.4,202.1 576.8,199.9 576.5,199.3 575.8,197.3 574.7,195.9 575.5,195.3 574.4,193.1 574.8,192.3 573.5,191.8 574.2,189.5 573.8,188.6 572.0,187.7 570.7,186.9 568.5,185.7 567.7,184.4 566.9,184.8 564.8,184.2 563.2,184.8 562.4,183.4 560.0,184.0 558.7,183.8 557.1,183.1 555.7,182.0 556.0,180.5 554.7,179.2 552.9,177.9 553.3,177.1 551.6,175.2 551.5,173.7 550.9,172.5 549.9,171.9 549.9,170.7"/>
<polygon points="577.8,213.0 579.8,213.7 581.2,212.7 582.4,213.2 584.7,212.4 585.1,212.7 588.0,212.2 587.8,211.3 589.8,212.9 591.2,212.6 592.8,212.1 593.8,212.7 595.6,213.0 596.3,212.4 598.3,212.9 599.6,213.2 600.9,212.5 602.8,212.6 603.6,213.3 605.9,212.7 606.5,212.4 607.8,213.6 609.3,215.2 609.2,217.0 611.0,217.7 609.5,218.4 609.6,220.5 610.2,223.0 609.5,224.2 609.2,225.5 608.9,227.0 608.2,229.0 607.0,230.6 607.1,231.4 607.4,233.2 605.8,235.8 606.1,237.0 605.5,238.0 604.9,239.7 604.2,240.9 603.4,242.6 601.7,242.6 599.7,243.9 599.7,243.3 597.0,244.2 596.7,244.4 594.9,245.2 594.6,245.5 594.5,247.7 593.9,247.8 592.6,249.9 593.0,250.9 592.9,253.3 591.7,254.2 592.4,256.0 592.8,258.0 591.4,258.4 590.1,260.1 590.1,261.2 590.7,262.9 587.6,264.3 587.4,263.4 586.4,261.3 584.2,260.1 583.9,258.6 584.1,258.4 582.0,257.3 582.0,255.7 581.2,253.8 579.2,253.0 579.5,252.4 578.0,251.2 577.0,249.0 577.2,248.3 577.1,246.7 576.2,245.7 577.9,244.5 577.4,242.3 577.0,242.0 577.8,239.9 577.9,238.7 577.1,236.7 577.9,236.4 577.5,233.9 577.8,232.8 577.4,231.1 577.6,230.5 577.9,228.2 577.3,227.0 577.4,226.6 577.4,224.9 576.7,223.8 577.3,221.7 576.5,221.1 576.6,219.1 577.8,218.0 576.9,217.7 577.7,215.4 578.0,215.4"/>
<polygon points="532.6,198.6 534.4,199.4 535.1,198.3 537.1,199.3 537.9,199.2 539.5,199.9 541.2,200.6 541.8,200.4 544.2,200.6 544.6,201.0 545.3,202.0 547.8,203.3 548.6,203.6 550.4,203.2 551.2,203.7 552.5,203.7 554.8,204.7 555.3,204.8 556.7,204.3 557.4,205.9 558.2,207.4 560.4,207.8 561.2,207.8 562.5,208.4 565.1,209.0 566.9,210.3 567.9,209.1 569.6,210.3 570.8,210.6 572.2,211.4 574.0,211.2 574.9,211.4 577.3,211.7 577.7,213.4 577.0,215.9 577.8,216.5 578.0,217.8 576.5,219.1 576.5,221.1 577.3,221.7 576.7,223.8 577.4,224.9 577.4,226.6 577.3,227.0 577.9,228.2 575.3,229.6 574.6,228.7 572.2,228.7 571.2,229.0 569.5,229.4 567.8,229.2 566.8,228.5 565.1,229.7 563.9,229.8 562.6,230.8 560.5,229.8 559.3,229.6 558.1,228.7 557.0,227.6 554.4,227.4 553.9,228.1 551.5,227.3 550.0,227.0 549.1,227.8 546.2,226.6 545.6,226.5 544.2,226.5 541.5,226.4 541.1,225.4 539.4,225.6 537.9,224.2 537.7,223.0 536.3,222.8 536.5,221.1 535.3,218.8 534.2,217.7 534.0,216.8 533.4,214.3 532.0,214.2 532.4,212.7 530.8,212.1 531.1,210.4 530.6,209.1 530.9,208.3 530.1,206.7 530.6,206.2 530.3,204.0 530.9,203.8 532.5,201.6 532.3,201.2 531.7,199.3 532.6,198.6"/>
<polygon points="539.4,225.6 541.1,225.4 541.5,226.4 544.2,226.5 545.6,226.5 546.2,226.6 549.1,227.8 550.0,227.0 551.5,227.3 553.9,228.1 554.4,227.4 557.0,227.6 558.1,228.7 559.3,229.6 560.5,229.8 562.6,230.8 563.9,229.8 565.1,229.7 566.8,228.5 567.8,229.2 569.5,229.4 571.2,229.0 572.2,228.7 574.6,228.7 575.3,229.6 577.9,228.2 577.6,230.5 577.4,231.1 577.8,232.8 577.5,233.9 577.9,236.4 577.1,236.7 577.9,238.7 577.8,239.9 577.0,242.0 577.4,242.3 577.9,244.5 576.2,245.7 577.1,246.7 577.2,248.3 577.7,249.4 577.4,251.8 577.3,252.3 576.6,253.9 574.7,253.8 573.6,253.8 572.3,253.6 570.4,254.1 569.6,254.6 567.3,254.5 566.6,253.6 564.8,254.3 562.5,253.1 561.8,252.3 560.2,252.8 557.9,253.0 557.3,251.7 555.5,251.8 553.3,252.1 552.6,251.0 550.5,251.0 548.9,250.5 548.5,251.1 547.2,250.9 545.4,249.4 544.1,250.6 543.1,250.6 541.5,249.9 541.0,249.3 539.5,250.8 538.8,248.2 538.1,247.7 537.6,247.1 537.7,244.9 537.3,243.3 537.6,243.3 537.9,241.1 537.4,241.0 537.7,239.3 538.0,237.8 538.5,237.0 537.2,235.1 538.6,233.6 538.1,232.1 538.2,231.5 538.2,229.1 538.4,228.2 539.1,227.0"/>
<polygon points="606.5,212.4 607.8,213.5 609.2,215.2 609.2,216.6 610.8,217.6 611.8,216.3 612.2,216.4 614.5,216.5 614.4,215.8 616.8,216.1 617.4,215.4 618.9,215.9 620.3,215.1 621.6,214.2 622.8,214.8 624.8,213.9 625.8,213.7 626.4,210.9 626.8,209.1 627.1,208.5 627.5,209.3 626.6,211.5 627.3,212.5 627.5,215.1 627.5,216.0 627.5,217.0 628.2,218.0 628.4,219.3 628.4,221.9 628.7,222.5 629.8,223.2 630.5,224.5 632.7,224.9 633.3,225.7 634.5,226.9 636.2,227.1 637.2,228.1 638.1,229.1 639.6,230.0 639.6,230.6 641.1,232.6 639.0,232.9 637.9,233.5 637.0,233.9 636.1,236.5 634.8,236.5 633.7,238.4 634.1,239.0 634.5,240.6 633.5,241.6 632.9,242.9 632.3,244.7 632.0,245.5 631.9,247.9 629.6,246.4 628.1,246.9 626.8,247.5 624.9,247.0 624.2,247.5 621.7,246.9 621.8,247.2 620.2,246.1 618.2,245.8 617.0,245.2 615.5,245.6 614.7,244.6 613.5,244.6 611.8,243.3 611.0,242.3 608.4,242.6 607.7,242.6 605.7,242.7 604.2,242.3 603.4,242.6 604.2,240.9 604.9,239.7 605.5,238.0 606.1,237.0 605.8,235.8 607.4,233.2 607.1,231.4 607.0,230.6 608.2,229.0 608.9,227.0 609.2,225.5 609.5,224.2 610.2,223.0 609.6,220.5 609.5,218.4 611.0,217.7 609.2,217.0 609.3,215.2 607.8,213.6"/>
<polygon points="490.6,236.7 490.5,235.4 491.0,234.2 490.0,233.0 491.5,231.5 491.3,230.2 490.7,228.9 493.2,229.4 493.9,228.4 494.6,228.6 496.6,227.3 497.4,227.0 498.5,226.3 499.5,225.9 501.1,226.0 501.9,224.9 502.5,224.8 504.8,223.2 505.2,223.5 506.0,222.5 508.3,222.7 508.8,221.7 510.0,221.1 511.6,220.4 512.8,219.7 513.9,219.2 516.8,218.8 517.5,217.7 518.8,218.0 520.9,216.6 521.6,216.9 522.0,215.7 523.7,215.8 525.0,214.4 525.9,214.2 526.9,213.4 527.6,212.7 529.6,212.5 529.7,211.7 530.8,212.1 532.3,212.6 532.5,214.4 533.4,215.7 534.2,217.3 534.4,217.9 535.5,218.7 535.2,221.2 537.0,221.6 536.3,222.4 538.1,223.8 538.0,225.9 539.0,226.9 538.2,228.0 538.2,229.3 538.4,231.3 538.0,232.0 538.4,233.5 537.5,235.4 538.4,236.7 538.0,237.8 537.3,239.3 537.5,240.9 535.8,241.2 535.7,240.7 533.9,241.1 532.8,240.9 531.2,239.8 531.0,240.6 528.4,240.8 527.1,241.2 525.4,241.4 524.4,241.4 522.0,241.9 521.0,243.0 520.4,243.5 519.2,244.9 517.6,245.8 516.3,247.4 516.1,245.7 515.0,245.1 514.8,244.3 513.2,242.0 512.3,243.1 510.9,242.2 509.2,241.7 508.4,240.6 506.1,240.7 505.3,239.6 504.4,239.7 502.4,238.8 502.0,239.5 499.2,238.5 498.8,239.2 496.9,239.2 496.0,239.9 495.8,240.1 493.3,239.6 492.4,238.9 491.5,237.7"/>
<polygon points="496.9,238.8 498.6,239.2 499.2,238.2 502.1,239.5 502.4,238.8 504.4,239.7 505.3,239.6 506.1,240.7 508.4,240.6 509.2,241.7 510.9,242.2 512.3,243.1 513.2,242.0 514.8,244.3 515.0,245.1 516.1,245.7 516.3,247.4 517.6,245.8 519.2,244.9 520.4,243.5 521.0,243.0 521.8,241.9 524.5,241.7 525.4,241.4 527.0,241.3 528.4,240.8 531.0,240.6 531.2,239.8 532.8,240.9 533.9,241.1 535.7,240.7 535.8,241.2 537.5,240.9 537.9,242.8 537.4,243.3 537.7,244.9 537.6,247.2 537.5,247.8 537.5,249.4 537.2,250.8 536.3,252.0 535.8,252.4 534.8,253.6 534.0,255.7 533.8,255.8 532.0,256.7 530.5,257.4 530.7,259.2 530.7,260.4 530.7,262.4 529.6,263.3 528.6,264.6 527.9,266.0 527.4,266.1 525.4,267.3 524.5,267.6 524.0,267.4 521.8,268.2 521.6,268.1 520.3,269.5 519.0,269.1 517.6,269.4 516.0,270.2 513.5,272.1 513.1,272.6 511.5,273.1 510.5,272.3 509.3,270.7 507.8,268.4 507.4,267.5 507.0,266.2 505.3,264.9 505.1,263.0 503.2,262.9 501.8,261.7 501.0,261.2 500.0,260.7 499.1,258.6 499.5,257.3 498.5,254.8 498.6,253.9 497.8,252.1 498.1,251.9 497.7,250.6 497.6,248.0 496.7,247.3 497.6,245.8 496.1,244.9 496.3,243.6 496.7,241.0"/>
<polygon points="454.8,244.7 455.0,244.7 456.9,244.1 457.8,243.4 459.3,244.1 461.0,243.5 461.1,243.6 462.8,244.0 464.7,244.6 465.5,244.0 467.6,244.4 468.5,245.7 470.2,245.2 471.0,246.0 472.3,245.4 474.9,246.2 475.2,246.0 477.4,246.2 477.9,245.8 479.2,246.1 480.7,245.6 482.3,246.1 483.8,244.9 486.1,245.2 487.4,243.9 487.8,244.2 490.3,243.1 491.1,243.5 491.6,242.4 493.7,241.8 495.8,240.1 495.1,241.0 496.3,243.6 496.1,244.8 497.6,246.0 497.1,247.9 497.1,248.7 498.4,250.7 497.8,251.4 498.6,253.9 499.0,255.3 498.6,256.5 499.4,257.5 499.0,258.6 500.6,260.2 499.3,261.4 498.4,260.9 496.6,262.2 495.6,261.9 493.3,263.1 492.7,262.9 489.7,264.0 488.6,263.7 487.3,264.5 485.9,264.4 484.6,265.2 483.1,264.5 481.9,265.6 480.3,265.9 479.1,266.8 477.6,267.0 476.2,266.5 474.9,267.1 473.0,266.5 471.9,266.8 470.5,267.3 469.1,266.5 468.4,266.5 467.4,267.9 465.4,268.3 463.7,269.9 463.0,270.5 461.5,269.5 460.6,269.6 458.8,268.5 457.6,268.1 455.7,267.9 453.6,268.4 454.6,265.8 455.7,265.0 456.8,263.4 457.8,261.9 458.3,260.6 458.4,258.9 458.9,256.8 459.1,256.7 459.1,254.4 458.3,253.0 458.6,253.4 457.3,251.1 457.0,249.3 456.4,248.6 455.7,246.8 455.0,245.6"/>
<polygon points="431.8,229.0 433.1,229.5 435.3,229.4 434.9,230.7 436.8,230.5 437.9,229.6 439.7,231.0 439.7,231.0 442.1,230.0 442.7,230.5 444.2,229.5 445.8,228.7 446.7,229.3 448.3,230.4 448.2,231.5 449.5,232.6 448.8,234.1 450.0,235.3 449.0,236.5 450.5,238.1 450.8,239.0 451.8,240.6 452.3,242.1 453.1,243.7 454.8,244.7 454.8,244.7 455.0,245.6 455.7,246.8 456.4,248.6 457.0,249.3 457.3,251.1 458.6,253.4 458.3,253.0 459.1,254.4 459.1,256.7 458.9,256.8 458.4,258.9 458.3,260.6 457.8,261.9 456.8,263.4 455.7,265.0 454.6,265.8 453.6,268.4 455.7,267.9 457.6,268.1 458.8,268.5 460.6,269.6 461.5,269.5 463.0,270.5 463.0,271.5 462.5,272.3 463.4,274.2 461.9,274.0 463.2,276.3 463.1,277.9 464.1,277.6 463.7,279.5 463.1,280.1 461.4,280.6 459.7,281.3 458.2,281.3 456.8,281.5 454.7,280.8 454.2,282.0 451.1,282.0 450.9,282.0 448.8,282.1 447.8,281.2 446.1,282.3 444.4,282.3 444.4,282.3 444.6,280.7 445.0,279.4 443.5,277.5 445.0,276.1 443.8,275.3 444.1,273.2 443.9,271.9 443.4,269.5 443.6,269.1 443.0,267.7 443.2,266.2 442.5,265.0 443.0,263.1 441.8,262.8 442.6,260.4 441.6,259.4 442.1,257.0 440.5,255.7 441.7,253.5 440.8,252.2 440.6,251.5 439.4,250.1 439.8,248.3 438.7,247.8 439.6,246.8 438.1,244.6 438.6,244.0 436.8,243.4 437.5,241.1 436.3,240.3 437.0,239.8 435.9,237.7 435.8,236.7 434.3,235.3 433.5,235.0 432.8,233.1 432.6,231.6 432.4,230.7"/>
<polygon points="463.0,270.5 463.7,269.9 465.4,268.3 467.4,267.9 468.4,266.5 469.1,266.5 470.5,267.3 471.9,266.8 473.0,266.5 474.9,267.1 476.2,266.5 477.6,267.0 479.1,266.8 480.3,265.9 481.9,265.6 483.1,264.5 484.6,265.2 485.9,264.4 487.3,264.5 488.6,263.7 489.7,264.0 492.7,262.9 493.3,263.1 495.6,261.9 496.6,262.2 498.4,260.9 499.3,261.4 501.2,262.2 502.2,261.8 503.1,262.9 505.1,263.0 505.2,264.8 507.0,266.4 507.1,267.5 507.5,268.1 509.6,268.9 509.1,270.7 510.6,272.6 511.5,273.1 511.4,274.9 511.7,275.9 511.2,277.6 512.7,278.9 512.2,280.9 513.1,282.5 512.7,282.8 513.6,284.2 512.5,286.0 511.6,286.6 511.3,287.6 511.0,289.0 510.3,289.2 509.3,291.8 508.2,291.8 506.8,291.5 504.7,291.4 503.0,290.4 501.9,289.2 500.7,288.9 499.4,288.1 497.4,286.4 496.8,284.9 495.7,284.0 494.0,283.6 494.1,282.4 491.9,283.1 491.1,282.5 488.9,283.5 486.9,282.9 486.0,283.7 485.1,283.4 483.6,283.5 482.0,284.9 481.6,282.5 481.1,280.7 479.6,281.6 477.4,282.2 475.7,282.5 474.4,282.7 472.3,281.8 471.3,282.8 469.4,282.9 467.9,282.7 467.9,282.1 465.4,280.7 465.3,280.5 463.7,279.5 464.1,277.6 463.1,277.9 463.2,276.3 461.9,274.0 463.4,274.2 462.5,272.3 463.0,271.5"/>
<polygon points="530.4,257.2 532.9,257.1 532.7,257.0 534.9,257.3 535.6,257.3 537.0,258.8 539.4,257.7 540.9,258.6 542.3,259.0 542.8,259.6 544.1,259.9 546.5,259.8 546.9,260.2 548.9,260.1 549.3,261.4 550.7,261.6 550.6,261.8 549.8,263.1 550.7,265.0 550.4,265.9 549.7,267.1 549.4,268.9 550.5,270.2 549.5,271.1 548.0,271.8 547.5,273.0 547.0,273.9 546.7,274.3 546.0,276.9 545.2,276.8 544.0,278.5 542.8,279.3 541.8,281.4 541.1,282.5 541.0,281.5 540.0,279.5 539.1,278.3 537.6,276.8 538.0,274.3 536.4,273.4 535.6,272.3 534.7,269.8 534.9,268.6 534.1,266.9 533.3,265.2 533.4,264.5 531.5,262.3 532.1,260.9 530.8,259.9 531.2,258.9"/>
<polygon points="536.3,252.1 538.0,250.7 539.6,250.7 540.5,249.4 542.7,250.3 543.9,250.8 545.6,249.4 546.4,250.4 548.2,251.3 548.4,250.5 550.6,250.8 551.2,251.0 553.0,251.2 553.4,252.2 555.4,251.9 556.0,251.3 558.0,252.6 558.5,252.8 559.5,253.6 560.7,254.2 561.8,255.4 562.8,255.7 562.7,257.1 562.3,258.9 561.7,261.3 560.9,261.8 559.5,262.5 557.8,261.7 556.5,261.8 555.1,261.8 553.3,262.0 552.0,262.4 550.7,261.7 548.6,260.8 546.9,260.2 546.5,259.8 544.1,259.9 542.8,259.6 542.3,259.0 540.9,258.6 539.4,257.7 537.0,258.8 535.6,257.3 534.9,257.3 532.7,257.0 532.9,257.1 530.4,257.2 532.0,256.7 533.8,255.8 534.0,255.8 534.8,253.5 535.8,252.4"/>
<polygon points="549.3,270.3 550.1,271.2 551.7,270.0 553.4,270.1 554.3,270.0 556.5,269.0 556.9,270.0 559.4,269.8 559.6,269.0 559.6,268.9 560.7,270.9 559.8,272.1 561.1,273.0 560.6,275.4 560.7,276.2 560.9,277.7 560.8,278.2 560.7,280.4 561.0,281.1 560.7,282.2 560.3,284.2 559.9,284.6 560.2,286.5 559.4,287.1 558.4,288.5 557.5,289.6 555.8,290.0 554.8,290.0 553.0,290.1 551.7,289.3 549.9,290.7 548.5,290.8 546.8,289.2 546.1,288.3 545.9,287.9 544.0,286.0 544.8,284.6 543.0,283.6 543.4,282.6 541.8,281.4 542.8,279.3 544.0,278.5 545.2,276.8 546.0,276.9 546.7,274.3 547.3,274.7 547.8,272.1 548.7,272.3"/>
<polygon points="594.9,245.3 596.5,244.2 596.7,244.4 599.7,243.3 600.3,243.6 602.7,242.4 604.1,242.7 605.6,242.1 606.4,242.9 608.2,242.6 608.4,242.4 611.3,242.6 612.0,243.2 613.5,244.6 614.6,244.6 615.4,245.5 616.8,245.2 617.8,245.8 619.8,245.7 620.4,246.9 622.2,246.9 623.3,247.3 625.1,247.0 626.7,247.6 628.1,246.9 629.7,246.6 630.9,247.3 631.9,248.2 632.5,249.1 632.9,250.7 632.4,252.2 633.0,253.4 632.2,254.3 632.1,256.2 632.5,257.3 631.8,258.1 631.8,260.3 631.7,261.1 632.0,262.5 630.8,263.8 631.7,265.7 631.4,266.0 630.5,268.5 630.6,268.5 629.8,270.9 629.0,271.1 629.8,273.1 629.5,273.8 628.1,275.4 627.6,276.3 627.6,277.4 624.9,276.5 624.8,276.7 622.6,277.5 621.6,277.4 620.4,278.3 618.4,277.8 617.4,277.3 617.0,275.9 614.3,275.5 613.1,274.6 612.2,275.3 610.3,274.9 609.8,273.9 607.4,274.0 606.9,273.4 605.5,274.0 604.2,273.4 602.9,274.8 601.6,274.7 600.5,276.0 599.3,277.1 598.6,278.3 597.5,278.6 595.7,279.1 595.4,279.4 593.3,278.4 593.2,278.3 590.7,278.0 590.8,277.1 589.9,275.2 588.6,274.4 588.8,273.1 587.9,271.1 588.5,270.6 588.8,268.7 587.9,266.6 588.9,266.2 590.0,263.5 591.0,263.6 591.6,261.5 591.6,260.4 591.7,258.4 592.4,258.0 591.9,255.6 592.4,255.7 592.3,253.1 593.2,252.2 593.0,250.8 593.0,249.6 593.7,247.8 594.4,245.3"/>
<polygon points="634.6,236.3 636.1,234.8 637.3,233.9 638.8,232.7 639.7,232.7 640.9,232.8 642.7,234.1 642.7,234.2 644.9,235.3 645.0,235.5 647.0,236.1 647.8,236.5 648.7,236.8 648.7,236.8 650.2,238.3 650.5,238.5 651.8,239.6 652.2,241.5 652.8,242.3 655.2,243.0 654.3,244.2 655.5,246.4 656.3,248.1 656.5,249.0 657.2,250.9 656.7,251.0 655.5,253.6 657.0,254.1 656.2,255.7 655.5,256.7 656.4,258.9 656.3,259.7 656.1,261.1 657.0,263.4 656.2,263.7 657.1,265.1 657.0,266.4 656.4,269.2 656.3,270.2 655.4,271.1 655.1,273.1 655.4,274.6 655.6,277.0 655.7,277.6 655.6,279.0 657.1,280.2 655.7,281.5 657.3,284.1 655.4,284.0 654.3,285.0 653.3,284.5 651.0,285.2 650.9,285.9 648.7,286.1 647.8,286.0 645.7,285.2 644.1,284.2 643.5,283.9 641.4,283.2 640.3,281.7 640.1,281.1 638.0,280.4 638.0,279.4 636.0,279.2 635.7,277.9 634.2,277.8 632.8,276.8 631.7,276.5 630.0,276.8 628.2,275.2 629.5,273.9 629.6,273.0 629.0,271.1 629.8,270.9 630.6,268.5 630.5,268.5 631.4,266.0 631.7,265.7 630.8,263.8 632.0,262.5 631.7,261.1 631.8,260.3 631.8,258.1 632.5,257.3 632.1,256.2 632.2,254.3 633.0,253.4 632.4,252.2 632.9,250.7 632.5,249.1 631.9,248.2 630.9,247.3 631.9,244.9 632.4,244.5 632.7,242.7 633.5,241.6 634.3,240.8 634.3,238.7 634.1,238.8"/>
<polygon points="648.7,236.8 650.1,238.3 650.7,238.2 652.9,237.1 654.0,237.1 654.3,236.3 656.4,238.0 657.8,238.6 657.6,239.6 658.9,241.3 659.9,241.6 660.1,242.8 660.4,244.8 660.4,246.2 660.1,248.1 661.5,247.9 660.3,249.7 661.5,251.5 661.5,252.7 661.3,254.4 662.0,254.9 662.2,256.7 663.4,258.6 662.9,259.5 663.9,259.7 665.2,260.9 665.9,261.0 667.3,262.3 668.2,262.4 669.2,263.6 670.7,264.0 671.1,264.4 673.2,265.8 673.8,266.2 675.0,267.3 676.8,268.5 676.8,268.8 678.9,270.1 679.1,270.5 680.1,270.9 681.7,272.1 681.5,272.3 683.8,273.3 686.3,275.0 687.8,276.1 688.7,276.7 689.9,277.1 691.9,276.4 693.7,278.0 695.2,277.9 695.2,278.7 695.0,281.3 694.4,282.1 694.4,283.6 692.7,283.2 691.9,284.8 689.7,284.5 689.3,284.0 686.6,284.4 685.6,284.5 683.8,285.9 682.1,285.1 681.3,285.5 678.9,284.8 678.4,286.0 675.6,286.4 674.8,286.5 672.3,286.3 671.1,285.9 669.3,287.2 667.7,286.4 666.3,286.1 664.4,286.8 662.9,285.7 661.6,285.0 660.0,284.4 658.7,284.9 657.3,284.1 655.7,281.5 657.1,280.2 655.6,279.0 655.7,277.6 655.6,277.0 655.4,274.6 655.1,273.1 655.4,271.1 656.3,270.2 656.4,269.2 657.0,266.4 657.1,265.1 656.2,263.7 657.0,263.4 656.1,261.1 656.3,259.7 656.4,258.9 655.5,256.7 656.2,255.7 657.0,254.1 655.5,253.6 656.7,251.0 657.2,250.9 656.5,249.0 656.3,248.1 655.5,246.4 654.3,244.2 655.2,243.0 652.8,242.3 652.2,241.5 651.8,239.6 650.5,238.5 650.2,238.3"/>
<polygon points="659.6,241.4 662.2,241.3 662.6,240.4 664.3,240.0 665.8,239.3 666.5,238.9 668.1,238.3 669.6,237.9 671.1,237.9 672.4,239.0 674.6,239.4 676.6,239.8 676.9,240.8 677.2,242.1 678.6,243.0 678.7,244.5 679.7,246.9 681.0,247.6 681.3,248.9 681.8,251.5 684.4,250.7 684.7,250.5 687.1,250.7 687.6,251.2 689.0,250.4 690.2,251.1 692.6,252.5 692.7,253.2 693.7,253.4 695.0,254.3 696.3,254.0 698.8,253.8 699.6,253.6 702.2,253.6 702.1,253.9 703.8,253.9 705.4,254.7 706.4,254.4 706.6,255.9 707.3,257.9 708.2,258.2 708.1,258.9 708.1,258.9 707.2,260.1 706.5,261.3 705.1,261.8 703.5,260.9 701.4,261.1 699.3,260.6 698.2,259.4 696.6,259.0 694.9,260.7 693.5,260.4 691.8,260.8 692.9,261.2 693.2,262.6 693.8,265.1 694.6,265.8 695.4,266.3 697.5,267.4 697.3,267.5 698.3,268.6 698.4,270.7 699.0,272.5 698.5,272.7 699.8,274.2 698.7,275.4 698.4,276.6 698.4,278.1 697.0,278.2 695.2,277.9 693.7,278.0 691.9,276.4 689.9,277.1 688.7,276.7 687.8,276.1 686.3,275.0 683.8,273.3 681.5,272.3 681.7,272.1 680.1,270.9 679.1,270.5 678.9,270.1 676.8,268.8 676.8,268.5 675.0,267.3 673.8,266.2 673.2,265.8 671.1,264.4 670.7,264.0 669.2,263.6 668.2,262.4 667.3,262.3 665.9,261.0 665.2,260.9 663.9,259.7 662.9,259.5 663.4,258.6 662.2,256.7 662.0,254.9 661.3,254.4 661.5,252.7 661.5,251.4 660.3,249.8 661.6,248.1 660.1,248.3 660.4,246.2 660.5,244.6 659.8,243.0"/>
<polygon points="691.8,260.8 693.5,260.4 694.9,260.7 696.6,259.0 698.2,259.4 699.3,260.6 701.4,261.1 703.5,260.9 705.1,261.8 706.5,261.3 707.2,260.1 708.1,258.9 710.1,259.2 711.5,260.1 712.2,259.0 714.4,259.3 713.9,259.0 716.2,258.3 717.3,258.5 718.6,259.7 719.0,259.4 721.2,259.6 722.2,259.8 723.6,260.9 724.6,260.9 725.5,262.2 724.5,263.7 724.1,264.9 724.0,266.8 723.5,268.7 722.8,268.9 722.3,270.6 721.3,271.3 719.9,272.4 719.5,273.7 719.5,274.3 718.5,277.0 717.7,278.1 717.0,278.9 716.3,281.7 715.4,283.1 714.3,284.1 713.1,285.5 712.2,288.4 711.6,289.1 711.2,290.0 710.7,293.0 709.9,294.1 708.8,295.4 707.6,296.9 707.0,296.2 706.6,294.7 704.8,294.6 704.9,293.2 702.9,292.8 700.9,292.2 700.2,290.6 698.8,291.0 697.1,289.4 696.6,288.0 695.4,287.6 695.1,286.7 694.4,284.5 694.4,283.6 694.5,281.4 695.4,281.2 695.7,279.5 696.8,278.7 698.4,278.1 698.4,276.6 698.7,275.4 699.8,274.2 698.5,272.7 699.0,272.5 698.4,270.7 698.3,268.6 697.3,267.5 697.5,267.4 695.4,266.3 694.6,265.8 693.8,265.1 693.2,262.6 692.9,261.2"/>
<polygon points="698.8,291.0 700.3,290.6 701.0,292.3 702.7,293.1 705.0,293.2 705.2,294.8 706.6,295.3 707.2,296.2 707.6,296.9 707.6,296.9 708.1,298.9 708.7,299.9 707.7,301.1 709.2,303.3 708.3,303.3 708.7,304.9 709.5,306.2 707.7,308.0 708.4,308.5 708.9,310.6 707.8,311.9 707.6,312.7 708.4,314.6 708.0,316.0 706.7,317.1 708.2,318.4 707.4,320.6 706.7,320.8 705.5,322.4 704.3,324.4 703.3,325.4 702.5,326.2 702.2,326.4 700.9,326.8 699.9,326.4 697.6,325.8 697.5,325.4 696.0,324.2 694.5,324.9 693.5,323.3 693.9,322.3 693.3,319.7 692.9,318.6 692.1,318.8 691.5,316.5 690.9,314.5 690.2,314.0 690.3,312.6 690.0,310.9 689.7,310.2 690.1,307.6 690.3,307.2 690.9,305.7 692.0,302.9 692.9,302.0 693.6,300.8 694.1,299.0 694.5,296.5 695.2,296.5 696.3,294.0 696.5,294.2 697.0,291.6"/>
<polygon points="647.0,287.3 647.5,287.1 649.2,285.2 651.1,286.1 651.1,285.2 653.3,284.6 654.2,284.7 655.3,284.0 657.3,284.1 658.7,284.9 660.0,284.4 661.6,285.0 662.9,285.7 664.4,286.8 666.3,286.1 667.7,286.4 669.3,287.2 671.1,285.9 672.3,286.3 674.8,286.5 675.6,286.4 678.4,286.0 678.9,284.8 681.3,285.5 682.1,285.1 683.8,285.9 685.6,284.5 686.6,284.4 689.3,284.0 689.7,284.5 691.9,284.8 692.7,283.2 694.4,283.6 694.4,284.5 695.1,286.7 695.4,287.6 697.4,288.7 696.3,290.7 697.0,291.6 696.5,294.2 696.3,294.0 695.2,296.5 694.5,296.5 694.1,299.0 693.6,300.8 692.9,302.0 692.0,302.9 690.9,305.7 690.3,307.2 690.1,307.6 689.7,310.2 688.2,309.7 686.7,311.1 686.5,311.2 684.4,309.6 682.6,308.5 682.2,308.1 680.8,307.0 680.3,307.1 679.0,306.3 677.1,306.6 676.4,306.2 674.7,306.1 674.0,305.3 671.6,304.4 670.0,305.4 669.6,304.3 667.9,304.1 666.4,303.3 664.9,304.3 663.1,303.8 661.7,305.0 660.2,304.6 657.9,305.3 656.9,305.1 655.7,304.1 654.7,303.7 654.9,301.2 653.3,300.0 653.0,299.0 653.3,296.6 651.9,295.6 652.4,293.7 650.6,292.9 650.7,291.5 650.2,290.7 648.4,289.0 647.9,288.7"/>
<polygon points="630.4,276.3 632.0,277.1 633.0,276.8 634.2,277.8 635.7,277.9 636.0,279.2 638.0,279.4 638.0,280.4 640.1,281.1 640.3,281.7 641.4,283.2 643.5,283.9 644.1,284.2 645.7,285.2 647.1,287.2 647.7,288.5 648.4,289.0 650.2,290.7 650.7,291.5 650.6,292.9 652.4,293.7 651.9,295.6 653.3,296.6 653.0,299.0 653.3,300.0 654.9,301.2 654.7,303.7 655.7,304.1 656.9,305.1 656.3,307.1 655.7,307.0 655.2,309.3 654.4,309.0 652.4,310.4 651.2,310.4 651.1,312.1 649.7,312.5 649.1,315.0 649.5,315.5 646.5,316.9 645.9,318.6 645.5,318.3 644.8,319.6 642.5,318.8 640.2,317.5 638.7,318.0 638.0,317.7 636.1,316.8 635.2,316.4 633.9,315.4 633.1,315.0 632.3,311.9 631.7,311.1 631.0,310.7 631.1,308.8 629.6,308.1 630.1,306.4 628.5,305.9 628.7,304.4 627.4,303.2 627.1,302.2 626.0,300.7 627.4,298.6 627.7,297.0 627.7,296.0 628.4,293.8 627.2,292.6 627.5,290.0 626.5,289.0 626.6,286.8 626.3,286.5 625.7,285.8 624.9,283.5 624.6,282.5 625.5,282.1 626.5,279.9 627.1,278.9 627.3,277.5 628.9,276.5 630.5,276.5"/>
<polygon points="642.8,318.7 643.1,318.8 645.7,317.8 646.8,317.5 647.8,316.5 649.7,314.9 650.0,314.6 650.5,312.5 651.2,311.7 652.0,310.1 654.1,309.1 655.6,309.2 656.2,307.3 656.9,306.4 658.0,305.2 658.9,305.3 660.6,304.7 661.6,305.1 662.6,304.2 664.7,304.2 664.8,303.2 667.5,304.1 669.6,304.3 669.6,304.8 672.0,304.3 673.0,304.7 674.5,305.8 676.0,305.5 676.7,306.6 679.2,306.3 679.8,307.1 680.8,307.0 682.3,308.2 682.8,308.5 684.6,309.9 685.0,310.2 686.9,311.3 685.7,313.2 684.5,313.2 684.2,315.7 685.9,316.6 684.5,317.1 685.8,319.1 685.4,319.7 685.0,321.3 686.2,322.9 683.6,322.4 682.8,323.0 681.4,322.4 680.1,322.3 679.6,323.4 678.0,323.5 676.5,324.9 676.4,324.3 673.8,324.8 673.7,325.5 672.8,326.2 671.4,327.4 670.4,328.4 669.0,328.3 667.7,329.6 666.6,329.5 665.5,331.0 663.6,331.1 663.2,331.6 661.9,331.9 659.7,332.6 659.3,333.4 658.5,334.2 655.9,334.8 655.9,334.8 653.7,335.4 651.8,334.4 650.8,333.1 648.7,332.6 648.7,332.5 647.9,331.1 648.2,328.9 646.7,328.6 647.1,327.8 645.8,325.1 646.5,324.2 645.8,324.2 645.4,321.8 644.9,320.1 644.5,319.3"/>
<polygon points="686.9,311.3 687.7,312.4 688.5,312.6 690.3,314.0 690.3,314.1 690.9,314.5 691.4,316.5 692.1,318.8 692.8,318.5 693.5,319.7 693.5,322.4 694.0,322.6 695.7,324.4 693.1,325.2 692.8,323.9 691.2,324.2 689.0,323.3 687.9,323.6 686.3,323.1 686.2,322.9 685.0,321.3 685.4,319.7 685.8,319.1 684.5,317.1 685.9,316.6 684.2,315.7 684.5,313.2 685.7,313.2"/>
<polygon points="590.7,278.0 593.2,278.3 593.3,278.4 595.4,279.4 595.7,279.1 597.5,278.6 598.6,278.3 599.3,277.1 600.5,276.0 601.6,274.7 602.9,274.8 604.2,273.4 605.5,274.0 606.9,273.4 607.4,274.0 609.8,273.9 610.3,274.9 612.2,275.3 613.1,274.6 614.3,275.5 617.0,275.9 617.4,277.3 618.4,277.8 620.4,278.3 621.6,277.4 622.6,277.5 624.8,276.7 624.9,276.5 627.6,277.4 627.6,276.3 627.5,277.7 626.7,278.6 626.4,280.1 625.5,281.2 624.6,282.5 624.9,283.5 625.7,285.8 626.3,286.5 626.6,286.8 626.5,289.0 627.5,290.0 627.2,292.6 628.4,293.8 627.7,296.0 627.7,297.0 627.4,298.6 626.0,300.7 625.0,300.5 624.9,302.5 624.2,302.9 622.2,304.2 621.6,303.9 620.4,304.0 619.2,305.1 617.3,304.9 617.1,305.6 614.7,305.3 613.8,306.0 612.8,306.6 610.6,306.1 610.9,306.0 608.6,304.8 608.4,305.7 606.9,305.1 605.7,304.3 603.6,304.3 602.4,304.0 602.3,304.5 599.9,303.5 598.8,302.5 597.9,301.7 597.4,301.8 596.3,300.3 594.1,298.9 594.3,298.2 593.9,296.6 591.8,295.6 591.1,294.1 590.5,293.1 589.2,290.9 588.0,289.0 587.5,288.4 587.2,286.6 586.9,285.2 586.7,285.0 586.7,282.5 586.0,281.2 587.5,279.8 589.5,280.1 590.5,278.5"/>
<polygon points="347.9,280.4 348.9,279.8 349.8,278.8 351.9,278.4 353.6,277.0 354.9,276.7 357.3,276.4 357.8,275.5 359.5,275.3 360.7,275.8 361.6,274.5 362.9,274.4 364.3,274.1 364.9,273.5 367.2,273.7 367.4,273.4 370.1,273.8 370.7,273.9 372.1,273.4 372.6,274.2 374.8,273.9 375.3,273.8 377.8,273.1 378.1,274.4 379.3,274.2 380.3,275.1 382.1,275.4 381.9,276.7 382.8,278.9 382.2,279.9 383.6,282.0 382.3,282.8 383.1,284.4 382.3,286.0 383.3,287.7 383.1,288.9 382.8,289.6 383.6,292.4 383.1,293.3 381.7,294.6 381.0,296.0 380.5,296.4 379.7,297.8 381.1,299.7 380.8,300.7 381.9,302.6 382.4,303.3 382.7,304.5 383.9,305.1 384.6,306.7 385.0,308.3 386.6,309.4 386.4,311.7 385.4,311.9 384.4,312.3 382.3,312.9 381.8,312.6 379.8,311.8 378.5,313.0 377.4,311.7 376.1,311.5 374.8,311.5 372.7,311.0 372.4,310.6 370.2,309.8 370.1,309.4 368.5,308.3 367.5,307.7 366.6,307.4 365.0,306.3 364.2,307.8 363.3,308.6 362.2,310.6 361.0,312.1 361.9,310.6 360.3,309.2 360.2,308.0 359.6,306.1 358.7,304.4 358.1,303.4 356.1,303.4 355.4,302.3 354.9,302.1 352.4,301.0 350.9,302.0 349.6,300.9 351.1,300.9 352.6,300.7 355.0,301.0 355.7,299.8 358.0,300.1 359.1,299.2 360.2,299.9 362.4,299.5 362.4,297.8 361.8,294.9 361.4,294.8 359.9,293.8 358.9,293.5 357.5,293.8 356.1,294.0 355.5,292.4 353.2,292.9 353.8,291.7 354.0,290.7 356.8,291.3 356.9,292.0 359.8,290.4 359.9,290.8 362.6,291.0 362.9,290.8 364.5,291.0 363.5,289.8 361.9,288.8 360.7,288.5 359.0,287.1 357.0,288.2 356.1,287.6 353.9,287.0 352.6,287.5 351.7,287.6 349.9,286.2 349.7,286.8 347.2,286.9 347.6,285.0 347.2,284.2 348.1,281.9"/>
<polygon points="382.6,271.1 383.0,270.9 385.0,269.7 387.0,269.7 387.7,268.5 390.2,268.9 391.1,267.9 392.7,268.4 394.0,267.3 394.9,267.6 396.1,268.2 396.9,269.3 396.7,271.4 398.3,271.7 398.2,273.3 399.0,273.8 399.2,274.0 401.5,275.4 402.2,276.9 402.8,277.2 404.8,278.3 404.4,279.5 405.6,280.3 407.2,281.8 409.1,280.7 409.3,280.8 410.4,279.3 412.7,279.3 413.2,277.7 413.9,277.7 416.0,276.2 417.0,276.4 417.9,276.5 419.2,276.2 420.1,276.9 422.1,275.8 422.7,276.5 425.4,276.8 425.5,276.3 427.4,275.7 428.1,275.6 429.0,275.3 430.3,277.3 428.7,279.1 429.4,280.7 429.3,282.5 429.0,283.0 429.9,285.1 428.7,286.3 428.0,289.1 427.8,289.6 428.1,291.2 427.7,292.1 426.4,293.1 425.1,294.0 424.3,294.5 422.8,296.3 421.2,296.6 421.0,297.6 419.6,297.6 417.3,298.5 416.5,297.8 415.4,296.9 412.8,296.5 411.6,296.6 409.9,296.7 408.6,297.8 406.9,297.6 405.5,298.5 404.0,297.8 402.0,296.3 400.3,296.3 399.2,295.5 397.4,296.4 397.6,295.9 395.0,296.6 394.4,296.7 392.8,296.1 391.7,295.7 390.8,295.7 389.4,295.9 387.6,295.8 386.1,297.2 384.6,295.9 383.7,295.7 381.1,296.1 382.3,294.3 383.1,293.7 382.9,291.6 383.3,291.4 382.9,289.5 383.4,288.5 382.3,286.1 383.6,285.5 382.6,283.2 383.2,282.3 382.3,279.9 382.8,279.0 382.5,277.9 381.8,276.9 381.5,275.5 381.3,273.0 382.1,272.7"/>
<polygon points="379.7,297.7 380.0,296.6 382.3,297.0 383.6,295.7 384.6,296.0 386.2,296.8 387.6,295.8 389.4,295.9 390.8,295.7 391.7,295.7 392.8,296.1 394.4,296.7 395.0,296.6 397.6,295.9 397.4,296.4 399.2,295.5 400.3,296.3 402.0,296.3 404.0,297.8 405.5,298.5 406.9,297.6 408.6,297.8 409.9,296.7 411.6,296.6 412.8,296.5 415.4,296.9 416.5,297.8 417.3,298.5 419.6,297.6 421.0,297.6 421.2,296.6 422.2,298.6 422.0,298.9 421.3,301.0 422.2,302.6 422.0,304.5 423.2,305.8 424.4,306.1 424.2,306.9 425.0,309.4 424.6,309.9 424.3,311.3 425.0,312.6 425.6,314.9 424.9,316.1 424.7,318.0 424.6,318.3 423.7,321.0 422.5,321.0 421.7,323.6 421.4,323.6 420.0,324.6 418.9,325.1 417.5,326.0 416.5,325.5 414.6,324.0 413.7,323.6 412.7,322.5 411.3,323.0 410.4,322.8 408.2,322.6 407.6,320.9 405.4,321.0 405.3,320.5 404.2,320.7 402.3,320.9 400.8,320.0 399.9,320.1 397.9,320.8 397.7,320.6 395.7,319.9 394.0,319.6 394.0,318.3 391.7,317.9 391.2,317.5 390.3,316.2 389.1,316.0 389.1,314.5 386.7,313.5 386.5,312.9 385.1,311.6 386.0,311.7 385.8,309.6 385.2,308.6 384.4,306.3 383.8,305.0 383.1,304.0 382.8,303.2 380.9,302.1 381.0,300.3 379.9,298.6"/>
<polygon points="429.0,275.3 428.8,276.4 431.4,276.4 431.8,275.7 432.7,277.1 434.0,277.7 435.5,278.0 436.7,277.9 438.1,277.8 439.2,278.9 439.7,279.1 441.6,280.3 441.8,280.7 443.6,281.6 444.4,282.2 446.8,281.9 448.5,281.7 451.1,282.1 451.5,281.9 454.1,282.1 453.3,283.2 454.8,285.1 454.0,286.3 454.2,286.8 454.9,288.8 453.6,289.6 454.4,291.3 454.9,292.3 453.9,294.7 455.3,295.6 454.6,296.1 454.9,298.2 454.3,300.0 453.9,301.2 454.4,302.6 454.2,303.8 452.9,306.6 452.3,308.1 452.5,308.3 451.9,310.9 450.9,312.8 448.3,312.3 447.7,311.5 447.1,313.1 445.2,312.7 444.5,312.7 442.0,313.3 440.3,313.4 438.7,313.9 437.7,313.9 435.8,314.6 434.9,314.3 433.3,315.8 432.0,315.8 430.9,315.4 429.6,316.4 428.8,316.1 428.2,316.2 426.0,316.6 426.2,315.4 424.8,314.1 424.3,313.3 425.0,310.9 424.9,309.6 424.2,306.9 424.4,306.1 423.2,305.8 422.0,304.5 422.2,302.6 421.3,301.0 422.0,298.9 422.2,298.6 421.2,296.6 422.8,296.3 424.3,294.5 425.1,294.0 426.4,293.1 427.7,292.1 428.1,291.2 427.8,289.6 428.0,289.1 428.7,286.3 429.9,285.1 429.0,283.0 429.3,282.5 429.5,280.1 429.5,279.6 428.8,278.5 430.0,277.2"/>
<polygon points="455.6,281.2 456.7,281.8 458.3,281.3 459.6,281.2 460.7,280.8 463.0,280.8 463.1,280.8 465.3,281.8 465.4,280.6 467.7,282.1 467.8,282.6 469.6,282.6 470.5,282.8 472.2,282.9 472.6,281.6 474.5,282.6 475.5,282.6 476.6,281.6 478.5,282.3 479.3,281.5 481.0,280.7 481.3,282.6 482.5,283.7 481.9,284.7 482.4,286.0 482.3,288.0 482.1,288.7 480.9,290.2 479.7,291.6 480.2,292.4 480.7,294.1 479.4,294.6 478.6,296.6 478.3,297.8 478.9,299.9 478.4,300.8 477.2,302.8 476.9,305.1 477.1,305.5 476.3,307.3 475.5,309.6 474.6,309.9 474.0,312.6 473.1,311.7 471.4,312.2 470.1,312.4 468.8,312.4 467.3,312.8 465.9,312.4 464.3,313.8 462.9,312.7 461.2,312.6 459.4,313.4 458.3,312.3 456.3,312.6 454.9,313.0 453.6,312.1 451.9,310.9 452.5,308.3 452.3,308.1 452.9,306.6 454.2,303.8 454.4,302.6 453.9,301.2 454.3,300.0 454.9,298.2 454.6,296.1 455.3,295.6 453.9,294.7 454.9,292.3 454.4,291.3 453.6,289.6 454.9,288.8 454.2,286.7 454.0,286.2 454.9,285.0 455.5,283.0"/>
<polygon points="482.5,284.1 484.1,283.6 485.6,284.0 486.4,282.7 488.7,283.3 488.9,283.6 491.8,282.5 491.9,283.0 494.0,282.4 494.0,283.6 495.4,283.8 496.0,284.8 497.2,285.7 497.7,286.5 499.5,288.1 500.1,288.4 501.3,289.4 503.0,290.0 503.3,290.3 504.9,291.3 506.0,291.2 506.4,292.2 508.6,291.8 508.9,292.9 510.7,294.4 510.8,296.4 511.2,296.8 511.8,298.4 511.7,300.1 511.6,302.0 511.6,302.7 511.0,305.0 509.7,306.1 509.2,307.2 509.5,308.3 509.2,309.9 509.0,310.6 508.4,312.3 507.7,312.9 506.6,314.5 505.6,316.2 504.5,315.7 503.8,316.4 501.4,317.2 500.9,317.6 499.6,318.4 497.5,318.7 497.0,319.4 495.1,319.0 493.5,319.4 492.2,318.8 490.3,318.8 488.8,319.2 487.4,318.6 485.3,317.2 483.5,318.1 482.1,317.0 480.4,316.6 479.0,316.0 477.7,314.6 476.2,313.6 474.7,312.7 474.0,312.6 474.6,309.9 475.5,309.6 476.3,307.3 477.1,305.5 476.9,305.1 477.2,302.8 478.4,300.8 478.9,299.9 478.3,297.8 478.6,296.6 479.4,294.6 480.7,294.1 480.2,292.4 479.7,291.6 481.0,290.2 481.8,289.2 481.8,287.9 482.7,286.8 483.1,285.7"/>
<polygon points="426.0,316.6 428.6,316.1 429.5,316.3 430.9,315.4 432.0,315.8 433.3,315.8 434.9,314.3 435.8,314.6 437.7,313.9 438.7,313.9 440.3,313.4 442.0,313.3 444.5,312.7 445.2,312.7 447.1,313.1 447.7,311.5 448.3,312.3 450.9,312.8 449.7,312.9 450.1,315.4 450.8,316.3 449.5,316.6 451.3,318.7 451.4,320.0 452.3,321.8 452.8,323.8 455.0,325.4 456.4,326.1 456.5,327.3 457.9,328.4 456.8,329.6 455.9,332.3 455.2,332.1 454.2,333.1 451.7,332.8 451.2,333.8 450.1,333.6 447.7,334.7 449.7,336.8 449.4,337.1 450.7,338.3 450.9,340.2 450.4,341.4 450.6,343.1 451.0,344.8 448.6,345.2 448.2,346.1 447.4,346.3 445.5,347.4 443.8,347.8 442.7,350.0 441.2,350.8 440.3,350.8 439.3,349.6 437.8,349.4 437.5,348.2 435.8,348.0 433.6,348.3 433.2,346.7 431.7,345.5 430.3,344.5 430.2,343.4 428.1,343.0 427.9,342.5 426.8,341.1 425.4,340.7 425.5,339.5 423.8,338.7 424.1,336.9 422.8,336.0 423.1,335.2 421.3,334.8 420.6,333.2 418.6,333.7 418.1,333.1 416.7,333.1 414.3,332.4 415.0,331.9 413.4,329.4 415.2,329.7 416.5,327.8 417.4,327.4 418.2,325.7 419.6,324.0 420.8,323.9 422.2,322.8 423.1,322.3 423.3,320.5 423.1,320.1 424.5,318.3 425.4,317.8"/>
<polygon points="450.9,312.8 451.3,312.5 453.6,312.2 454.9,313.0 456.3,312.6 458.2,312.4 459.6,313.3 461.1,312.6 462.9,312.8 464.3,313.8 465.9,312.4 467.3,312.8 468.8,312.4 470.1,312.4 471.4,312.2 473.1,311.7 474.0,312.6 474.7,312.7 476.2,313.6 477.7,314.6 479.0,316.0 480.4,316.6 482.1,317.0 483.5,318.1 485.3,317.2 487.4,318.6 488.8,319.2 490.4,318.8 492.1,318.8 493.6,319.4 495.1,318.9 493.6,320.1 493.6,321.1 493.6,322.6 493.4,324.7 492.6,325.5 491.6,326.8 491.6,328.4 491.7,329.7 491.0,330.5 490.5,332.9 490.3,332.8 490.0,335.2 489.8,335.7 489.7,337.4 489.0,338.2 488.0,339.7 486.8,340.5 485.8,341.8 485.0,342.9 484.8,343.8 483.7,344.9 481.3,344.0 479.9,344.3 478.2,345.2 477.3,345.0 475.1,345.8 474.4,345.5 472.3,344.9 471.1,345.7 469.5,345.7 468.3,346.1 466.3,345.6 465.1,345.2 464.9,344.6 462.7,344.7 461.5,345.5 460.8,345.8 459.7,346.7 457.7,345.8 455.9,347.0 456.1,346.0 454.1,345.8 453.2,344.4 451.9,344.4 451.7,343.8 450.4,341.4 451.1,340.4 450.7,339.7 450.4,337.9 449.2,336.4 449.6,336.8 447.7,334.7 450.1,333.6 451.2,333.8 451.7,332.8 454.2,333.1 455.2,332.1 455.9,332.3 456.8,329.6 457.9,328.4 456.5,327.3 456.4,326.1 455.0,325.4 452.8,323.8 452.3,321.8 451.4,320.0 451.3,318.7 449.5,316.6 450.8,316.3 450.1,315.4 449.7,312.9"/>
<polygon points="511.5,273.1 513.1,272.6 513.5,272.1 516.0,270.2 517.6,269.4 519.0,269.1 520.3,269.5 521.6,268.1 521.8,268.2 524.0,267.4 524.5,267.6 525.4,267.3 527.4,266.1 527.9,266.0 528.6,264.6 529.6,263.3 530.7,262.4 531.4,263.1 533.4,264.5 533.3,265.2 534.1,266.9 534.9,268.6 534.7,269.8 535.6,272.3 536.4,273.4 538.0,274.3 537.6,276.8 539.1,278.3 540.0,279.5 541.0,281.5 541.1,282.5 542.9,283.0 544.7,284.5 544.2,285.9 545.5,287.1 544.8,287.9 545.1,289.3 545.5,290.8 545.1,291.7 545.3,293.9 544.5,293.9 544.4,295.8 544.4,296.2 543.5,298.9 541.3,298.7 539.4,299.7 539.1,299.9 536.8,300.3 535.6,301.2 534.9,301.7 532.8,302.4 531.7,302.7 531.6,303.0 530.3,304.1 529.0,304.5 528.0,305.8 527.2,304.9 525.2,304.6 524.3,304.4 522.8,304.3 522.7,304.7 520.0,303.5 519.4,302.7 518.1,301.5 516.4,301.3 516.2,300.1 514.4,301.0 512.5,299.3 512.8,297.9 511.5,297.1 511.1,297.0 510.3,295.0 510.5,293.6 508.8,292.4 509.1,292.4 509.7,289.8 510.1,289.5 510.6,287.4 511.4,286.6 512.5,285.9 513.6,284.2 512.7,282.8 513.1,282.5 512.2,280.9 512.7,278.9 511.2,277.6 511.7,275.9 511.4,274.9"/>
<polygon points="587.6,264.3 587.4,263.4 586.4,261.3 584.2,260.1 583.9,258.6 584.1,258.4 582.0,257.3 582.0,255.7 581.2,253.8 579.2,253.0 579.5,252.4 577.6,253.2 576.6,253.9 574.7,253.8 573.6,253.8 572.3,253.6 570.4,254.1 569.6,254.6 567.3,254.5 566.6,253.6 564.8,254.3 562.5,253.1 561.8,252.3 562.5,252.9 562.3,254.9 563.1,255.7 562.7,257.1 562.3,259.0 561.4,260.1 560.6,261.2 560.5,263.2 560.3,263.8 559.4,265.8 559.0,266.2 560.1,267.8 559.6,268.9 560.7,270.9 559.8,272.1 561.1,273.0 560.6,275.4 560.7,276.2 560.9,277.7 560.8,278.2 560.7,280.4 561.0,281.1 560.7,282.2 560.3,284.2 559.9,284.6 560.2,286.5 559.4,287.1 559.0,289.0 559.9,290.2 559.5,292.8 560.1,293.1 560.0,294.2 560.9,295.8 560.7,297.1 562.4,297.3 563.8,298.3 565.3,297.7 567.0,297.9 568.5,299.1 570.1,298.5 572.4,299.2 572.3,299.8 574.2,300.2 575.1,301.3 575.2,300.3 574.8,298.3 574.0,297.6 574.1,297.0 574.3,294.6 573.3,293.8 574.5,292.5 574.4,291.0 574.5,288.8 575.5,287.8 575.7,287.5 578.3,287.7 578.6,286.7 581.1,286.7 581.5,286.7 583.7,285.6 584.6,286.7 586.3,286.4 586.3,284.6 586.4,283.7 586.7,282.0 586.0,281.2 586.0,281.2 587.5,279.8 589.5,280.1 590.5,278.5 590.7,278.0 590.8,277.1 589.9,275.2 588.6,274.4 588.8,273.1 587.9,271.1 588.5,270.6 588.8,268.7 587.9,266.6 588.9,266.2 590.0,263.5 591.0,263.6 591.6,261.5 591.2,262.6 589.2,262.8"/>
<polygon points="535.3,301.9 535.8,301.0 536.6,301.0 539.1,299.8 540.0,300.0 541.8,298.7 543.5,298.9 544.4,296.3 544.6,296.0 544.4,293.8 545.4,293.5 547.0,291.9 548.0,291.3 548.3,290.7 549.3,290.7 550.4,289.5 551.8,290.1 553.1,290.2 554.7,289.9 555.7,290.0 557.7,289.2 559.0,289.0 559.7,290.2 559.8,292.7 559.9,293.4 560.1,294.5 560.9,295.8 560.7,297.1 562.4,297.3 563.8,298.3 565.3,297.7 567.0,297.9 568.5,299.1 570.1,298.5 572.4,299.2 572.3,299.8 574.2,300.2 575.1,301.3 576.2,301.4 577.6,303.5 577.0,305.1 576.4,304.8 575.8,307.4 575.4,308.7 574.1,309.3 572.8,310.9 571.9,310.7 571.0,311.8 570.4,312.9 571.1,315.5 570.3,316.4 571.7,318.7 571.2,318.7 570.4,321.2 570.5,321.5 571.0,322.9 569.2,323.0 567.0,322.1 566.0,322.1 564.4,321.2 561.7,321.6 560.2,320.2 559.5,319.7 557.6,320.2 556.3,320.3 554.4,320.0 553.6,320.7 552.3,319.7 551.1,320.2 548.8,320.2 549.1,320.2 547.3,320.0 546.1,318.4 544.6,318.1 543.1,318.5 542.3,318.0 539.5,318.1 538.6,316.9 537.9,316.2 536.2,315.6 536.4,314.0 534.9,314.1 534.7,313.3 533.4,311.4 533.5,309.3 532.6,309.1 532.0,308.1 531.4,306.8 531.9,304.9 531.9,303.1 532.3,302.4"/>
<polygon points="511.7,300.1 513.8,300.8 513.9,300.9 516.2,300.1 517.3,301.5 517.8,302.0 520.0,302.6 520.3,303.8 522.6,304.6 524.5,304.4 525.2,304.6 527.4,305.0 528.7,305.8 529.1,306.2 531.3,306.5 531.3,307.1 532.8,308.3 532.2,309.7 534.0,309.9 533.4,311.4 534.7,313.3 534.9,314.1 536.4,314.0 536.2,315.6 537.9,316.2 538.6,316.9 539.5,318.1 541.4,318.1 542.2,318.2 543.8,318.5 544.7,318.1 546.2,318.5 547.3,320.0 548.8,320.2 549.9,321.3 550.4,322.3 550.3,322.3 550.4,324.8 551.0,324.8 549.3,326.6 549.1,327.5 549.7,328.7 549.0,330.0 548.4,331.0 548.2,332.3 547.7,333.3 545.5,333.2 543.3,334.8 542.2,335.7 541.2,335.5 540.0,335.6 538.6,335.6 537.9,335.8 535.9,335.3 534.8,335.2 533.2,336.5 531.5,335.2 530.3,335.3 529.0,336.3 527.2,336.6 526.1,337.5 524.3,337.6 522.8,335.5 521.6,334.6 521.6,333.4 520.6,331.8 520.6,331.1 520.5,330.1 520.1,327.4 519.5,326.6 519.7,326.1 519.3,324.1 518.8,322.6 517.9,322.5 517.2,321.3 515.9,319.7 514.2,319.5 512.8,319.2 511.7,317.8 509.3,317.4 508.4,316.3 507.7,315.5 506.6,315.0 507.3,313.4 508.0,312.4 508.7,310.5 509.4,310.0 509.5,308.3 509.1,307.3 509.7,306.1 511.2,304.6 511.0,303.6 510.7,302.3 511.6,301.1"/>
<polygon points="550.3,322.2 551.2,321.0 553.6,320.7 554.4,319.6 556.1,320.2 557.6,320.2 559.6,319.7 560.4,320.3 561.8,321.6 564.3,321.2 566.0,322.1 566.8,322.1 569.0,323.0 571.3,323.4 570.1,324.5 571.6,326.1 571.6,328.1 571.4,329.1 571.7,330.2 571.9,331.4 572.0,333.3 571.8,334.0 572.2,335.3 571.9,337.7 573.5,338.9 572.0,341.2 573.4,341.9 574.7,343.9 574.1,345.1 575.7,346.7 575.2,348.1 575.3,349.4 574.7,351.1 575.1,353.3 574.6,355.0 573.5,356.2 572.4,357.1 570.8,356.6 568.8,357.6 567.1,357.6 566.4,359.0 564.6,359.7 563.4,361.3 562.2,362.5 560.4,364.0 559.1,364.6 558.6,365.5 557.5,365.4 555.3,366.2 554.4,367.1 554.1,369.1 553.4,368.9 551.8,367.2 550.0,366.9 549.7,366.7 548.6,365.0 549.5,362.9 548.3,361.5 547.3,359.0 548.4,357.9 546.8,355.5 546.7,354.5 546.5,352.7 546.7,352.1 547.5,350.1 547.9,349.8 547.6,347.8 547.5,346.8 545.8,346.0 546.1,345.6 545.3,343.6 543.0,342.1 542.4,341.6 542.4,340.4 540.3,338.6 541.4,337.6 542.2,337.2 542.9,335.5 543.9,334.7 545.5,333.2 547.7,333.3 548.2,332.3 548.4,331.0 549.0,330.0 549.7,328.7 549.1,327.5 549.4,326.0 550.3,324.7 550.9,322.6"/>
<polygon points="575.5,287.8 575.7,287.5 578.3,287.7 578.6,286.7 581.1,286.7 581.5,286.7 583.7,285.6 584.6,286.7 586.3,286.4 587.0,286.9 587.4,288.4 587.8,289.4 589.5,290.8 589.8,292.7 590.8,293.9 591.8,294.7 593.6,295.5 593.8,297.4 594.1,298.9 596.3,300.3 597.3,301.7 598.0,301.7 598.6,302.5 599.9,303.3 602.2,304.5 602.1,304.4 603.6,304.3 605.7,304.2 607.1,304.8 607.7,305.8 608.5,304.8 610.5,306.1 610.5,306.1 612.7,307.2 612.0,309.7 612.9,310.4 611.9,312.1 611.3,313.3 612.3,315.3 611.6,316.3 610.5,317.8 610.2,320.0 608.8,320.1 608.7,322.4 609.5,322.5 608.7,324.5 607.7,326.1 608.1,327.0 607.7,328.4 607.1,329.6 607.7,332.1 605.7,331.8 605.4,331.9 602.9,332.0 602.4,332.0 600.5,331.7 599.1,331.8 597.9,331.6 596.2,330.2 594.5,329.5 593.0,329.4 591.5,328.6 589.8,327.6 587.6,327.1 585.6,326.5 584.4,325.0 583.5,323.9 582.0,324.0 580.8,325.2 579.3,324.5 577.9,324.4 576.1,324.4 575.3,325.0 573.7,323.8 572.9,323.2 570.9,323.8 571.3,323.4 570.3,321.9 570.4,321.2 571.2,318.7 571.7,318.7 570.3,316.4 571.1,315.5 570.4,312.9 571.0,311.8 571.9,310.7 572.8,310.9 574.1,309.3 575.4,308.7 575.8,307.4 576.4,304.8 577.0,305.1 577.6,303.5 576.2,301.4 575.1,301.3 575.2,300.3 574.8,298.3 574.0,297.6 574.1,297.0 574.3,294.6 573.3,293.8 574.5,292.5 574.4,291.0 574.5,288.8"/>
<polygon points="612.5,307.4 613.5,307.3 614.9,305.4 617.5,305.0 618.8,304.8 620.5,303.9 621.3,303.9 623.4,303.2 624.2,303.2 625.6,303.0 627.1,302.1 627.3,303.2 628.7,304.3 628.6,305.9 629.9,306.4 630.1,308.6 631.0,310.2 631.5,310.2 631.8,311.7 633.4,313.0 633.5,315.3 634.1,316.1 636.4,316.4 637.0,317.7 637.8,317.7 640.1,318.2 640.5,317.5 642.8,318.7 644.5,319.3 644.9,320.1 645.4,321.8 645.8,324.2 646.5,324.2 645.8,325.1 647.1,327.8 646.7,328.6 648.2,328.9 647.9,331.1 648.7,332.5 648.7,332.6 648.8,334.5 648.7,336.4 647.5,337.2 646.9,338.8 646.8,339.7 645.9,341.2 644.8,342.1 644.0,343.9 643.6,344.0 643.2,345.9 642.6,348.5 640.2,347.5 639.9,347.1 637.3,348.0 637.1,347.6 634.3,348.1 633.9,348.2 631.6,347.2 632.0,348.5 630.0,348.9 629.2,348.4 627.9,349.9 626.2,349.5 624.9,349.1 623.8,350.1 623.1,349.6 621.4,348.5 619.9,347.5 619.2,347.4 617.8,346.0 617.0,345.9 615.7,344.6 614.2,343.9 614.0,343.1 612.2,342.7 611.9,341.9 609.7,340.7 610.0,340.2 609.3,338.6 609.7,336.8 608.1,336.3 609.2,334.9 608.0,333.2 608.5,332.4 606.5,330.6 607.8,330.2 607.9,328.3 608.0,327.1 607.7,325.9 608.6,324.6 609.6,322.2 609.3,321.8 609.1,319.3 609.6,318.1 610.7,317.6 611.9,315.5 612.4,314.9 612.2,312.9 612.1,311.9 612.7,310.3 611.9,309.7"/>
<polygon points="571.2,325.0 572.1,325.4 573.1,325.2 575.1,324.8 576.1,324.6 577.9,324.4 579.2,324.3 580.8,325.3 581.9,324.0 583.5,323.9 584.4,325.0 585.6,326.5 587.6,327.1 589.8,327.6 591.5,328.6 593.0,329.4 594.5,329.5 596.2,330.2 597.9,331.6 599.1,331.8 600.5,331.7 602.4,332.0 602.9,332.0 605.4,331.9 605.7,331.8 607.7,332.1 607.8,332.9 609.1,333.4 608.0,335.7 609.7,336.8 609.3,338.6 610.0,340.2 609.6,340.7 609.0,342.7 608.0,343.7 607.0,345.2 605.7,346.7 606.4,347.7 606.6,349.6 605.8,349.4 605.9,351.8 605.4,351.9 605.0,354.4 604.6,355.2 603.2,356.7 602.5,359.1 600.4,359.3 599.6,360.2 597.6,359.1 596.4,359.5 594.2,359.7 593.7,359.7 591.0,359.7 591.0,359.2 588.4,359.5 587.7,360.7 586.1,359.4 584.6,359.6 582.8,360.4 581.9,359.6 580.5,358.5 579.7,358.9 578.1,358.3 576.6,356.5 576.5,356.1 575.3,354.9 575.1,353.3 574.7,351.1 575.3,349.4 575.2,348.1 575.7,346.7 574.1,345.1 574.7,343.9 573.4,341.9 572.0,341.2 573.5,338.9 571.9,337.7 572.2,335.3 571.8,334.0 572.3,332.5 571.5,331.6 571.5,330.2 572.1,328.1 570.9,326.9"/>
<polygon points="524.3,337.6 525.3,337.4 526.2,336.8 528.3,335.7 528.6,336.4 530.8,335.4 531.5,335.2 533.2,336.5 534.8,335.2 535.9,335.3 537.9,335.8 538.6,335.6 540.0,335.6 541.8,335.4 542.9,335.5 542.2,337.2 541.4,337.6 540.3,338.6 542.4,340.4 542.4,341.6 543.0,342.1 545.3,343.6 546.1,345.6 545.8,346.0 547.5,346.8 547.6,347.8 547.9,349.8 547.5,350.1 546.7,352.1 546.5,352.7 546.7,354.5 546.8,355.5 548.4,357.9 547.3,359.0 548.3,361.5 549.5,362.9 548.6,365.0 549.7,366.7 550.0,366.9 551.8,367.2 553.4,368.9 551.9,370.4 550.0,371.2 547.6,370.9 546.5,371.7 544.4,372.1 543.8,371.3 541.4,371.8 540.7,371.7 538.1,372.8 537.2,371.8 535.0,371.9 533.5,372.8 531.9,372.5 530.9,373.3 529.7,373.4 528.9,371.8 526.7,372.2 525.1,372.2 523.9,371.8 523.2,371.5 522.0,370.6 520.7,369.9 519.8,369.6 518.5,367.7 517.9,367.8 517.8,366.4 516.3,365.4 515.4,363.1 515.5,362.1 513.7,361.0 514.5,358.8 512.4,358.4 513.6,356.6 514.8,356.2 515.1,354.3 515.1,354.0 516.5,352.5 517.7,351.7 518.6,349.4 519.3,349.2 519.9,347.0 520.5,345.6 521.2,344.8 522.7,343.7 523.7,343.4 523.8,341.3 523.8,341.3 523.7,339.1 523.9,338.5"/>
<polygon points="426.2,352.8 426.9,351.7 428.5,351.3 430.2,349.5 432.0,349.1 432.6,347.7 433.0,347.7 435.8,348.0 437.2,348.3 439.4,349.7 439.7,350.5 441.1,350.8 442.0,350.3 443.5,348.0 445.7,347.3 447.5,346.8 448.1,346.1 448.3,345.1 451.0,344.9 452.0,344.2 453.7,344.5 454.4,345.9 456.2,347.1 459.0,346.1 460.7,347.7 461.4,347.6 462.8,348.3 463.8,347.9 464.6,350.4 465.3,351.0 466.9,352.5 466.7,354.8 467.9,355.8 467.9,357.3 468.3,358.8 469.2,359.7 468.6,361.8 470.1,362.6 469.9,365.1 470.2,366.3 469.1,368.9 469.3,370.0 469.5,371.5 468.7,373.1 468.0,374.1 467.3,375.5 466.4,378.0 465.3,378.2 464.3,378.4 462.1,378.0 460.4,377.5 459.4,377.2 457.1,377.4 456.6,377.0 455.7,377.9 453.6,378.7 453.8,378.6 452.6,378.8 451.9,377.9 450.1,378.2 449.8,377.1 447.5,377.2 447.5,375.9 445.6,375.5 444.6,374.9 443.7,373.5 442.5,373.1 441.1,372.0 440.6,370.7 438.6,370.4 438.0,369.1 436.6,368.6 434.7,367.9 434.8,366.1 434.0,364.5 431.6,363.4 430.3,361.8 429.5,360.7 428.9,360.4 427.7,359.3 426.0,358.1 425.9,356.5 424.5,354.9 425.5,354.6"/>
<polygon points="463.8,347.9 465.4,347.6 466.4,346.7 466.7,345.9 469.2,345.4 470.8,345.6 472.1,345.8 472.5,344.5 474.6,345.7 475.1,345.9 477.4,344.9 478.1,345.3 479.9,344.4 481.3,344.4 481.9,345.0 483.4,345.0 483.3,346.3 484.7,347.6 485.2,350.0 485.6,350.8 486.4,352.8 485.6,354.0 487.0,355.3 486.3,357.2 486.1,357.6 486.7,359.2 486.5,360.2 485.8,362.3 487.2,362.7 486.2,364.9 486.9,366.7 487.2,367.2 486.7,368.7 487.5,369.5 488.4,371.8 488.0,373.5 489.5,375.0 489.2,377.4 490.0,377.2 490.1,378.2 491.4,380.9 490.6,381.2 492.1,382.0 492.7,383.9 490.4,384.3 489.8,385.8 488.4,385.9 486.6,387.3 485.8,387.1 484.7,388.6 483.7,388.7 482.8,390.5 480.9,389.3 480.4,388.6 478.8,387.6 477.3,387.3 476.1,387.9 474.6,386.5 472.6,386.1 470.7,385.2 470.7,385.2 468.8,384.4 468.6,383.4 466.7,382.4 466.2,381.2 466.0,380.6 466.5,379.0 464.8,378.2 466.2,377.2 467.4,376.2 467.9,374.4 468.7,373.1 469.5,371.5 469.3,370.0 469.1,368.9 470.2,366.3 469.9,365.1 470.1,362.6 468.6,361.8 469.2,359.7 468.3,358.8 467.9,357.3 467.9,355.8 466.7,354.8 466.9,352.5 465.3,351.0 464.6,350.4"/>
<polygon points="453.2,378.4 455.3,378.3 456.3,377.4 457.7,377.8 459.1,377.0 460.4,377.5 462.2,377.7 462.1,378.2 464.4,378.5 466.4,379.0 466.0,380.6 466.1,381.2 466.7,382.4 468.7,383.4 468.8,384.4 470.7,385.2 470.7,385.2 472.6,386.1 474.5,386.5 476.1,387.9 477.1,387.2 478.4,387.7 478.8,387.6 480.7,389.1 482.0,389.7 482.5,391.1 482.1,393.3 481.9,393.9 482.0,395.5 481.5,397.0 480.9,397.2 479.4,398.0 477.6,398.5 476.3,399.4 474.0,399.2 472.4,400.8 472.3,401.4 473.2,403.6 472.9,404.6 474.7,404.9 475.6,406.1 476.6,407.3 477.3,409.7 477.3,410.6 477.4,413.1 476.6,414.1 477.5,416.1 477.9,416.7 478.4,417.4 478.9,418.5 480.5,419.3 480.6,419.9 482.8,420.8 482.9,420.6 484.5,421.8 485.4,422.1 486.1,423.8 485.0,424.8 484.0,426.7 481.5,425.5 480.3,425.4 479.5,424.4 477.7,424.5 477.0,423.5 475.6,422.8 474.4,422.3 473.3,421.0 471.9,420.0 470.0,419.9 468.7,418.9 467.3,418.5 466.4,417.4 466.4,416.1 465.3,414.5 466.3,414.0 464.6,413.1 463.6,410.8 462.8,409.9 461.9,409.5 461.1,408.0 460.1,406.9 459.1,406.4 457.8,405.3 456.4,405.2 456.5,404.2 455.1,403.0 454.9,401.8 456.3,400.5 457.1,398.6 457.0,397.3 456.5,396.0 455.8,394.7 456.3,392.6 456.0,391.7 456.2,389.8 457.0,389.1 456.9,386.5 455.8,386.0 455.2,385.7 454.9,384.8 454.5,383.5 453.8,381.6 454.2,381.1 454.2,380.1"/>
<polygon points="485.8,341.9 487.8,343.1 490.1,343.9 490.0,344.2 492.0,345.5 492.5,345.6 494.0,346.5 496.7,346.7 498.2,347.0 498.7,347.8 501.5,348.0 503.1,347.6 503.3,348.9 505.5,348.6 507.0,349.7 507.3,350.2 508.9,351.5 509.4,352.8 510.8,353.7 511.6,355.2 512.6,357.6 512.4,358.3 513.5,361.1 515.1,362.0 514.9,363.0 516.3,364.6 517.8,366.0 517.7,367.6 519.2,368.3 519.5,369.8 520.1,372.1 520.7,372.3 520.2,373.6 518.5,373.5 516.8,374.7 516.1,375.3 514.1,377.3 512.0,378.4 511.3,380.7 510.8,381.5 510.5,382.7 510.0,382.5 507.6,383.9 507.4,383.8 505.8,384.7 504.0,384.7 503.1,385.0 501.9,385.5 500.4,385.1 499.3,385.2 497.4,385.8 495.5,385.6 494.7,386.4 493.1,385.5 492.9,383.5 491.9,382.0 490.7,380.9 491.4,379.9 489.6,378.1 489.2,377.4 489.5,375.0 488.0,373.5 488.4,371.8 487.5,369.5 486.7,368.7 487.2,367.2 486.9,366.7 486.2,364.9 487.2,362.7 485.8,362.3 486.5,360.2 486.7,359.2 486.1,357.6 486.3,357.2 487.0,355.3 485.6,354.0 486.4,352.8 485.6,350.8 485.2,350.0 484.7,347.6 483.4,346.2 484.0,344.1 484.8,344.4"/>
<polygon points="489.8,385.7 490.7,385.5 492.1,385.1 493.0,385.7 494.7,386.4 495.5,385.6 497.4,385.8 499.3,385.2 500.4,385.1 501.9,385.5 503.1,385.0 504.0,384.7 505.8,384.7 507.4,383.8 507.6,383.9 510.0,382.5 510.5,382.7 510.5,383.7 510.8,385.7 511.3,386.4 512.2,387.3 511.1,389.7 510.8,390.7 511.4,392.2 511.1,394.2 509.5,394.8 509.1,396.4 510.1,397.6 509.4,398.8 508.0,399.4 506.6,401.2 505.3,401.8 504.6,402.8 503.9,404.3 502.4,404.6 500.4,405.8 499.3,405.8 498.3,407.7 497.4,408.1 496.4,409.3 495.3,411.2 494.5,412.0 494.0,413.6 493.6,414.3 493.0,415.2 492.1,416.8 491.1,417.8 489.7,419.3 488.4,420.8 487.3,420.6 486.7,422.9 486.1,423.8 485.3,422.1 484.5,421.8 482.8,420.6 482.8,420.8 480.6,419.9 480.5,419.3 478.9,418.5 478.5,417.4 477.9,416.7 477.5,416.1 476.7,414.1 477.4,413.1 477.3,410.6 477.3,409.7 476.7,407.3 475.6,406.1 474.7,404.8 472.9,404.5 473.2,403.6 472.3,401.4 472.4,400.8 474.0,399.2 476.3,399.4 477.5,398.5 479.4,398.0 480.9,397.1 481.5,397.0 482.0,395.5 482.0,393.8 482.1,393.3 482.8,391.0 482.8,390.5 483.7,388.7 484.7,388.6 485.8,387.1 486.7,387.2 488.3,385.8"/>
<polygon points="510.0,382.9 511.0,382.3 511.4,380.6 511.0,379.8 513.2,378.2 514.1,377.2 515.4,376.9 516.3,375.6 517.9,374.1 519.5,374.1 520.8,372.0 521.7,373.3 522.6,372.1 523.9,371.8 525.1,372.3 526.7,372.2 527.6,372.3 528.6,373.2 528.7,375.4 529.2,377.0 528.5,377.8 528.5,380.0 528.7,381.5 529.3,383.1 530.7,385.0 531.2,386.1 531.7,387.8 533.0,389.3 533.1,390.2 534.7,391.3 534.9,391.1 536.0,392.2 536.4,393.2 538.0,393.7 539.4,394.9 540.9,395.8 541.9,395.7 540.7,398.5 539.2,398.6 538.2,401.0 537.8,401.3 537.3,401.8 535.5,403.1 533.7,403.7 533.5,404.6 531.3,404.1 529.5,405.0 527.6,404.5 526.4,406.9 525.8,407.6 524.8,408.0 523.6,410.6 522.1,409.1 520.7,408.6 519.0,408.5 518.9,408.7 516.8,408.0 514.9,407.5 513.8,406.4 512.7,404.6 511.4,404.3 509.0,403.8 508.7,402.4 508.3,399.7 509.6,398.8 509.9,397.5 508.9,396.4 509.7,394.9 511.1,394.2 511.4,392.2 510.8,390.7 511.1,389.7 512.2,387.3 511.3,386.4 510.8,385.7 510.1,383.9"/>
<polygon points="528.7,373.2 530.2,373.7 531.9,373.3 532.3,372.0 535.0,372.5 535.3,371.9 537.9,372.8 538.7,371.8 540.6,371.5 541.8,372.3 543.5,371.3 544.5,372.0 546.5,371.6 547.6,370.8 549.3,370.8 550.8,371.6 552.0,370.8 554.6,372.1 554.8,372.3 556.2,373.5 557.5,374.7 558.3,375.2 559.0,375.9 560.7,377.9 560.1,379.4 562.0,380.4 561.0,380.6 562.3,383.0 561.5,384.6 563.3,384.6 562.4,386.5 562.9,387.9 563.2,388.4 562.5,390.8 562.2,391.0 561.5,393.1 560.8,393.6 560.1,394.8 559.5,396.0 558.8,397.0 557.9,398.7 556.7,400.3 555.1,400.1 553.6,401.5 551.9,400.1 550.6,400.3 549.8,399.2 547.0,399.5 545.9,399.9 545.2,398.2 542.4,399.0 542.3,397.4 541.7,396.2 540.9,395.8 539.5,394.8 538.1,394.4 537.6,393.7 535.7,392.1 535.3,391.5 534.7,391.3 533.1,390.2 532.9,389.1 531.7,387.7 531.2,386.1 530.5,385.1 529.9,383.6 529.3,382.3 528.5,381.7 528.6,380.1 528.6,377.8 529.3,376.9 528.7,375.3"/>
<polygon points="524.8,407.7 525.6,407.6 526.5,406.9 527.6,404.5 529.5,405.0 531.3,404.1 533.5,404.6 533.7,403.7 535.5,403.1 537.3,401.8 537.8,401.3 538.2,401.0 540.0,400.0 541.9,399.6 542.4,398.2 544.2,398.7 545.6,398.8 547.4,400.1 549.1,399.0 550.4,400.3 552.1,400.1 554.0,401.5 554.8,400.3 556.4,401.0 557.2,402.1 558.7,403.3 558.7,405.7 558.4,406.7 560.1,409.1 559.5,408.9 558.0,411.3 557.9,411.7 558.2,413.5 556.4,413.1 555.2,415.9 554.2,416.0 553.5,417.4 552.7,419.4 552.5,420.7 552.0,422.6 551.1,424.4 550.1,425.4 549.5,426.6 549.2,428.5 548.9,429.8 548.4,431.3 546.3,432.5 544.6,432.3 544.5,433.5 542.3,433.5 541.9,432.9 541.1,432.7 539.2,433.7 537.1,431.7 536.0,431.7 534.4,431.2 532.8,431.4 532.0,430.3 530.3,430.3 529.9,429.1 529.5,426.7 528.2,426.4 528.4,425.5 526.5,424.7 526.3,422.2 525.7,420.5 526.0,419.3 525.4,417.4 524.0,416.8 524.8,415.5 523.9,413.4 524.3,412.8 523.1,411.8 523.5,410.2"/>
<polygon points="488.0,420.9 488.8,420.7 489.8,419.3 491.1,417.8 492.1,416.8 493.0,415.2 493.6,414.3 494.0,413.6 494.5,412.0 495.3,411.2 496.4,409.3 497.4,408.1 498.3,407.7 499.3,405.8 500.4,405.8 502.4,404.6 503.9,404.3 504.6,402.8 505.3,401.8 507.9,402.0 508.7,402.4 509.0,403.8 511.4,404.3 512.7,404.6 513.8,406.4 514.9,407.5 516.8,408.0 518.9,408.7 519.0,408.5 520.7,408.6 522.1,409.1 523.6,410.6 523.3,412.0 523.7,414.0 525.0,414.8 524.0,416.8 525.4,417.4 526.0,419.3 525.7,420.5 526.3,422.2 526.5,424.7 528.4,425.5 528.2,426.4 529.5,426.7 529.7,429.1 529.4,430.4 529.6,432.7 529.0,432.9 528.3,435.1 528.6,435.5 528.3,437.4 526.8,438.3 526.1,439.6 526.5,441.1 524.8,442.0 523.7,442.8 523.0,443.3 521.3,444.9 519.7,446.5 518.2,446.5 516.9,448.1 516.7,446.7 514.8,447.2 514.5,446.8 513.1,446.7 510.5,445.6 509.0,445.6 508.2,444.4 506.8,443.6 504.5,444.3 503.8,443.8 501.0,444.1 500.3,444.2 497.9,443.5 496.6,444.6 495.9,443.5 494.0,442.6 491.7,442.4 490.1,441.0 489.8,440.3 488.0,439.5 487.8,438.2 486.8,437.5 486.6,436.5 486.0,434.9 486.5,433.3 486.9,431.5 485.6,431.3 486.9,428.9 485.2,428.3 485.1,426.2 485.7,425.5 486.1,423.8 487.1,422.7"/>
<polygon points="490.1,441.0 491.7,442.4 494.0,442.6 495.9,443.5 496.6,444.6 497.9,443.5 500.3,444.2 501.0,444.1 503.8,443.8 504.5,444.3 506.8,443.6 508.2,444.4 509.0,445.6 510.5,445.6 513.1,446.7 514.5,446.8 514.8,447.2 516.7,446.7 516.9,448.1 518.2,449.1 517.8,451.0 518.8,451.8 518.3,454.3 517.8,455.4 516.8,456.6 516.3,457.2 516.3,459.1 515.5,459.1 514.5,460.7 513.7,462.0 513.2,463.0 512.9,465.6 512.4,465.8 511.5,467.6 510.4,468.3 509.3,469.1 509.3,469.8 506.5,470.0 506.2,469.4 504.4,470.7 503.2,470.9 501.0,470.3 500.5,470.9 497.9,470.6 497.6,471.7 495.0,470.9 494.3,470.5 492.3,470.7 489.7,470.1 488.7,469.7 488.3,469.0 485.9,467.6 485.4,467.3 484.0,466.3 482.5,464.8 483.1,464.4 483.5,462.4 483.8,460.7 484.5,459.9 485.2,458.1 485.7,456.5 486.7,455.7 487.3,453.6 487.8,451.3 488.4,450.9 489.1,449.0 490.2,447.8 491.3,446.7 492.2,445.3 491.7,444.4 491.3,443.6"/>
<polygon points="529.4,430.4 531.5,430.9 531.9,431.7 534.0,431.4 535.6,431.5 537.3,431.5 537.8,432.7 538.9,433.7 541.7,432.6 542.1,433.5 544.5,433.5 545.8,432.8 547.0,433.7 548.2,435.0 547.2,436.3 548.5,436.9 548.6,439.4 548.6,440.4 548.9,442.5 549.7,443.7 549.4,444.5 549.6,446.8 547.8,446.5 547.0,448.2 546.8,448.9 546.0,450.3 544.3,450.5 542.9,451.4 542.0,453.1 541.5,452.8 540.8,455.4 538.7,455.2 538.0,456.3 537.7,456.2 536.1,457.8 534.8,458.2 534.5,459.7 534.1,460.6 533.3,461.8 531.9,461.9 529.6,461.3 529.0,462.2 526.9,460.2 524.8,460.8 524.3,459.8 522.2,460.1 520.6,459.1 520.5,457.4 519.7,456.0 519.2,455.3 518.4,454.5 518.8,451.8 517.8,451.0 518.2,449.1 516.9,448.1 518.2,446.5 519.7,446.5 521.3,444.9 523.0,443.3 523.7,442.8 524.8,442.0 526.5,441.1 526.1,439.6 526.8,438.3 528.3,437.4 528.6,435.5 528.3,435.1 529.0,432.9 529.6,432.7"/>
<polygon points="452.2,410.1 453.1,411.1 454.1,412.2 455.8,412.2 455.7,413.3 457.5,413.7 457.7,414.4 458.5,415.9 460.2,416.3 460.9,417.1 462.5,417.6 464.2,419.0 465.2,417.6 467.3,417.8 468.3,418.5 469.2,418.9 469.9,419.8 471.2,420.0 472.3,420.3 473.4,421.0 474.2,422.3 476.2,423.6 477.7,424.0 478.8,424.3 479.4,424.9 481.5,425.4 482.4,425.7 484.0,426.7 484.7,427.5 484.8,427.9 487.0,429.0 485.6,431.4 486.8,431.6 486.6,433.4 486.0,434.8 486.6,436.5 486.8,437.5 487.8,438.2 488.0,439.5 489.8,440.3 490.1,441.0 491.3,443.6 491.7,444.4 492.2,445.3 491.3,446.7 490.2,447.8 489.1,449.0 488.4,450.9 487.8,451.3 487.3,453.6 486.7,455.7 485.7,456.5 485.2,458.1 484.5,459.9 483.8,460.7 483.5,462.4 483.1,464.4 480.9,464.0 478.3,462.0 477.1,462.5 476.6,462.2 474.5,460.6 473.5,459.3 473.1,458.7 471.3,457.4 469.9,457.3 469.5,456.4 467.1,455.7 466.2,456.1 465.5,455.2 463.1,454.3 461.4,454.4 460.8,454.6 458.5,453.4 457.4,453.2 456.0,452.5 453.6,453.3 453.2,450.9 453.5,449.3 452.2,448.5 452.4,447.5 453.3,446.4 453.7,444.9 454.5,444.5 452.4,443.3 452.6,442.0 451.9,440.6 450.6,439.3 450.8,437.7 450.5,436.4 450.8,434.9 450.6,433.1 450.2,431.9 451.1,430.8 451.4,429.5 450.2,427.5 451.6,427.2 451.4,424.9 451.0,423.9 451.3,422.3 452.2,421.5 450.6,418.9 452.0,418.6 452.0,416.8 451.3,415.3 451.6,414.1 452.7,413.2 451.1,411.6"/>
<polygon points="456.0,452.5 457.4,453.2 458.5,453.4 460.8,454.6 461.4,454.4 463.1,454.3 465.5,455.2 466.2,456.1 467.1,455.7 469.5,456.4 469.9,457.3 471.3,457.4 473.1,458.7 473.5,459.3 474.5,460.6 476.6,462.2 477.1,462.5 478.3,462.0 480.9,464.0 483.1,464.4 482.5,464.8 484.0,466.3 485.4,467.3 485.9,467.6 488.3,469.0 488.7,469.7 488.4,471.1 488.6,472.3 487.7,473.3 486.6,474.8 486.7,474.5 484.6,475.2 484.0,474.7 482.4,474.6 481.2,475.7 480.1,476.9 478.7,477.3 478.1,479.9 478.4,480.6 477.9,482.1 477.3,484.0 478.4,485.6 477.3,486.0 478.5,488.0 478.6,488.8 477.6,488.9 475.7,489.5 475.2,488.5 472.6,489.5 472.5,490.4 469.8,489.7 469.5,490.8 467.5,490.6 466.6,489.5 465.6,491.0 463.9,490.6 463.4,490.2 461.0,490.2 460.2,490.7 458.1,490.6 457.4,490.9 455.4,490.8 454.8,490.4 453.1,491.1 452.2,491.4 451.0,491.0 449.5,491.5 448.0,490.8 446.8,491.1 444.7,491.9 444.3,490.7 444.5,490.2 444.4,488.0 444.5,487.8 445.1,485.9 445.3,485.4 446.2,483.9 445.4,482.9 445.5,481.4 447.2,480.8 446.5,478.5 446.2,478.5 447.1,476.0 447.7,475.6 447.6,473.9 447.0,472.7 448.4,471.4 449.3,470.3 449.0,467.3 448.8,466.0 449.5,465.5 449.7,463.1 449.9,461.5 450.8,459.9 451.4,459.3 451.9,457.3 452.1,457.1 452.6,455.0 453.1,454.4 453.6,453.3"/>
<polygon points="488.7,469.7 489.7,470.1 492.3,470.7 494.3,470.5 495.0,470.9 497.6,471.7 497.9,470.6 500.5,470.9 501.0,470.3 503.2,470.9 504.4,470.7 506.2,469.4 506.5,470.0 509.3,469.8 509.3,469.1 511.0,469.9 511.7,471.5 512.9,472.8 513.9,474.6 514.5,475.2 515.3,476.0 515.8,477.3 516.6,478.5 518.8,479.8 519.6,480.8 518.9,481.9 518.0,484.4 518.2,484.4 519.0,486.3 520.1,487.7 520.1,489.7 519.3,489.8 518.9,491.4 518.5,492.2 518.0,493.2 515.9,494.8 514.5,494.6 514.1,495.8 513.1,496.5 510.6,496.9 509.9,497.0 508.2,497.5 506.8,498.1 504.6,498.9 503.0,501.2 502.3,499.4 500.8,499.3 498.7,499.4 498.3,499.5 496.4,498.5 495.4,498.4 494.7,497.0 492.4,495.5 490.7,495.0 490.9,494.0 489.9,492.9 487.8,491.7 487.2,490.2 486.3,490.8 483.6,490.1 483.1,489.4 481.0,490.2 479.7,489.4 478.6,488.8 478.5,488.0 477.3,486.0 478.4,485.6 477.3,484.0 477.9,482.1 478.4,480.6 478.1,479.9 478.7,477.3 480.1,476.9 481.2,475.7 482.4,474.6 484.0,474.7 484.6,475.2 486.7,474.5 486.6,474.8 487.7,473.3 488.6,472.3 488.4,471.1"/>
<polygon points="444.3,490.7 444.7,491.9 446.8,491.1 448.0,490.8 449.5,491.5 451.0,491.0 452.2,491.4 453.1,491.1 454.8,490.4 455.4,490.8 457.4,490.9 458.1,490.6 460.2,490.7 461.0,490.2 463.4,490.2 463.9,490.6 465.6,491.0 466.6,489.5 467.5,490.6 469.5,490.8 469.8,489.7 472.5,490.4 472.6,489.5 475.2,488.5 475.7,489.5 477.6,488.9 478.6,488.8 479.7,489.4 481.0,490.2 483.1,489.4 483.6,490.1 484.9,492.5 485.5,493.9 485.0,495.2 484.3,496.2 484.3,498.8 483.8,500.1 483.4,501.5 483.8,503.1 483.6,504.4 482.3,507.1 481.3,507.3 481.6,509.5 481.7,509.7 481.0,511.8 480.4,512.2 479.7,513.9 479.5,514.7 479.5,516.1 479.1,517.9 477.8,518.2 475.8,517.8 475.7,519.1 473.8,518.0 473.0,517.8 470.8,516.6 470.5,517.0 469.5,516.1 467.9,516.0 467.0,515.0 465.5,514.6 462.8,514.2 461.5,512.9 460.6,513.5 457.9,513.1 456.0,512.4 455.0,510.9 453.8,509.5 452.0,509.1 450.5,508.4 449.3,507.0 448.6,506.7 446.3,505.9 446.3,504.8 445.5,504.0 443.7,503.2 443.4,502.0 441.9,500.9 440.4,500.7 439.3,499.5 438.5,498.6 436.3,498.4 438.4,498.0 440.2,497.1 440.8,495.6 442.1,495.4 442.7,493.5 443.5,492.6"/>
<polygon points="484.7,493.0 485.7,491.5 487.2,490.2 487.8,491.7 489.9,492.9 490.9,494.0 490.7,495.0 492.4,495.5 494.7,497.0 495.4,498.4 496.3,498.7 498.0,499.6 500.5,499.3 501.8,499.5 502.1,501.5 502.9,503.5 502.7,503.6 501.6,506.1 501.7,506.0 502.2,508.3 501.7,509.0 503.6,511.3 503.0,512.4 502.6,514.3 502.4,514.9 502.1,517.1 501.1,517.3 500.4,520.0 500.8,520.9 500.7,522.8 500.0,522.2 497.8,522.8 497.4,522.4 494.6,523.4 493.5,523.5 492.1,523.1 491.3,522.8 489.3,523.6 489.7,522.6 487.3,522.4 486.7,521.4 485.4,520.4 483.9,520.1 483.2,518.6 481.6,518.1 480.1,516.9 479.1,517.5 479.1,517.9 479.4,516.0 479.5,513.5 480.1,513.3 481.0,511.8 481.7,509.7 481.6,509.5 481.3,507.3 482.3,507.1 483.6,504.4 483.8,503.1 483.4,501.5 483.8,500.1 484.4,499.1 485.3,497.5 484.4,497.0 484.9,495.0 485.3,493.8"/>
<polygon points="516.3,459.1 516.1,459.0 517.5,457.7 519.4,458.2 520.6,458.9 521.8,458.8 523.6,460.0 525.3,460.6 526.9,460.6 528.7,462.2 530.2,460.9 532.0,460.9 532.5,461.9 533.9,462.3 535.2,461.7 536.9,461.3 537.8,460.0 540.0,461.4 540.6,461.2 542.4,461.2 543.1,462.8 542.2,464.3 541.2,464.4 539.5,466.1 538.3,466.8 537.4,468.3 535.9,468.9 534.4,469.2 533.5,470.8 532.4,471.0 531.6,472.4 531.2,473.6 530.6,474.9 529.9,475.9 529.0,477.0 528.4,477.0 527.3,478.2 525.7,479.3 524.2,479.4 522.6,480.0 519.9,480.0 519.6,480.8 518.8,479.8 516.6,478.5 515.8,477.3 515.3,476.0 514.5,475.2 513.9,474.6 512.9,472.8 511.7,471.5 511.0,469.9 509.3,469.1 510.4,468.3 511.5,467.6 512.4,465.8 512.9,465.6 513.2,463.0 513.7,462.0 514.5,460.7 515.5,459.1"/>
<polygon points="519.6,480.8 519.9,480.0 522.6,480.0 524.2,479.4 525.7,479.3 527.3,478.2 528.4,477.0 529.0,477.0 529.9,475.9 530.6,474.9 531.2,473.6 531.6,472.4 532.4,471.0 532.4,473.5 533.0,474.4 533.2,476.1 534.1,477.3 535.1,478.3 535.3,480.6 535.7,481.7 536.3,483.9 538.3,485.2 539.0,487.1 539.2,487.7 541.1,489.5 540.9,490.3 541.7,491.8 542.4,492.7 542.9,493.8 542.5,495.2 541.5,495.0 539.4,496.4 538.1,497.0 537.7,498.2 537.2,498.8 535.9,499.3 533.7,500.1 533.1,500.6 531.6,501.0 530.3,501.6 528.6,501.0 528.3,502.4 526.2,502.5 525.2,503.1 524.4,503.6 522.6,505.1 521.2,505.0 520.6,505.9 518.4,505.3 517.5,506.1 517.0,507.2 516.3,508.6 515.1,509.3 513.8,511.2 513.5,511.9 513.4,513.4 512.2,514.4 512.7,516.9 512.7,516.3 511.6,518.4 510.7,518.9 510.3,520.2 510.0,521.2 509.0,522.5 507.8,522.9 506.4,523.3 505.3,522.9 502.6,521.9 502.5,522.8 500.7,522.8 500.8,520.9 500.4,520.0 501.1,517.3 502.1,517.1 502.4,514.9 502.6,514.3 503.0,512.4 503.6,511.3 501.7,509.0 502.2,508.3 501.7,506.0 501.9,505.8 502.3,503.1 502.8,502.8 502.2,501.4 503.1,500.9 504.8,498.6 506.8,498.1 508.2,497.5 509.9,497.0 510.6,496.9 513.1,496.5 514.1,495.8 514.5,494.6 515.9,494.8 518.0,493.2 518.5,492.2 518.9,491.4 519.3,489.8 520.1,489.7 520.1,487.7 519.0,486.3 518.2,484.4 518.0,484.4 518.9,481.9"/>
<polygon points="515.1,509.3 516.3,508.6 517.0,507.2 517.5,506.1 518.4,505.3 520.6,505.9 521.2,505.0 522.6,505.1 524.4,503.6 525.2,503.1 526.2,502.5 528.3,502.4 528.6,501.0 530.3,501.6 531.6,501.0 533.1,500.6 533.7,500.1 535.9,499.3 536.0,500.8 536.6,502.3 537.5,504.4 537.9,504.7 539.2,505.6 540.2,506.4 541.4,507.8 542.9,508.3 541.9,510.0 543.7,511.8 543.2,511.9 544.7,513.4 544.2,515.4 544.9,515.7 544.9,516.9 545.3,518.9 545.7,520.1 545.2,522.2 546.6,522.6 543.4,523.3 542.3,523.8 540.8,524.4 539.8,525.5 538.6,525.7 536.9,524.8 535.4,526.4 534.1,525.5 531.9,525.0 530.6,525.8 529.2,525.2 529.3,524.8 526.9,523.5 526.4,523.0 524.4,523.3 523.3,523.0 522.3,523.0 521.6,521.7 520.1,521.8 518.9,520.9 517.6,520.7 516.4,519.7 515.8,519.4 514.7,517.9 514.3,517.4 512.7,516.3 513.2,515.7 512.2,514.4 513.4,513.4 513.5,511.9 513.8,511.2"/>
<polygon points="549.3,446.8 551.1,445.8 551.8,445.7 554.6,444.4 555.5,444.8 557.3,443.3 558.9,443.4 559.0,442.4 560.5,442.5 562.0,441.3 563.2,439.2 564.5,438.8 565.9,437.5 567.3,436.9 568.0,438.0 569.2,439.9 570.3,440.6 571.1,442.2 572.4,442.9 573.3,444.5 573.6,445.4 574.2,447.2 574.7,448.2 575.8,450.0 574.8,450.3 576.6,452.2 575.9,454.3 577.9,454.8 577.8,456.8 578.7,459.0 579.4,459.7 581.1,461.3 580.4,462.8 582.3,463.3 582.3,464.9 583.0,465.3 583.8,467.0 584.4,468.2 585.4,469.6 586.0,471.3 585.5,472.5 584.6,474.0 583.5,474.0 582.5,476.4 581.2,477.0 580.1,478.5 578.7,479.5 577.3,481.0 576.7,481.3 574.9,482.6 573.6,482.5 571.1,483.7 570.8,482.2 569.5,482.8 567.6,482.8 566.6,482.2 565.6,481.5 564.7,480.9 564.0,479.2 562.9,477.5 561.4,476.4 561.5,476.1 559.9,474.9 558.9,473.2 558.1,471.9 557.2,470.1 555.8,468.8 553.7,468.3 551.9,467.8 551.0,466.9 550.2,466.7 547.6,466.4 546.6,466.0 545.3,465.5 545.3,465.3 543.4,463.3 542.9,462.7 541.8,461.0 541.5,459.4 541.0,459.3 541.0,457.4 541.2,455.5 540.1,454.9 541.3,453.1 542.3,452.8 543.1,451.4 544.1,450.2 545.6,450.0 546.9,447.8 548.1,447.0"/>
<polygon points="542.9,462.7 543.4,463.3 545.3,465.3 545.3,465.5 546.6,466.0 547.6,466.4 550.2,466.7 551.0,466.9 551.9,467.8 553.7,468.3 555.8,468.8 557.2,470.1 558.1,471.9 558.9,473.2 559.9,474.9 561.5,476.1 561.4,476.4 562.9,477.5 564.0,479.2 564.7,480.9 565.6,481.5 566.6,482.2 567.6,482.8 569.5,482.8 570.8,482.2 571.1,483.7 570.6,484.3 570.3,485.2 568.7,486.7 567.1,486.9 566.2,488.0 565.3,487.9 565.6,490.5 564.3,490.3 563.2,492.7 563.7,492.8 562.3,494.1 562.0,494.2 560.0,494.8 558.8,494.9 556.7,495.0 556.1,493.8 554.1,494.7 551.4,493.6 551.3,493.8 549.1,494.5 547.9,495.0 545.8,495.6 545.0,494.2 542.9,493.8 542.1,492.6 541.5,491.6 541.1,489.3 539.4,487.6 539.7,487.2 538.7,486.9 537.3,485.1 536.4,483.8 536.0,482.1 535.6,482.3 535.1,480.5 535.1,478.7 534.1,478.4 534.3,477.1 532.9,475.3 533.0,474.5 532.4,473.3 532.8,471.4 533.7,471.5 535.1,469.7 536.1,468.7 537.2,468.3 538.0,467.4 539.3,466.8 540.2,464.9 540.9,465.0 541.6,463.2"/>
<polygon points="573.9,443.9 574.6,443.3 574.9,441.3 574.7,441.0 575.1,438.7 576.3,438.7 577.0,437.9 579.0,438.1 580.3,437.0 580.4,436.5 581.7,434.7 584.2,434.5 585.5,433.1 586.9,434.8 586.4,435.6 588.0,435.8 589.5,437.6 589.7,437.8 591.7,438.1 592.8,439.3 593.9,440.0 595.9,440.4 596.8,440.6 598.5,440.7 599.1,441.4 600.2,442.8 600.2,444.2 601.2,444.7 601.7,446.0 602.3,448.1 601.5,448.4 602.6,449.6 602.4,451.5 602.6,451.8 602.7,454.3 602.4,455.2 602.3,456.7 602.5,457.6 601.7,459.8 600.2,460.1 599.4,462.1 599.2,462.8 598.6,463.6 597.5,465.6 595.7,465.7 593.9,466.9 593.4,466.7 591.0,467.9 590.4,467.3 588.4,467.7 587.4,467.8 585.3,467.1 584.9,466.1 582.9,466.5 582.9,464.5 582.3,463.8 581.0,463.5 581.1,461.8 579.6,460.1 579.4,458.4 578.8,458.2 577.6,456.6 577.9,454.9 576.2,454.3 576.6,452.5 575.1,451.0 575.8,450.8 574.7,448.9 575.2,446.9 573.4,446.1"/>
<polygon points="584.4,468.2 585.6,467.0 587.3,468.0 588.9,467.8 590.5,467.4 592.5,466.9 593.5,466.2 595.4,465.7 597.2,465.5 597.7,464.1 598.7,463.3 599.8,462.1 600.5,461.6 601.5,460.2 602.4,457.8 602.9,458.5 604.5,459.1 605.8,458.7 607.2,459.2 608.7,458.9 610.1,460.2 611.8,459.1 613.3,459.1 613.9,459.1 615.2,458.2 617.3,459.7 618.3,460.0 620.0,461.3 620.2,460.9 621.8,461.8 622.8,462.0 623.8,463.2 625.4,464.2 625.1,466.2 625.1,468.2 626.3,468.3 626.4,469.5 627.0,472.1 626.8,472.9 626.9,474.8 627.0,475.1 626.4,477.7 625.8,478.9 624.8,479.8 623.4,481.0 621.7,481.3 620.1,482.9 618.9,484.2 618.1,484.6 617.5,486.8 616.5,487.0 615.2,487.7 614.5,489.4 614.2,489.4 613.6,491.2 611.7,490.8 611.1,490.6 609.7,489.5 608.4,488.8 607.7,487.7 607.2,485.3 605.1,484.5 604.3,483.2 603.3,482.4 602.2,481.2 601.0,479.4 599.1,478.4 598.4,477.3 597.7,475.7 595.5,475.2 593.2,474.4 591.8,474.1 591.0,473.7 589.5,472.3 587.3,470.7 586.3,470.6 585.5,469.6"/>
<polygon points="563.7,492.8 563.2,492.7 564.3,490.3 565.6,490.5 565.3,487.9 566.2,488.0 567.1,486.9 568.7,486.7 570.3,485.2 570.6,484.3 571.1,483.7 573.6,482.5 574.9,482.6 576.7,481.3 577.3,481.0 578.7,479.5 580.1,478.5 581.2,477.0 582.5,476.4 583.5,474.0 584.6,474.0 585.5,472.5 586.0,471.3 587.3,470.7 589.5,472.3 591.0,473.7 591.8,474.1 593.2,474.4 595.5,475.2 597.7,475.7 598.4,477.3 599.1,478.4 601.0,479.4 602.2,481.2 603.3,482.4 604.3,483.2 605.1,484.5 607.2,485.3 607.7,487.7 608.4,488.8 606.7,490.3 606.1,490.5 604.1,491.9 602.4,491.6 601.8,492.7 601.1,493.4 599.6,494.6 598.2,495.4 597.3,495.6 596.2,496.7 595.1,497.5 594.7,499.0 592.3,498.8 590.9,500.1 590.0,500.9 587.1,501.1 585.8,502.4 584.3,502.2 583.4,503.5 580.9,503.2 580.1,502.7 578.4,502.6 578.6,502.2 576.1,501.6 574.4,500.7 573.4,500.3 571.7,499.0 570.4,499.1 570.0,498.5 568.5,499.1 567.4,498.2 565.6,497.7 564.3,496.0 563.8,495.1"/>
<polygon points="539.7,496.3 541.4,495.1 542.4,495.0 543.4,495.1 544.9,494.7 545.8,495.6 547.9,495.0 549.1,494.5 551.3,493.8 551.4,493.6 554.1,494.7 556.1,493.8 556.7,495.0 558.8,494.9 560.0,494.8 562.0,494.2 562.3,494.1 563.7,492.8 563.8,495.1 564.3,496.0 565.6,497.7 567.4,498.2 568.5,499.1 570.0,498.5 570.4,499.1 571.7,499.0 573.4,500.3 574.4,500.7 576.1,501.6 578.6,502.2 578.4,502.6 580.1,502.7 580.9,503.2 580.3,504.9 579.7,506.3 578.7,508.2 577.6,509.2 576.9,511.4 577.3,512.7 577.2,514.4 576.1,516.4 575.3,517.1 574.5,518.9 573.1,517.5 571.7,517.9 571.5,518.6 569.5,517.5 566.6,518.7 566.0,518.6 563.2,519.7 562.7,519.1 560.1,519.8 558.7,519.5 556.8,520.7 555.9,522.1 555.0,522.6 553.4,523.5 551.5,523.5 550.9,524.3 549.2,524.3 548.2,523.4 546.1,522.9 546.4,521.9 544.7,522.4 543.4,523.3 542.3,521.4 541.7,519.0 541.3,519.1 541.4,518.2 541.2,515.8 540.0,514.7 539.9,512.1 539.9,511.0 539.8,509.1 540.2,509.1 540.9,506.6 539.8,506.0 539.6,505.3 537.6,504.4 536.6,501.3 536.4,500.7 536.7,498.7 537.7,498.4"/>
<polygon points="626.0,460.0 629.3,461.5 630.4,460.3 631.5,460.4 631.8,460.0 634.2,459.7 634.1,459.4 636.1,458.2 636.2,460.3 638.4,461.4 638.9,461.4 640.1,462.6 641.5,462.4 642.7,463.6 644.4,463.7 645.4,465.0 646.8,465.1 648.0,466.2 648.9,466.6 648.8,467.6 648.2,469.8 648.3,471.7 648.7,473.0 648.9,474.8 649.5,476.7 650.9,477.4 651.7,479.3 651.7,480.7 653.5,481.6 653.6,482.5 654.3,483.9 653.2,484.9 651.3,485.5 650.7,485.9 648.7,484.3 646.1,484.1 645.1,484.3 643.8,483.7 641.4,483.4 640.1,482.1 639.3,482.7 637.6,481.8 635.5,481.4 633.9,480.8 632.9,479.2 631.5,478.2 629.9,478.0 629.5,476.7 627.8,475.9 627.4,475.4 627.1,473.2 626.6,471.9 626.6,471.6 626.9,469.5 625.0,468.6 625.5,466.2 625.3,464.7 625.8,462.8 626.0,462.7"/>
<polygon points="611.7,491.0 612.4,490.0 614.0,490.2 615.0,488.7 615.3,487.8 616.5,486.9 617.7,486.7 618.3,484.4 618.9,484.2 620.1,482.9 621.7,481.3 623.4,481.0 624.8,479.8 625.8,478.9 626.4,477.7 627.8,475.9 629.5,476.7 629.9,478.0 631.5,478.2 632.9,479.2 633.9,480.8 635.5,481.4 637.6,481.8 639.3,482.7 640.1,482.1 641.4,483.4 643.8,483.7 645.1,484.3 646.1,484.1 648.7,484.3 650.7,485.9 651.3,485.5 652.9,487.5 652.7,488.0 653.3,488.5 652.4,491.0 653.3,491.8 653.3,493.5 652.5,495.1 652.7,496.6 652.0,499.1 652.1,500.1 653.0,500.2 653.1,501.6 651.0,501.3 649.8,501.6 649.1,501.9 647.1,502.1 644.8,501.2 643.3,500.8 642.0,500.4 640.4,499.2 638.4,498.2 637.4,498.2 635.8,496.8 633.2,498.0 632.1,496.7 630.8,496.7 628.6,497.2 627.6,496.4 625.9,495.9 625.2,495.5 623.8,495.8 623.2,495.9 622.1,495.0 620.0,493.4 617.8,492.9 617.2,492.0 615.3,491.7 613.6,491.5 613.6,490.8"/>
<polygon points="652.6,486.9 653.4,486.2 654.3,485.5 655.2,484.1 657.7,484.1 660.5,483.9 660.7,483.7 663.1,483.4 664.0,482.7 666.0,482.2 667.4,483.4 669.0,484.0 671.3,483.9 672.3,483.7 673.5,482.9 675.5,482.8 677.7,482.0 679.3,482.5 679.6,483.4 681.6,484.1 684.0,483.4 684.5,484.6 685.5,486.7 686.7,487.9 688.3,489.5 689.4,490.3 688.7,491.5 687.6,491.7 686.2,493.9 685.2,493.5 684.3,495.9 683.4,497.3 682.4,498.2 681.7,499.8 681.0,501.6 680.3,503.7 678.1,504.0 677.6,505.1 676.0,505.2 673.8,505.5 672.8,506.6 670.5,506.4 670.0,507.8 667.0,507.7 666.6,507.3 664.6,508.1 662.3,506.3 661.8,506.5 660.1,505.1 658.8,504.5 657.6,503.9 656.8,502.4 654.7,502.0 654.5,501.0 652.9,500.1 652.1,500.1 652.0,499.1 652.6,496.6 652.3,494.6 653.4,493.3 653.3,491.7 652.4,491.0 653.2,488.4"/>
<polygon points="654.5,462.1 656.2,462.8 657.7,461.8 658.8,460.4 659.5,458.6 660.4,457.5 661.2,455.7 661.5,454.9 662.4,454.1 664.3,454.0 666.8,452.7 667.6,454.9 668.5,454.0 670.1,452.2 672.3,451.7 673.3,450.9 674.8,451.0 675.3,451.6 677.1,451.7 677.8,452.7 680.2,452.8 681.3,451.3 682.3,451.7 683.3,450.0 685.1,449.6 686.2,447.9 686.9,448.2 687.4,446.9 688.1,445.2 689.1,445.2 690.5,442.7 691.9,442.1 690.7,443.0 689.6,445.6 688.4,445.7 687.0,446.8 686.6,448.5 687.3,449.2 687.3,451.8 686.4,452.4 687.3,454.0 687.8,455.2 687.3,457.1 687.9,459.4 687.8,459.2 686.8,459.3 686.3,460.8 685.6,462.5 685.1,463.7 684.1,466.0 684.8,466.9 685.4,468.4 684.4,469.2 685.8,471.6 686.6,472.6 685.6,474.7 687.1,476.0 686.7,476.5 686.2,478.5 686.4,480.1 686.5,481.3 685.2,483.6 684.0,483.4 681.6,484.1 679.6,483.4 679.3,482.5 677.7,482.0 675.5,482.8 673.5,482.9 672.3,483.7 671.3,483.9 669.0,484.0 667.4,483.4 666.0,482.2 664.0,482.7 663.1,483.4 660.7,483.7 660.5,483.9 657.7,484.1 656.7,483.8 654.3,483.9 653.6,482.5 653.5,481.6 651.7,480.7 651.7,479.3 650.9,477.4 649.5,476.7 648.9,474.8 648.7,473.0 648.3,471.6 648.2,469.8 648.8,467.6 648.9,466.6 649.7,464.6 650.1,464.7 650.8,462.4 653.9,462.8"/>
<polygon points="647.0,456.6 648.1,454.4 648.4,454.3 648.0,451.9 648.9,452.1 650.7,450.9 651.3,449.7 651.2,448.2 651.9,447.5 652.9,446.7 655.5,446.1 656.4,445.3 656.8,443.3 658.0,443.2 659.6,442.1 661.2,442.0 661.6,440.1 662.2,440.0 664.1,438.9 665.5,439.2 665.9,438.1 668.5,438.1 668.8,437.1 671.1,438.1 671.8,438.1 672.8,436.4 672.6,433.6 673.2,432.4 673.6,430.5 672.7,430.5 671.5,428.8 671.5,428.0 672.4,429.5 673.7,430.5 674.6,430.1 675.5,428.7 676.7,429.0 677.3,427.6 678.2,427.1 680.1,425.5 679.7,427.4 681.4,429.7 681.4,430.5 682.1,431.8 684.2,432.5 684.6,434.2 684.6,435.5 686.7,436.8 687.3,437.7 688.4,438.3 689.5,439.0 690.3,439.5 690.5,440.2 690.9,440.8 691.9,442.1 690.5,442.7 689.2,445.2 688.1,445.3 687.4,446.9 686.9,448.2 686.2,447.9 685.1,449.6 683.3,450.0 682.2,451.6 681.4,451.3 680.1,452.8 677.8,452.7 677.1,451.7 675.3,451.6 674.8,451.0 673.3,451.0 672.3,451.7 670.1,452.2 668.4,454.0 667.6,454.9 666.8,452.7 665.4,454.2 664.2,454.0 662.4,454.1 661.5,454.9 661.3,455.5 660.4,457.5 659.5,458.6 658.2,459.7 657.4,461.0 657.6,461.8 656.2,462.8 654.5,462.1 653.5,462.7 652.0,462.4 651.2,460.9 650.1,460.1 649.0,459.3 648.2,458.1"/>
<polygon points="685.4,460.7 687.7,459.2 687.7,459.2 688.3,459.3 689.6,460.1 690.7,461.6 692.3,462.4 691.9,463.6 692.7,465.1 694.9,466.3 696.6,466.6 697.5,466.7 698.8,467.6 701.2,467.9 702.9,466.7 704.9,467.1 705.4,466.1 707.5,467.1 707.7,466.9 710.4,468.2 710.8,468.2 711.1,469.3 710.4,471.6 708.9,472.7 708.5,474.1 707.9,476.1 707.6,475.9 707.2,478.3 706.5,478.9 704.5,479.7 703.4,480.8 703.1,481.8 702.2,482.5 700.9,482.7 700.0,483.9 698.5,484.6 696.9,486.3 695.9,486.2 695.0,487.5 693.6,487.0 692.0,488.3 692.1,488.2 690.9,489.8 689.2,490.3 688.1,489.4 687.0,487.9 685.9,486.9 686.1,485.1 684.7,484.6 684.5,483.0 685.4,481.9 686.7,481.2 687.1,479.7 686.1,478.7 687.0,477.1 687.2,476.1 685.8,474.4 686.2,472.6 686.0,471.4 684.4,469.1 685.4,468.3 684.7,466.0 684.9,465.8 685.0,463.6 685.9,463.0 685.7,461.5"/>
<polygon points="653.7,335.4 655.9,334.8 655.9,334.8 658.5,334.2 659.3,333.4 659.7,332.6 661.9,331.9 663.2,331.6 663.6,331.1 665.5,331.0 666.6,329.5 667.7,329.6 669.0,328.3 670.4,328.4 671.4,327.4 672.8,326.2 673.7,325.5 673.8,324.8 676.4,324.3 676.5,324.9 678.0,323.5 679.6,323.4 680.1,322.3 681.4,322.4 682.8,323.0 683.6,322.4 686.2,322.9 686.3,323.1 687.9,323.6 689.0,323.3 691.2,324.2 692.8,323.9 693.1,325.2 695.7,324.4 693.1,325.2 692.8,323.9 691.6,326.8 690.3,326.6 689.2,328.3 689.4,329.2 688.5,330.7 687.9,332.1 689.9,333.2 690.7,335.0 689.4,334.7 687.7,336.7 686.5,337.2 686.0,337.9 685.5,339.5 685.0,339.7 684.5,342.3 683.3,342.1 682.6,344.1 681.7,344.8 680.3,345.8 679.0,347.4 678.1,348.1 677.4,349.4 676.0,351.3 675.4,351.3 675.0,353.6 674.2,353.4 673.2,355.8 672.6,355.5 672.0,357.1 670.6,359.1 668.7,359.1 667.4,359.8 666.9,359.8 666.3,358.1 665.9,356.1 666.4,356.3 665.4,354.7 665.8,352.5 664.8,352.4 663.0,352.2 662.3,350.5 661.0,349.6 661.0,349.0 659.8,346.9 657.6,345.6 657.7,344.3 656.9,344.1 656.3,342.3 656.1,340.9 655.3,339.8 655.6,339.0 654.6,337.7 654.9,335.7"/>
<polygon points="648.7,336.4 649.7,335.9 651.2,334.4 652.6,334.9 653.7,335.4 654.9,335.7 654.6,337.7 655.6,339.0 655.3,339.8 656.1,340.9 656.3,342.3 656.9,344.1 657.7,344.3 657.6,345.6 659.8,346.9 661.0,349.0 661.0,349.6 662.3,350.5 663.0,352.2 664.8,352.4 665.8,352.5 665.4,354.7 666.4,356.3 665.9,356.1 666.3,358.1 666.9,359.8 667.4,359.8 667.4,359.8 666.4,361.9 665.2,362.2 664.2,365.0 663.5,364.8 663.8,367.2 663.9,367.2 662.7,369.6 662.0,369.8 662.5,371.8 661.9,372.9 661.9,374.4 661.6,374.8 660.1,376.4 657.9,376.4 656.8,377.2 656.3,377.9 654.8,377.9 653.6,377.2 651.6,376.8 652.0,376.6 649.9,375.7 648.2,376.9 646.0,375.7 646.1,373.4 644.3,371.7 643.7,370.8 643.5,368.6 643.6,367.9 644.7,366.4 644.7,365.6 644.7,363.8 645.6,362.2 645.1,359.6 645.8,358.7 645.4,356.5 645.2,355.7 644.1,353.6 645.4,352.8 643.6,350.6 643.0,349.6 642.6,348.5 643.2,345.9 643.6,344.0 644.0,343.9 644.8,342.1 645.9,341.2 646.8,339.7 646.9,338.8 647.5,337.2"/>
<polygon points="555.5,366.8 557.4,365.7 558.5,365.9 559.6,364.5 560.6,364.8 561.6,363.2 562.6,361.0 563.7,360.5 565.2,359.2 566.6,358.8 567.8,358.1 569.0,357.6 570.6,356.7 570.9,357.6 573.0,356.5 573.3,356.1 574.7,356.4 576.5,355.7 576.1,356.0 578.0,358.3 579.9,359.3 580.6,358.4 582.6,360.2 584.5,360.1 584.9,359.6 587.8,360.0 588.0,359.8 590.9,359.3 591.0,359.6 593.6,359.3 594.4,361.3 594.2,361.7 596.1,363.4 595.9,364.0 596.9,365.9 599.3,367.0 599.3,367.4 600.6,368.6 601.5,368.9 602.0,370.5 602.8,370.8 603.1,371.6 603.0,374.3 602.5,374.7 602.1,376.2 601.7,377.3 599.8,378.3 597.9,379.8 598.0,380.9 597.9,382.2 597.2,383.3 596.0,384.9 595.4,387.1 596.1,387.9 595.8,389.6 593.7,389.8 593.4,389.2 590.8,389.5 590.1,388.7 588.5,388.6 587.0,387.4 586.7,386.8 585.4,387.2 584.1,387.0 582.2,387.0 581.7,385.4 579.6,385.3 580.0,385.2 577.9,384.8 577.0,384.5 575.9,383.9 574.6,383.1 574.0,382.6 572.3,380.6 571.8,379.0 570.3,379.0 569.9,380.2 567.5,379.5 567.5,380.5 566.7,381.1 565.5,381.6 564.6,382.3 562.8,383.0 561.5,384.5 562.2,383.0 561.1,380.5 562.0,380.3 560.1,379.4 560.6,377.9 559.0,375.9 558.2,375.1 557.5,374.5 556.2,373.5 554.6,372.2 554.4,371.9 553.1,370.5 553.7,368.7 554.2,368.8 554.4,367.2"/>
<polygon points="608.4,343.0 608.6,342.8 610.5,342.4 611.8,342.1 613.2,343.1 613.7,343.3 615.8,344.7 617.1,346.0 618.8,346.8 619.7,347.4 621.3,348.5 622.6,349.3 624.4,350.3 626.0,349.5 627.8,349.9 628.7,348.6 631.5,348.5 631.6,347.2 634.6,348.0 634.5,348.1 637.2,347.6 637.2,348.0 640.0,347.0 640.2,347.2 642.8,347.2 642.4,349.1 644.3,349.4 643.5,351.2 645.4,352.9 644.3,353.5 645.3,354.7 645.0,356.5 645.5,356.5 645.5,358.5 645.1,359.9 645.7,362.0 645.9,362.8 644.9,364.4 644.2,366.0 643.8,368.0 643.1,368.8 643.1,369.9 641.1,368.8 639.4,368.2 638.3,368.9 636.5,368.1 634.8,367.5 633.6,367.9 631.3,368.1 631.3,369.0 631.2,370.1 630.8,371.5 629.8,372.6 628.8,373.9 628.5,375.1 628.0,376.4 627.5,377.5 627.8,379.3 627.8,379.6 626.1,379.1 625.7,378.3 624.1,377.4 623.3,377.3 622.1,377.2 621.5,377.4 619.2,377.1 618.7,377.2 617.1,378.6 615.2,378.4 614.3,379.4 613.3,381.8 613.2,381.3 611.1,381.1 609.7,380.9 608.5,381.6 607.7,380.8 605.9,380.4 605.1,381.1 603.4,380.5 602.8,379.6 600.8,378.8 600.8,378.4 601.7,377.3 602.1,376.2 602.5,374.7 603.0,374.3 603.1,371.6 602.8,370.8 602.0,370.5 601.5,368.9 600.6,368.6 599.3,367.4 599.3,367.0 596.9,365.9 595.9,364.0 596.1,363.4 594.2,361.7 594.4,361.3 593.6,359.3 595.2,359.6 596.4,359.7 598.3,359.3 599.1,359.5 601.2,358.5 602.0,359.1 603.3,356.8 604.4,356.8 604.8,354.9 605.1,354.5 605.2,351.8 605.6,350.9 606.9,350.0 606.6,347.6 605.8,346.4 606.8,345.2 608.2,344.4"/>
<polygon points="631.3,368.1 633.6,367.9 634.8,367.5 636.5,368.1 638.3,368.9 639.4,368.2 641.1,368.8 643.1,369.9 643.8,370.3 644.5,372.2 646.0,373.4 646.0,375.7 647.2,375.9 648.5,376.8 650.2,375.8 651.3,376.9 653.6,377.1 654.6,377.9 656.4,378.0 656.4,376.9 657.5,376.6 659.4,375.7 660.1,375.1 661.3,373.4 662.8,373.1 662.8,374.4 664.4,374.9 665.3,376.5 665.3,377.3 664.7,377.5 664.0,378.4 663.0,379.3 662.0,380.6 661.6,381.0 661.2,382.7 660.4,384.2 659.4,385.5 657.9,387.0 658.0,387.7 658.8,389.6 657.6,389.8 656.5,392.6 656.8,393.4 657.4,394.3 656.5,396.1 655.5,396.9 655.2,398.2 655.0,399.6 654.0,400.8 653.0,401.8 651.9,403.8 651.1,402.5 649.5,401.2 648.5,400.6 647.8,399.8 646.6,397.6 645.1,395.9 643.2,395.3 642.9,395.0 641.4,396.1 640.5,396.3 639.0,397.3 637.8,397.1 636.4,397.9 635.9,397.6 633.8,398.9 632.9,397.3 631.5,395.3 630.8,394.7 630.5,394.2 628.5,392.6 627.3,391.8 627.7,391.7 626.3,389.6 627.0,387.8 626.7,387.8 626.0,386.2 626.9,384.9 626.5,383.0 626.4,382.5 627.8,379.6 627.8,379.3 627.5,377.5 628.0,376.4 628.5,375.1 628.8,373.9 629.8,372.6 630.8,371.5 631.2,370.1 631.3,369.0"/>
<polygon points="595.9,389.7 595.7,388.2 596.0,387.6 596.5,385.5 596.5,384.8 597.1,383.4 597.7,382.2 598.0,380.8 598.0,379.8 600.1,379.0 601.0,379.7 603.2,379.6 604.4,381.0 604.9,381.0 606.1,380.1 608.0,381.0 608.9,381.5 609.6,380.9 611.2,381.0 613.2,381.3 613.4,381.8 613.7,383.0 613.3,384.4 612.4,385.2 612.2,387.1 611.9,387.9 611.9,389.3 611.4,391.0 613.1,392.1 612.4,393.1 614.4,394.5 613.3,395.6 614.5,396.6 613.7,398.0 615.0,399.6 615.0,400.2 615.0,401.1 615.5,403.8 616.5,404.2 617.8,404.8 618.8,406.6 619.7,406.9 621.0,407.4 623.1,408.0 624.9,408.4 624.5,410.6 626.4,411.3 624.9,413.4 623.9,413.5 624.0,415.6 623.5,415.7 622.2,416.4 622.1,416.8 620.2,417.7 618.8,419.1 617.7,419.4 616.6,420.5 616.5,419.9 616.5,419.9 614.7,418.6 613.8,418.4 614.0,417.4 611.4,416.3 611.4,416.5 609.3,414.9 607.2,416.1 606.4,415.0 604.4,414.5 602.9,413.1 602.8,412.9 601.6,412.6 601.9,410.4 601.8,409.2 601.1,407.8 600.1,405.8 599.1,405.3 599.3,404.0 597.5,402.0 597.1,400.6 596.3,399.4 595.7,396.8 596.7,395.8 594.8,394.5 596.2,393.1 595.5,391.4"/>
<polygon points="613.4,381.8 614.3,379.4 615.2,378.4 617.1,378.6 618.7,377.2 619.2,377.1 621.5,377.4 622.1,377.2 623.3,377.3 625.0,378.0 625.4,378.4 627.8,379.6 626.4,382.4 626.5,382.9 627.0,384.9 626.0,386.1 626.7,387.8 627.1,387.8 626.3,389.6 627.7,391.7 627.4,391.9 628.5,392.6 630.5,394.3 630.9,394.9 631.5,395.5 633.5,397.1 634.3,398.8 634.9,400.6 635.9,400.8 635.1,402.6 634.2,404.6 632.5,404.8 631.3,405.8 630.2,405.8 629.1,407.2 628.5,407.9 627.9,409.1 626.5,409.1 624.9,408.4 623.1,408.0 621.0,407.4 619.7,406.9 618.8,406.6 617.8,404.8 616.5,404.2 615.5,403.8 615.0,401.1 615.0,400.2 615.0,399.6 613.7,398.0 614.5,396.6 613.3,395.6 614.4,394.5 612.4,393.1 613.1,392.1 611.4,391.0 611.9,389.3 611.9,387.9 612.2,387.1 612.4,385.2 613.3,384.4 613.7,383.0"/>
<polygon points="634.2,404.6 635.1,402.6 635.9,400.8 636.8,399.8 636.8,398.5 636.5,397.6 638.2,396.7 639.8,396.6 640.0,395.9 642.1,396.4 643.3,395.0 643.2,395.2 645.3,396.0 645.9,397.3 646.7,398.3 648.8,399.7 648.8,400.9 649.4,401.5 650.9,402.4 651.6,403.9 653.2,404.0 652.9,405.1 654.6,407.1 655.1,408.0 655.6,409.6 657.0,410.5 658.4,410.7 658.6,411.8 660.4,411.7 661.1,412.0 662.6,410.7 663.5,412.3 664.9,414.0 664.9,415.5 666.6,416.8 666.4,417.3 667.0,419.2 667.2,420.4 668.4,421.2 668.5,422.0 669.1,424.6 670.1,425.1 669.8,425.8 671.5,428.0 671.3,428.8 672.7,430.5 673.6,430.5 673.2,432.5 672.6,433.6 672.8,436.4 671.8,438.1 671.1,438.1 668.8,437.1 668.4,438.1 665.9,438.0 665.5,439.2 664.1,438.9 662.2,440.0 661.6,440.2 661.2,442.0 659.6,442.1 658.0,443.2 656.8,443.3 656.4,445.3 655.4,445.9 653.1,446.8 652.6,445.3 651.3,444.3 651.3,444.2 649.7,442.3 648.4,441.3 647.9,441.0 645.7,439.6 646.8,438.0 647.2,436.7 646.7,436.0 647.1,433.8 646.4,432.0 646.4,431.4 644.9,430.9 642.7,429.9 641.7,428.9 640.5,428.1 639.4,427.6 638.5,427.1 636.7,426.1 637.6,425.6 636.2,424.7 636.6,422.5 635.4,421.4 633.5,420.5 633.5,419.4 631.8,419.3 630.4,420.1 629.3,419.7 629.0,419.6 628.9,419.8 627.0,418.3 627.5,417.1 625.9,415.5 625.4,415.0 624.5,413.3 626.4,411.3 626.5,409.1 627.9,409.1 628.5,407.9 629.1,407.2 630.2,405.8 631.3,405.8 632.5,404.8"/>
<polygon points="653.2,404.0 654.0,402.9 654.1,401.5 654.4,400.3 655.0,399.4 655.4,398.1 656.2,397.1 656.5,395.8 657.2,394.7 657.4,395.6 659.2,396.1 659.7,396.8 660.8,398.2 661.9,399.6 664.1,399.8 664.3,400.9 666.3,401.4 668.1,401.8 668.4,402.7 670.9,402.6 671.3,402.1 672.0,401.0 673.1,399.8 673.3,399.1 673.5,398.1 675.0,396.7 675.8,396.6 676.8,394.3 678.6,395.6 678.8,395.7 679.7,396.5 680.3,398.4 681.9,399.3 684.3,399.5 685.0,399.8 686.4,400.8 686.2,401.0 687.2,401.6 688.7,403.2 689.4,403.8 690.3,405.7 690.4,406.6 691.9,408.2 692.2,409.0 693.1,411.4 693.5,412.3 694.7,412.5 694.7,414.5 694.2,416.2 693.7,417.0 693.2,418.2 693.2,419.8 692.4,420.9 691.5,421.8 689.1,422.0 689.1,422.2 686.9,422.6 686.0,422.7 685.1,424.0 683.2,424.0 681.8,424.7 681.6,425.2 680.1,425.5 678.1,427.3 676.8,427.8 676.2,427.6 674.3,427.8 674.5,427.5 672.3,426.8 671.1,426.8 669.8,425.7 669.9,424.8 669.1,424.2 668.2,421.9 667.2,420.4 667.0,419.2 666.4,417.3 666.6,416.8 664.9,415.5 664.9,414.0 663.5,412.3 662.6,410.7 661.1,412.0 660.4,411.7 658.6,411.8 658.4,410.7 657.0,410.5 655.6,409.6 655.1,408.0 654.6,407.1 652.9,405.1"/>
<polygon points="658.4,389.9 657.6,387.8 658.4,387.3 659.2,385.6 659.2,384.5 659.9,383.3 661.1,382.7 662.4,380.8 663.3,380.8 663.8,378.3 664.3,377.5 664.9,377.2 665.4,377.1 667.2,375.9 668.6,376.2 669.1,375.6 671.6,375.8 671.8,375.3 673.8,374.1 675.2,374.8 676.0,373.9 678.1,373.9 679.3,375.2 681.1,373.6 682.0,374.8 682.6,375.0 684.8,376.4 685.7,377.4 685.7,378.9 687.1,380.1 686.2,380.8 688.0,383.0 687.4,384.5 689.3,386.1 689.1,386.9 690.1,388.4 691.1,389.0 690.7,390.7 691.7,392.3 691.5,392.8 690.9,395.0 690.4,395.0 689.5,396.1 687.0,395.8 685.6,397.2 685.2,397.7 684.4,399.7 682.8,399.9 681.9,399.3 680.3,398.4 679.7,396.5 678.8,395.7 678.6,395.6 676.8,394.3 675.8,396.6 675.0,396.7 673.5,398.1 673.3,399.1 673.1,399.8 672.0,401.0 671.3,402.1 670.9,402.6 668.4,402.7 668.1,401.8 666.3,401.4 664.3,400.9 664.1,399.8 661.9,399.6 660.8,398.2 659.7,396.8 659.2,396.1 657.4,395.6 657.2,394.7 657.0,393.1 656.4,392.4 658.2,390.3"/>
<polygon points="579.5,417.8 581.6,416.4 582.4,415.7 583.3,414.4 584.9,414.8 586.4,414.7 587.8,414.8 589.4,415.4 591.2,414.5 592.8,415.3 593.9,415.3 596.0,414.8 596.3,415.1 598.3,415.1 599.5,413.9 600.4,415.0 602.3,414.1 603.1,413.1 604.3,414.5 606.4,415.1 607.8,416.0 609.6,415.0 609.9,416.1 611.4,416.4 612.9,416.6 613.6,417.5 615.5,417.9 615.7,418.5 616.5,419.7 615.6,421.3 615.8,422.1 616.6,424.2 615.2,424.4 613.8,426.4 612.8,426.5 612.0,427.9 611.1,429.6 610.1,430.3 609.2,432.4 607.7,432.1 607.5,434.1 607.1,434.6 606.1,435.8 604.8,436.1 604.0,437.9 603.3,438.4 601.9,439.1 599.6,440.8 598.7,441.0 596.8,440.4 596.2,440.4 594.1,440.1 592.8,439.3 591.7,438.1 589.7,437.8 589.5,437.6 588.0,435.8 586.4,435.6 586.9,434.8 585.5,433.1 585.2,433.0 584.4,431.5 584.2,429.7 584.0,428.6 584.1,427.3 583.0,426.6 583.0,424.8 583.1,423.2 582.7,423.2 582.5,421.4 581.3,419.9 580.3,418.1"/>
<polygon points="561.5,384.6 562.7,382.3 564.8,381.8 566.4,381.0 566.6,381.3 567.2,379.9 569.7,380.4 570.5,379.2 571.9,379.1 572.4,380.6 573.8,382.1 574.1,382.7 575.9,383.9 576.3,384.1 578.0,384.9 579.4,384.9 579.6,385.5 581.7,385.2 581.9,386.9 584.0,387.1 585.1,387.2 586.5,386.9 586.7,387.0 588.6,388.5 589.9,388.7 590.8,389.6 593.3,389.2 594.0,389.8 595.3,390.9 595.0,392.5 596.0,393.2 595.4,395.5 596.1,396.4 596.0,397.1 596.4,399.3 596.9,400.6 597.6,401.6 598.9,403.7 598.8,404.4 600.0,404.9 600.6,407.1 600.9,408.6 602.0,409.2 601.8,410.4 601.8,412.3 602.8,412.9 600.4,414.0 600.0,413.8 598.5,415.1 596.4,415.2 596.0,414.5 594.2,415.5 592.7,415.2 591.5,415.0 591.0,414.6 588.8,415.5 588.2,414.6 586.4,414.7 584.9,414.5 584.9,414.6 582.6,415.5 582.3,415.9 581.0,415.9 578.2,416.7 577.5,417.1 575.5,418.2 575.5,417.0 573.3,416.8 571.2,415.9 570.1,416.0 568.7,415.0 567.8,415.2 566.7,413.8 564.2,412.8 562.1,413.3 562.0,413.6 560.1,411.8 561.1,410.1 559.5,409.2 560.1,409.1 558.7,406.7 559.0,405.3 558.1,405.4 558.4,403.4 557.7,401.7 557.7,400.4 556.6,398.5 557.9,397.8 559.1,397.0 560.0,394.5 560.8,393.6 561.5,393.1 562.2,391.0 562.5,390.8 563.2,388.4 562.9,387.9 562.4,386.5 563.3,384.6"/>
<polygon points="552.4,421.8 552.6,420.3 552.9,418.6 553.6,417.5 554.4,415.7 556.8,414.4 557.5,413.7 559.4,412.5 559.8,412.9 562.1,413.7 562.2,412.9 564.2,412.9 566.2,413.8 567.0,414.6 568.5,415.1 569.5,415.6 570.7,415.7 572.5,416.8 573.8,416.6 575.7,417.3 576.6,418.2 578.0,416.8 579.5,417.8 580.9,419.1 581.1,420.3 582.5,421.4 582.7,423.2 583.1,423.2 583.0,424.8 583.0,426.6 584.1,427.3 584.0,428.6 584.2,429.7 584.4,431.5 585.2,433.0 585.5,433.1 584.2,434.5 581.7,434.7 580.4,436.5 580.3,437.0 579.0,438.1 577.0,437.9 576.3,438.7 575.1,438.7 574.7,441.0 574.9,441.3 574.6,443.3 573.9,443.9 572.1,443.1 571.4,441.8 571.3,440.7 569.3,439.9 567.8,438.6 568.0,437.1 565.6,437.4 564.7,439.7 563.6,439.9 562.2,441.1 560.7,442.5 559.9,442.5 558.6,443.5 557.8,443.8 556.6,444.7 554.7,444.8 554.1,444.8 552.0,445.5 551.1,445.8 550.3,444.0 549.8,444.4 549.0,442.7 549.0,441.1 548.6,440.2 548.5,438.6 547.5,437.3 547.8,435.8 547.7,434.2 547.0,433.7 548.0,432.0 548.6,430.6 548.8,428.8 549.6,426.6 550.1,425.4 551.1,424.5 552.0,423.1"/>
<polygon points="615.7,418.5 617.5,417.5 618.7,418.4 620.2,417.7 621.6,417.4 623.2,415.7 624.5,416.9 625.8,417.0 627.1,418.4 628.3,419.5 627.4,421.4 628.9,422.6 627.9,424.0 628.8,425.2 627.9,427.4 629.0,428.7 628.8,430.5 628.7,431.6 630.1,432.1 628.8,434.0 629.5,434.6 628.9,436.7 628.9,438.1 628.7,439.7 627.8,440.3 627.9,442.6 627.7,442.7 626.5,445.3 626.6,445.3 627.2,447.4 626.2,448.1 625.1,449.4 625.5,450.4 625.5,451.5 625.2,453.0 624.2,454.6 625.3,455.2 624.6,457.0 625.1,459.0 623.8,459.3 622.8,460.2 621.8,461.8 620.2,460.9 620.0,461.3 618.3,460.0 617.3,459.7 615.2,458.2 613.8,459.1 613.3,459.1 611.8,459.2 610.1,460.2 608.7,458.9 607.1,459.2 605.8,458.7 604.5,459.1 603.8,457.5 603.4,455.2 602.4,455.2 602.7,454.3 602.6,451.8 602.4,451.5 602.6,449.6 601.5,448.4 602.3,448.1 601.7,446.0 601.2,444.7 600.2,444.2 600.2,442.8 599.1,441.4 600.4,441.3 601.9,439.1 603.3,438.4 604.0,437.9 604.8,436.1 606.1,435.8 607.1,434.6 607.5,434.1 607.7,432.1 609.2,432.4 610.1,430.3 611.1,429.6 612.0,427.9 612.8,426.5 613.8,426.4 615.2,424.4 616.6,424.2 615.8,422.1 615.6,421.3 616.5,419.7"/>
<polygon points="629.2,419.6 630.6,420.4 631.2,420.3 632.8,419.6 633.5,420.5 635.3,421.2 636.9,422.5 636.0,424.4 637.4,425.5 636.7,426.2 638.9,426.9 640.3,428.5 640.9,428.2 642.3,429.9 643.2,430.1 644.8,431.1 646.5,432.0 646.5,432.0 647.1,433.8 646.7,436.0 647.2,436.8 646.9,438.0 645.7,439.6 647.9,441.0 648.5,441.4 649.7,442.3 651.2,443.6 652.2,443.9 653.3,445.3 654.9,445.9 653.4,446.8 652.3,447.5 651.7,448.2 651.3,449.8 650.8,450.9 649.4,452.2 648.0,453.7 647.6,454.3 647.1,456.6 647.1,457.3 648.8,457.7 649.1,459.5 649.7,461.4 651.4,462.5 650.9,462.5 650.7,462.4 649.5,464.4 649.1,464.9 648.1,466.2 646.8,465.1 645.3,464.9 643.8,463.5 642.0,462.8 640.5,462.5 639.6,462.0 638.4,461.6 636.2,460.3 636.2,460.2 634.3,459.4 634.4,458.6 633.7,457.7 633.2,455.6 631.8,455.1 631.1,457.1 630.2,456.9 629.6,459.1 629.3,461.5 626.4,460.0 625.9,459.5 625.4,459.0 624.5,457.0 625.2,455.5 624.7,453.9 625.5,453.4 625.4,450.9 625.2,449.3 626.0,447.7 627.3,447.3 626.6,445.2 626.5,445.2 627.7,442.8 627.5,443.1 628.2,440.7 628.8,440.1 628.7,438.0 628.9,436.6 629.7,435.1 629.1,435.0 629.4,432.5 629.4,432.1 628.6,430.8 629.0,428.5 628.2,427.4 629.0,425.0 627.7,424.4 628.3,422.7 629.0,421.7"/>
<polygon points="493.0,322.1 493.7,320.0 495.6,319.0 497.2,319.3 497.6,318.8 499.6,318.1 500.8,317.7 501.9,316.7 503.1,317.0 504.6,316.0 505.9,316.5 507.6,317.0 507.4,316.5 509.5,317.1 510.1,317.4 511.6,318.5 513.0,319.2 514.3,319.6 515.9,319.7 518.0,321.4 518.2,323.2 519.2,324.0 519.7,325.6 519.4,326.8 520.6,328.2 520.2,329.8 521.1,331.2 520.4,332.0 521.3,333.3 521.9,334.8 522.6,335.4 523.2,336.5 526.1,337.2 524.7,337.0 524.2,339.5 524.5,339.4 524.4,341.9 523.7,343.5 522.8,343.5 521.3,344.9 520.3,345.6 519.9,347.0 519.2,347.7 518.3,349.3 518.0,350.2 517.7,351.7 516.7,353.0 515.2,354.1 514.2,355.7 513.8,356.4 513.7,358.0 512.9,357.4 511.6,355.5 510.9,354.2 511.0,353.4 509.3,352.6 508.9,351.3 507.4,349.8 506.3,348.9 504.8,348.7 503.0,348.5 501.6,347.1 501.1,348.3 498.6,347.7 498.4,346.9 496.5,346.9 494.7,346.3 493.8,346.3 491.7,345.5 491.0,344.4 490.0,344.2 487.9,343.0 487.9,342.9 485.8,341.8 487.5,340.2 488.1,339.7 489.1,337.7 490.0,336.7 490.1,335.2 489.5,334.8 490.4,332.9 490.9,332.6 490.9,330.5 491.9,330.0 490.9,328.1 491.5,327.2 493.0,325.8 493.2,324.9 493.0,323.1"/>
<polygon points="761.2,512.1 763.4,512.8 764.0,515.2 764.6,516.1 764.4,516.3 764.6,518.7 764.0,519.5 764.2,521.1 764.2,522.1 763.8,524.7 763.7,525.5 764.9,527.3 763.9,528.4 765.4,529.7 764.6,531.8 765.7,532.3 765.3,534.0 766.1,535.1 765.1,537.0 766.6,538.6 765.9,539.2 765.5,541.1 766.1,542.4 766.2,544.2 764.7,544.7 764.8,546.9 765.5,547.0 764.4,549.3 763.5,549.3 763.6,551.7 762.6,551.7 761.4,554.0 762.0,554.0 762.1,556.4 760.9,556.4 760.4,558.7 760.5,558.7 758.5,558.6 758.1,557.6 756.7,556.0 757.3,555.3 755.8,553.4 756.6,552.5 755.0,551.1 756.0,550.5 754.2,548.4 754.8,547.8 753.5,547.0 752.4,546.2 751.6,543.8 750.4,542.8 750.4,542.5 748.4,541.5 747.1,540.0 746.4,539.6 745.0,539.0 743.8,539.4 742.5,538.4 740.8,538.6 740.7,536.3 741.9,535.5 740.2,534.4 741.2,533.1 742.5,532.0 742.8,530.8 743.1,529.9 744.9,530.0 746.7,528.9 747.2,528.5 748.1,527.5 749.2,526.8 751.0,526.8 751.8,526.1 752.3,525.5 753.8,524.3 755.3,525.1 758.0,525.0 759.3,525.6 759.6,525.6 760.9,524.7 759.1,522.6 760.2,522.0 759.7,519.7 760.3,518.6 760.4,516.6 759.7,516.4 760.2,514.4"/>
<polygon points="739.7,539.0 741.6,539.0 742.3,539.9 743.9,540.6 744.4,541.2 746.0,540.5 747.6,541.8 747.9,542.6 749.3,543.3 750.8,544.9 751.3,546.1 752.7,546.6 752.7,547.5 754.0,548.5 754.8,550.5 754.5,551.2 755.6,552.1 755.5,553.7 756.5,554.4 756.9,556.0 758.2,557.2 757.9,558.8 760.4,558.4 760.4,559.2 761.1,560.5 760.4,561.9 760.7,564.1 760.7,564.8 759.5,566.7 759.1,566.8 758.8,569.2 758.1,568.9 757.0,570.9 756.3,572.5 756.3,573.8 756.4,575.4 756.0,576.0 753.4,575.1 752.6,574.6 752.0,573.3 750.0,573.1 749.7,572.1 748.3,571.0 747.1,570.8 746.3,569.3 745.0,567.9 745.2,565.7 745.1,564.7 743.5,562.2 744.5,560.8 744.8,559.4 744.3,559.0 742.6,557.3 741.6,555.4 740.8,554.4 741.2,554.2 741.3,552.1 741.7,552.0 742.4,549.9 740.6,548.8 740.8,547.6 739.8,547.1 739.3,545.4 738.5,544.4 739.1,543.5 739.4,541.5 740.0,541.2"/>
<polygon points="225.6,484.2 227.9,483.6 228.4,484.7 229.9,484.5 231.3,485.9 231.7,485.9 233.9,487.2 233.9,487.1 236.4,488.3 236.3,488.1 238.8,489.1 238.9,488.8 240.8,489.9 241.4,489.8 242.7,491.0 243.8,491.0 244.4,492.4 245.9,492.4 246.3,493.8 248.0,493.7 248.4,494.9 250.0,494.8 250.8,495.8 252.2,495.6 253.4,496.6 254.5,496.4 255.7,498.0 255.5,498.7 257.5,499.2 259.0,501.2 259.0,502.5 260.3,502.7 260.7,503.8 262.1,505.2 263.1,505.5 264.0,506.1 265.6,507.1 265.2,507.9 266.4,509.2 268.1,510.3 268.7,510.9 270.0,512.6 270.2,514.0 271.5,514.0 272.3,514.9 273.0,516.5 275.3,516.7 275.2,517.1 275.9,518.4 276.5,519.1 278.0,520.5 279.2,521.3 279.4,521.8 281.1,523.8 281.1,524.6 282.2,524.8 282.6,525.9 284.4,526.0 284.9,527.3 286.2,527.3 287.4,528.5 287.8,529.7 288.3,529.7 289.0,531.8 289.7,533.7 289.8,534.5 290.1,535.7 290.3,536.9 291.2,538.4 291.6,540.4 292.4,541.0 291.8,542.0 293.1,544.3 292.7,545.3 292.5,547.4 292.3,547.6 291.7,549.5 291.3,549.9 290.7,551.5 289.7,552.2 289.0,553.6 288.7,554.4 287.8,555.7 286.8,556.6 287.0,557.8 287.1,558.8 285.9,560.2 284.6,561.1 283.6,562.5 283.1,563.0 283.1,564.7 282.5,565.2 281.8,567.0 281.2,567.4 280.3,569.3 279.6,569.6 279.1,571.6 278.3,571.8 277.7,573.8 277.8,574.1 277.7,575.9 276.6,576.3 276.1,578.0 276.2,578.6 275.1,580.1 273.6,580.9 273.5,582.2 273.4,583.2 272.2,584.2 271.5,585.4 272.3,586.8 272.2,588.0 270.6,589.5 269.4,590.7 269.7,591.5 270.3,593.5 269.6,593.5 268.1,596.2 267.5,596.5 267.8,598.5 267.9,599.7 267.2,600.7 266.5,602.2 266.1,603.4 266.6,604.4 266.1,606.3 265.2,606.6 264.9,608.7 264.1,609.3 263.1,610.7 262.4,612.1 261.9,612.6 260.9,614.8 259.5,614.5 258.8,617.0 258.6,616.6 258.3,618.8 257.3,619.0 256.3,620.5 256.0,620.5 253.9,621.4 252.2,621.2 250.8,621.5 250.0,620.4 248.4,620.6 248.0,619.4 246.0,619.2 245.8,618.4 244.2,617.1 243.3,616.7 242.8,616.2 240.3,616.6 239.3,616.7 237.8,617.3 235.4,617.9 235.1,618.2 233.8,618.3 232.6,617.4 231.6,617.3 229.9,616.2 229.2,616.4 227.8,618.6 227.0,618.4 226.9,619.8 226.1,620.5 225.0,622.1 224.2,621.9 223.2,622.9 221.4,623.7 220.9,623.5 218.2,623.6 216.3,622.2 216.0,621.5 214.4,621.4 213.0,621.2 211.9,621.4 210.7,618.7 211.6,617.3 209.7,615.5 210.4,615.0 211.7,613.4 212.9,612.9 213.4,611.4 213.7,610.8 214.5,609.5 215.7,608.6 216.4,606.7 216.1,606.2 215.7,603.8 216.7,603.1 218.3,601.4 218.6,599.6 217.9,599.2 217.9,596.7 219.4,596.8 220.1,594.6 219.3,593.6 219.6,592.1 220.3,591.3 220.8,588.9 220.1,588.9 220.4,586.5 221.9,585.7 221.0,584.2 220.9,583.1 222.1,581.3 222.8,581.2 222.8,578.6 223.0,578.5 223.5,576.4 223.9,575.2 224.5,574.0 224.1,572.8 224.1,570.9 225.4,570.6 224.1,568.3 224.3,567.1 224.4,565.5 223.5,564.5 224.0,563.5 222.5,561.6 221.9,561.0 221.3,559.6 220.9,559.0 220.1,557.7 219.2,557.1 219.5,554.7 217.7,554.3 218.3,553.7 216.9,552.5 216.7,550.1 216.0,550.3 215.4,549.3 215.7,546.5 215.4,545.8 214.8,545.0 214.9,543.3 214.9,542.4 214.2,540.6 214.4,539.5 214.5,538.2 213.6,536.9 214.2,536.6 213.9,534.1 213.1,532.7 214.0,532.6 212.9,530.5 213.2,529.6 213.0,528.5 212.7,526.4 212.9,525.7 212.2,524.5 212.7,523.7 213.1,521.8 211.8,520.6 213.2,519.6 212.7,517.2 211.9,517.4 213.3,515.1 213.9,514.5 213.0,513.0 213.7,511.8 214.5,510.5 214.4,509.6 215.1,507.6 216.3,507.2 216.9,505.4 216.9,504.7 217.3,503.3 218.3,502.3 219.2,501.3 219.7,500.1 220.4,499.3 221.4,498.1 222.2,497.3 222.4,496.1 222.7,495.2 224.1,493.5 224.8,493.0 223.8,490.5 224.2,490.2 225.0,488.3 225.6,487.1 225.5,484.9"/>
<polygon points="538.4,531.9 540.0,530.0 541.3,529.6 543.5,528.5 544.8,528.6 545.3,527.6 546.5,527.3 547.6,525.8 548.6,524.6 549.4,524.5 551.5,523.5 553.2,523.4 554.1,522.2 554.9,522.5 556.1,520.7 557.0,520.9 558.9,519.8 560.0,520.1 560.8,519.6 562.9,519.0 563.2,519.8 566.0,518.7 566.3,518.8 568.5,517.3 569.5,517.6 571.6,518.8 572.7,517.3 574.5,518.9 574.5,520.1 574.6,521.6 574.8,522.5 574.4,523.8 575.2,524.4 574.6,526.6 575.0,528.0 575.3,528.5 575.4,531.0 575.1,532.0 577.2,533.2 576.8,535.4 574.9,533.9 574.0,534.2 572.2,533.9 570.8,533.9 570.0,534.2 568.3,534.8 567.1,534.6 566.6,536.1 564.1,536.1 564.1,536.7 562.3,536.8 560.4,538.2 558.2,537.0 557.3,536.1 556.0,535.2 554.0,536.0 553.2,535.1 551.9,535.1 550.3,535.0 548.2,536.2 546.4,537.2 545.6,536.7 545.8,534.7 544.1,533.4 542.6,533.1 541.1,533.7 539.3,531.9"/>
<polygon points="181.5,132.9 181.9,133.6 183.9,134.0 184.9,133.5 186.1,133.3 187.2,134.9 188.1,135.2 190.0,135.7 189.9,136.8 192.3,137.0 191.9,138.0 192.7,140.7 192.6,142.0 191.9,142.9 191.3,143.7 190.2,145.3 189.0,145.3 188.4,147.2 187.9,148.7 187.4,149.6 186.9,151.8 185.9,152.1 184.8,153.5 183.6,155.5 182.3,155.5 181.3,157.7 180.4,157.3 179.5,157.9 178.9,158.0 177.2,159.3 175.8,159.3 175.7,160.3 174.9,160.8 173.2,162.6 171.4,162.5 170.0,163.6 169.0,165.0 168.1,165.6 166.7,167.2 164.9,167.3 164.4,169.1 163.9,170.8 163.7,171.3 164.0,173.7 164.5,175.0 166.2,176.3 166.2,177.4 166.6,179.5 169.0,179.9 169.7,181.2 170.8,181.7 172.5,182.0 174.2,182.8 175.6,182.5 177.3,184.1 179.3,185.0 181.1,185.1 182.0,185.7 182.9,186.5 185.0,186.7 187.4,187.5 188.3,189.1 189.5,189.7 189.9,190.7 189.7,192.8 188.3,193.7 189.4,194.8 189.5,196.6 187.9,198.1 188.5,199.2 188.6,200.4 188.1,202.7 187.9,203.5 187.6,205.1 187.7,206.5 187.6,209.3 187.5,209.7 186.6,211.2 186.5,212.7 186.3,214.6 186.0,216.7 186.6,217.0 186.4,218.3 185.9,219.9 185.1,220.5 184.4,222.2 185.4,222.8 185.3,225.3 184.1,224.3 182.4,223.6 180.1,223.9 180.3,223.9 177.7,223.3 177.8,223.9 178.6,222.2 179.1,220.9 179.4,219.5 178.4,217.8 176.7,216.7 175.5,216.4 174.9,215.4 173.9,213.8 172.8,213.2 171.9,212.9 170.6,211.7 169.6,211.6 168.5,210.4 167.1,210.1 166.5,209.3 164.8,207.8 163.8,206.7 163.6,206.3 162.2,205.0 160.5,202.8 159.8,201.8 158.8,201.5 157.7,200.2 157.1,198.7 155.5,198.2 153.9,197.8 153.6,196.5 152.9,195.0 151.2,193.9 150.5,192.4 149.3,191.8 149.6,190.4 147.7,190.0 147.9,189.2 147.4,186.8 146.5,186.2 145.8,185.4 145.3,184.8 144.6,183.1 142.8,182.3 143.3,180.9 142.2,179.9 142.7,178.0 142.3,177.3 142.0,175.9 141.9,173.6 141.9,172.4 142.0,171.0 142.1,170.2 142.7,168.3 143.5,167.0 143.8,166.0 143.6,163.2 144.5,163.5 145.6,161.0 145.8,161.3 145.7,159.1 146.6,158.8 147.9,157.2 148.4,156.5 148.6,155.2 149.9,154.1 151.5,153.4 153.0,152.4 154.1,151.5 155.0,150.0 155.8,149.0 156.8,147.8 157.9,146.9 158.5,146.7 159.8,145.8 161.7,145.1 162.8,143.5 163.0,143.5 164.0,142.5 165.5,142.7 166.4,141.4 167.8,141.0 168.6,139.7 168.6,139.4 170.3,138.6 171.9,138.1 172.4,137.4 173.7,136.9 176.3,135.5 177.8,135.5 178.0,134.1 179.7,134.1"/>
<polygon points="181.8,129.6 182.9,128.2 184.4,128.1 185.6,127.1 187.8,128.1 188.3,127.4 190.8,127.9 191.5,126.7 193.3,126.6 195.2,125.8 195.7,125.6 198.7,125.3 198.9,124.9 201.3,125.0 202.2,124.4 204.2,125.2 205.2,124.5 207.2,125.3 208.8,124.8 209.0,126.0 211.5,125.4 211.7,125.4 214.4,125.1 215.3,124.5 216.6,124.1 219.0,123.0 219.2,123.3 221.9,123.6 221.9,123.5 224.3,123.6 224.9,123.1 226.6,123.7 227.9,124.1 229.9,123.0 230.3,122.9 232.8,121.9 234.5,121.6 234.8,120.8 237.1,120.4 238.5,119.7 239.0,118.2 239.3,117.8 240.5,116.8 242.2,116.7 243.5,114.6 244.3,113.8 245.4,112.3 246.7,111.2 248.0,108.9 248.5,109.3 250.9,109.2 251.7,108.9 253.1,108.6 255.1,107.6 255.3,107.8 257.0,109.4 258.8,109.8 258.9,110.2 260.1,111.7 258.9,113.9 260.3,115.2 260.1,117.5 259.7,118.1 259.2,119.9 258.5,121.9 258.4,122.7 259.2,123.4 260.4,125.7 260.3,127.0 261.4,127.9 262.3,130.3 262.4,132.1 263.5,132.4 264.5,134.1 264.4,136.0 266.1,136.2 266.3,137.8 266.4,139.9 266.4,140.7 265.4,142.0 265.4,143.8 265.6,144.6 264.7,146.0 264.7,147.7 264.5,148.7 263.9,150.1 263.6,152.6 263.7,153.0 263.3,155.3 262.4,156.3 261.8,157.7 261.7,158.7 260.9,159.4 259.4,160.9 258.6,161.4 258.4,162.9 258.0,163.7 258.1,165.6 258.7,167.7 259.4,168.0 259.2,169.6 259.9,170.7 259.7,172.3 261.3,174.7 260.4,175.3 261.2,176.9 261.8,178.0 261.9,179.2 262.4,181.7 262.2,182.3 263.1,183.7 263.3,185.3 262.7,186.1 264.0,188.2 263.3,188.9 262.4,191.2 263.8,192.5 262.5,191.2 262.2,190.6 260.3,189.9 258.4,188.4 258.1,187.9 256.5,187.3 254.8,186.0 253.4,184.8 252.7,184.0 251.5,183.5 250.6,182.5 250.0,181.0 248.2,180.5 246.9,179.7 246.4,178.5 244.8,177.7 244.3,176.5 243.8,174.8 241.8,174.2 241.2,173.9 239.3,173.2 237.7,173.7 236.7,172.7 235.4,172.7 234.1,173.0 232.3,172.8 231.3,172.7 230.0,173.0 228.2,172.9 227.1,174.1 225.3,174.0 224.0,175.1 221.8,175.0 221.2,176.2 218.9,176.4 217.5,177.1 217.0,175.6 216.5,175.5 215.0,173.4 215.7,172.0 214.5,170.9 213.7,168.5 213.5,167.2 211.8,166.1 212.6,164.7 211.0,164.0 211.8,162.0 210.7,159.8 209.5,158.9 209.8,156.6 208.5,155.6 207.4,154.9 206.4,154.8 203.9,155.2 202.9,154.0 201.4,153.8 200.0,155.3 198.5,154.5 197.1,154.6 196.0,154.7 195.1,154.5 193.6,154.9 192.9,155.4 190.6,155.1 190.0,154.2 188.0,155.2 186.7,155.3 185.3,156.5 183.3,156.7 184.3,155.4 184.8,153.0 186.0,151.9 186.9,151.8 187.4,149.6 187.9,148.7 188.4,147.2 189.0,145.3 190.2,145.3 191.3,143.7 191.9,142.9 192.6,142.0 192.7,140.7 191.9,138.0 192.3,137.0 189.9,136.8 190.0,135.7 188.1,135.2 187.2,134.9 186.2,133.1 184.1,133.9 182.4,133.9 181.4,132.8 181.7,132.2 180.4,130.4"/>
<polygon points="189.5,189.7 192.1,189.2 193.6,189.7 195.5,188.3 196.7,188.4 198.4,188.8 199.4,188.4 201.3,188.3 202.1,187.2 203.8,187.6 205.1,186.6 206.6,187.1 207.9,185.9 209.3,186.1 210.9,184.7 212.1,184.9 213.6,185.2 215.0,184.9 216.7,185.6 219.0,186.4 220.5,187.7 221.5,187.1 223.8,187.6 224.2,187.8 226.3,187.2 226.9,186.6 227.7,184.8 228.8,184.5 229.7,182.0 227.6,181.4 228.5,180.4 227.2,179.7 225.1,179.0 224.3,178.8 221.9,178.9 220.8,179.5 219.8,180.1 219.4,178.6 218.4,177.6 217.5,177.1 218.9,176.4 221.2,176.2 221.8,175.0 224.0,175.1 225.3,174.0 227.1,174.1 228.2,172.9 230.0,173.0 231.3,172.7 232.3,172.8 234.1,173.0 235.4,172.7 236.7,172.7 237.7,173.7 239.3,173.2 241.2,173.9 241.8,174.2 243.8,174.8 244.3,176.5 244.8,177.7 246.4,178.5 246.9,179.7 248.2,180.5 250.0,181.0 250.6,182.5 251.5,183.5 252.7,184.0 253.4,184.8 254.8,186.0 256.5,187.3 258.1,187.9 258.4,188.4 260.3,189.9 262.2,190.6 262.5,191.2 263.8,192.5 263.8,192.5 265.5,192.7 264.8,194.4 265.4,195.8 265.9,197.3 266.6,199.7 266.2,200.2 267.0,201.2 266.8,202.8 268.0,204.3 266.8,206.5 268.4,206.6 268.1,207.6 268.2,210.0 268.8,211.1 267.5,212.4 267.1,212.9 266.9,214.7 266.0,214.6 264.8,216.9 264.1,216.7 265.2,219.4 264.6,220.3 265.2,221.2 265.5,222.4 265.9,223.6 266.0,226.2 265.9,226.8 267.4,227.4 266.0,229.8 264.9,231.4 265.5,232.0 266.1,234.3 264.8,234.9 263.7,236.4 262.7,236.7 262.7,238.6 261.6,238.7 260.0,240.0 259.2,239.7 258.0,241.2 256.6,241.3 254.7,242.8 253.6,243.2 253.2,241.7 252.0,240.2 252.0,240.3 251.5,239.1 249.9,237.7 250.0,235.9 248.7,235.6 248.0,234.4 246.7,233.4 247.0,233.0 245.4,230.8 245.0,229.7 243.4,229.8 242.9,230.2 241.8,229.6 239.6,229.0 238.8,229.0 237.5,228.8 236.7,229.2 234.5,228.3 234.1,227.5 232.1,228.6 231.2,228.4 228.9,228.5 228.2,229.0 226.4,229.1 224.8,230.1 224.2,229.6 222.3,230.3 220.9,229.3 219.9,229.6 218.1,228.2 217.2,228.1 214.9,228.4 214.2,227.9 211.6,228.3 211.5,228.6 209.2,229.2 208.2,230.2 207.1,230.2 205.8,229.4 204.2,229.4 202.4,228.5 201.1,227.4 199.8,227.0 197.8,225.5 196.2,224.6 195.6,224.3 193.9,223.2 192.6,222.8 192.0,222.0 190.2,221.0 189.7,220.7 188.2,219.5 187.1,219.5 186.4,218.4 184.4,218.0 186.2,216.3 186.3,214.5 186.5,212.7 186.6,211.2 187.5,209.7 187.6,209.3 187.7,206.5 187.6,205.1 187.9,203.5 188.1,202.7 188.6,200.4 188.5,199.2 187.9,198.1 189.5,196.6 189.4,194.8 188.3,193.7 189.7,192.8 189.9,190.7"/>
<polygon points="164.1,171.3 164.0,169.7 164.0,168.7 165.1,167.1 166.2,167.3 168.3,165.6 169.1,164.7 170.0,163.6 171.0,162.8 172.7,162.8 173.6,161.6 174.2,160.8 175.4,159.7 176.3,159.8 178.3,158.1 180.1,157.7 180.8,156.9 182.4,157.8 183.3,156.7 185.3,156.5 186.7,155.3 188.0,155.2 190.0,154.2 190.6,155.1 192.9,155.4 193.6,154.9 195.1,154.5 196.0,154.7 197.1,154.6 198.5,154.5 200.0,155.3 201.4,153.8 202.9,154.0 203.9,155.2 206.4,154.8 207.4,154.9 208.5,155.6 209.8,156.6 209.5,158.9 210.7,159.8 211.8,162.0 211.0,164.0 212.6,164.7 211.8,166.1 213.5,167.2 213.7,168.5 214.5,170.9 215.2,171.9 215.2,172.8 216.1,174.6 216.6,175.5 217.7,177.1 217.4,177.6 216.6,179.2 215.3,180.2 214.1,181.0 215.4,180.9 216.8,179.6 218.3,179.9 219.2,179.2 219.8,180.1 220.8,179.5 221.9,178.9 224.3,178.8 225.1,179.0 227.2,179.7 228.5,180.4 227.6,181.4 229.7,182.0 228.8,184.5 227.7,184.8 226.9,186.6 226.3,187.2 224.2,187.8 223.8,187.6 221.5,187.1 220.5,187.7 219.0,186.4 216.7,185.6 215.0,184.9 213.6,185.2 212.1,184.9 210.9,184.7 209.3,186.1 207.9,185.9 206.6,187.1 205.1,186.6 203.8,187.6 202.1,187.2 201.3,188.3 199.4,188.4 198.4,188.8 196.7,188.4 195.5,188.3 193.6,189.7 192.1,189.2 189.7,188.9 188.5,189.2 187.4,187.5 185.0,186.7 182.9,186.5 182.0,185.7 181.1,185.1 179.3,185.0 177.3,184.1 175.6,182.5 174.2,182.8 172.5,182.0 170.8,181.7 169.7,181.2 169.0,179.9 166.6,179.5 166.5,178.0 166.3,176.3 164.6,174.9 164.9,174.4 163.3,172.8"/>
</g>
<polygon fill="#f7c6ce" stroke="#fff" stroke-width="0.5" points="552.1,262.4 553.1,262.8 552.1,264.1 551.9,265.8 552.3,267.5 553.4,269.2 552.5,269.6 551.0,267.9 550.6,265.8 551.0,263.7"/>
<polygon fill="#ea6a6d" stroke="#fff" stroke-width="0.5" points="553.4,265.4 554.2,264.7 555.5,264.6 556.6,265.0 556.9,265.8 556.3,266.6 555.1,266.9 553.8,266.6 553.1,266.0"/>
<polygon fill="#ea6a6d" points="446.1,389.2 447.7,389.8 450.9,394.1 450.4,395.4 448.5,393.9 446.7,391.3"/>
<polygon fill="#ea6a6d" points="451.1,399.4 452.8,399.0 455.4,400.7 457.5,402.9 457.1,404.1 454.9,403.3 452.4,401.6"/>
<polygon fill="#ea6a6d" points="364.4,607.5 365.4,607.7 366.9,609.9 368.7,611.9 369.2,614.9 369.7,617.9 368.4,619.9 366.9,621.4 365.9,620.4 364.9,617.4 364.4,613.9 363.9,610.4"/>
<polygon fill="#ea6a6d" points="371.9,603.0 373.2,602.5 373.7,604.5 373.9,607.0 375.4,608.4 377.9,609.4 377.9,610.4 375.9,610.9 373.4,611.4 371.9,610.9 370.9,609.9 371.4,608.9 372.9,607.5 372.7,605.5 371.9,604.5"/>
<polygon fill="#ea6a6d" points="378.4,621.4 379.6,622.9 379.4,624.4 378.1,624.9 377.4,623.9 377.6,622.4"/>
<polygon fill="#b7e0f6" points="470.0,612.3 471.4,612.5 473.2,614.1 475.0,615.9 476.4,618.2 476.4,620.0 477.3,621.8 478.7,623.7 479.1,625.5 478.7,626.6 477.3,626.6 476.4,624.6 475.9,622.8 474.6,621.4 472.7,621.4 471.8,620.5 470.5,618.7 469.6,615.9 469.1,613.7"/>
<polygon fill="#4fb2e8" points="664.9,613.0 666.9,611.0 668.9,610.2 671.4,610.7 673.4,611.0 674.9,612.5 675.9,614.9 677.4,617.9 678.6,620.4 678.6,623.4 678.4,626.4 676.9,627.6 674.4,628.4 671.9,627.9 669.4,626.9 667.4,625.4 665.4,623.9 664.9,621.9 664.4,618.9 663.2,616.9 663.9,614.9"/>
<polygon fill="#f7c6ce" points="630.5,455.6 633.0,455.2 634.2,457.5 632.2,459.0 630.2,458.2"/>
</svg>
<div class="t" id="title">Écarts de consommation d'actes de coloscopie diagnostique (y compris vidéocapsule)</div>
<div class="t" id="sub">Taux France : 14,31 hospitalisations pour 1000 habitants</div>
<div class="t" id="lt">Taux de recours standardisé<br>pour 1000 habitants*<br><i>(classes par quintiles)</i></div>
<div class="li" style="top:174px;background:#ea6a6d"></div>
<div class="li" style="top:197px;background:#f7c6ce"></div>
<div class="li" style="top:220px;background:#f4f4f4"></div>
<div class="li" style="top:243px;background:#b7e0f6"></div>
<div class="li" style="top:266px;background:#4fb2e8"></div>
<div class="ll" style="top:175.35px">] 15,26 ; 22,06 ]</div>
<div class="ll" style="top:198.35px">] 14,14 ; 15,26 ]</div>
<div class="ll" style="top:221.35px">] 13,13 ; 14,14 ]</div>
<div class="ll" style="top:244.35px">] 11,77 ; 13,13 ]</div>
<div class="ll" style="top:267.35px">] 9,33 ; 11,77 ]</div>
<div class="t" id="src">Sources : PMSI 2019 - ATIH - INSEE - FHF data<br>*Taux standardisés par âge et sexe.</div>
</body>
</html>
